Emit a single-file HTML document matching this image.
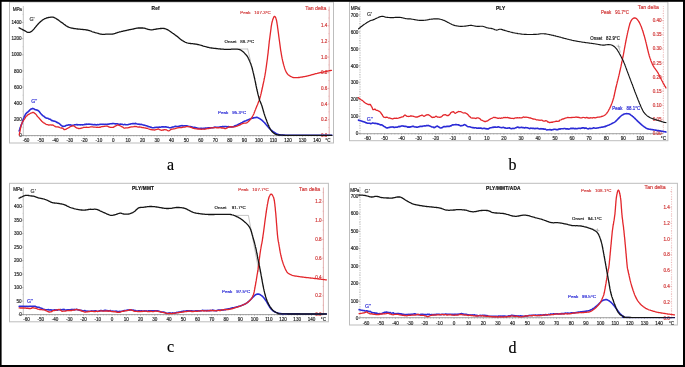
<!DOCTYPE html>
<html><head><meta charset="utf-8"><style>
html,body{margin:0;padding:0;background:#fff;}
svg{display:block;will-change:transform;}
text{font-family:"Liberation Sans",sans-serif;} text.serif{font-family:"Liberation Serif",serif;}
</style></head><body>
<svg width="685" height="367" viewBox="0 0 685 367">
<rect x="0" y="0" width="685" height="367" fill="#fff"/>
<rect x="9.5" y="2" width="324.0" height="141" fill="none" stroke="#bdbdbd" stroke-width="1"/>
<line x1="23.30" y1="6.00" x2="23.30" y2="135.60" stroke="#9a9a9a" stroke-width="0.6" />
<line x1="22.10" y1="135.60" x2="23.30" y2="135.60" stroke="#777" stroke-width="0.5" />
<line x1="22.50" y1="127.52" x2="23.30" y2="127.52" stroke="#aaa" stroke-width="0.4" />
<text x="21.7" y="137.2" font-size="4.6" fill="#2a2a2a" stroke="#2a2a2a" stroke-width="0.18" text-anchor="end" font-weight="normal" >0</text>
<line x1="22.10" y1="119.44" x2="23.30" y2="119.44" stroke="#777" stroke-width="0.5" />
<line x1="22.50" y1="111.36" x2="23.30" y2="111.36" stroke="#aaa" stroke-width="0.4" />
<text x="21.7" y="121.0" font-size="4.6" fill="#2a2a2a" stroke="#2a2a2a" stroke-width="0.18" text-anchor="end" font-weight="normal" >200</text>
<line x1="22.10" y1="103.28" x2="23.30" y2="103.28" stroke="#777" stroke-width="0.5" />
<line x1="22.50" y1="95.20" x2="23.30" y2="95.20" stroke="#aaa" stroke-width="0.4" />
<text x="21.7" y="104.9" font-size="4.6" fill="#2a2a2a" stroke="#2a2a2a" stroke-width="0.18" text-anchor="end" font-weight="normal" >400</text>
<line x1="22.10" y1="87.12" x2="23.30" y2="87.12" stroke="#777" stroke-width="0.5" />
<line x1="22.50" y1="79.04" x2="23.30" y2="79.04" stroke="#aaa" stroke-width="0.4" />
<text x="21.7" y="88.7" font-size="4.6" fill="#2a2a2a" stroke="#2a2a2a" stroke-width="0.18" text-anchor="end" font-weight="normal" >600</text>
<line x1="22.10" y1="70.96" x2="23.30" y2="70.96" stroke="#777" stroke-width="0.5" />
<line x1="22.50" y1="62.88" x2="23.30" y2="62.88" stroke="#aaa" stroke-width="0.4" />
<text x="21.7" y="72.6" font-size="4.6" fill="#2a2a2a" stroke="#2a2a2a" stroke-width="0.18" text-anchor="end" font-weight="normal" >800</text>
<line x1="22.10" y1="54.80" x2="23.30" y2="54.80" stroke="#777" stroke-width="0.5" />
<line x1="22.50" y1="46.72" x2="23.30" y2="46.72" stroke="#aaa" stroke-width="0.4" />
<text x="21.7" y="56.4" font-size="4.6" fill="#2a2a2a" stroke="#2a2a2a" stroke-width="0.18" text-anchor="end" font-weight="normal" >1000</text>
<line x1="22.10" y1="38.64" x2="23.30" y2="38.64" stroke="#777" stroke-width="0.5" />
<line x1="22.50" y1="30.56" x2="23.30" y2="30.56" stroke="#aaa" stroke-width="0.4" />
<text x="21.7" y="40.2" font-size="4.6" fill="#2a2a2a" stroke="#2a2a2a" stroke-width="0.18" text-anchor="end" font-weight="normal" >1200</text>
<line x1="22.10" y1="22.48" x2="23.30" y2="22.48" stroke="#777" stroke-width="0.5" />
<text x="21.7" y="24.1" font-size="4.6" fill="#2a2a2a" stroke="#2a2a2a" stroke-width="0.18" text-anchor="end" font-weight="normal" >1400</text>
<line x1="22.50" y1="14.40" x2="23.30" y2="14.40" stroke="#999" stroke-width="0.4" />
<text x="12.8" y="11.1" font-size="4.7" fill="#2a2a2a" stroke="#2a2a2a" stroke-width="0.18" text-anchor="start" font-weight="normal" letter-spacing="-0.3">MPa</text>
<line x1="19.00" y1="135.60" x2="329.20" y2="135.60" stroke="#787878" stroke-width="0.7" />
<line x1="23.19" y1="135.60" x2="23.19" y2="136.30" stroke="#666" stroke-width="0.45" />
<line x1="26.10" y1="135.60" x2="26.10" y2="136.80" stroke="#666" stroke-width="0.45" />
<line x1="29.01" y1="135.60" x2="29.01" y2="136.30" stroke="#666" stroke-width="0.45" />
<line x1="31.92" y1="135.60" x2="31.92" y2="136.30" stroke="#666" stroke-width="0.45" />
<line x1="34.83" y1="135.60" x2="34.83" y2="136.30" stroke="#666" stroke-width="0.45" />
<line x1="37.74" y1="135.60" x2="37.74" y2="136.30" stroke="#666" stroke-width="0.45" />
<line x1="40.65" y1="135.60" x2="40.65" y2="136.80" stroke="#666" stroke-width="0.45" />
<line x1="43.56" y1="135.60" x2="43.56" y2="136.30" stroke="#666" stroke-width="0.45" />
<line x1="46.47" y1="135.60" x2="46.47" y2="136.30" stroke="#666" stroke-width="0.45" />
<line x1="49.38" y1="135.60" x2="49.38" y2="136.30" stroke="#666" stroke-width="0.45" />
<line x1="52.29" y1="135.60" x2="52.29" y2="136.30" stroke="#666" stroke-width="0.45" />
<line x1="55.20" y1="135.60" x2="55.20" y2="136.80" stroke="#666" stroke-width="0.45" />
<line x1="58.11" y1="135.60" x2="58.11" y2="136.30" stroke="#666" stroke-width="0.45" />
<line x1="61.02" y1="135.60" x2="61.02" y2="136.30" stroke="#666" stroke-width="0.45" />
<line x1="63.93" y1="135.60" x2="63.93" y2="136.30" stroke="#666" stroke-width="0.45" />
<line x1="66.84" y1="135.60" x2="66.84" y2="136.30" stroke="#666" stroke-width="0.45" />
<line x1="69.75" y1="135.60" x2="69.75" y2="136.80" stroke="#666" stroke-width="0.45" />
<line x1="72.66" y1="135.60" x2="72.66" y2="136.30" stroke="#666" stroke-width="0.45" />
<line x1="75.57" y1="135.60" x2="75.57" y2="136.30" stroke="#666" stroke-width="0.45" />
<line x1="78.48" y1="135.60" x2="78.48" y2="136.30" stroke="#666" stroke-width="0.45" />
<line x1="81.39" y1="135.60" x2="81.39" y2="136.30" stroke="#666" stroke-width="0.45" />
<line x1="84.30" y1="135.60" x2="84.30" y2="136.80" stroke="#666" stroke-width="0.45" />
<line x1="87.21" y1="135.60" x2="87.21" y2="136.30" stroke="#666" stroke-width="0.45" />
<line x1="90.12" y1="135.60" x2="90.12" y2="136.30" stroke="#666" stroke-width="0.45" />
<line x1="93.03" y1="135.60" x2="93.03" y2="136.30" stroke="#666" stroke-width="0.45" />
<line x1="95.94" y1="135.60" x2="95.94" y2="136.30" stroke="#666" stroke-width="0.45" />
<line x1="98.85" y1="135.60" x2="98.85" y2="136.80" stroke="#666" stroke-width="0.45" />
<line x1="101.76" y1="135.60" x2="101.76" y2="136.30" stroke="#666" stroke-width="0.45" />
<line x1="104.67" y1="135.60" x2="104.67" y2="136.30" stroke="#666" stroke-width="0.45" />
<line x1="107.58" y1="135.60" x2="107.58" y2="136.30" stroke="#666" stroke-width="0.45" />
<line x1="110.49" y1="135.60" x2="110.49" y2="136.30" stroke="#666" stroke-width="0.45" />
<line x1="113.40" y1="135.60" x2="113.40" y2="136.80" stroke="#666" stroke-width="0.45" />
<line x1="116.31" y1="135.60" x2="116.31" y2="136.30" stroke="#666" stroke-width="0.45" />
<line x1="119.22" y1="135.60" x2="119.22" y2="136.30" stroke="#666" stroke-width="0.45" />
<line x1="122.13" y1="135.60" x2="122.13" y2="136.30" stroke="#666" stroke-width="0.45" />
<line x1="125.04" y1="135.60" x2="125.04" y2="136.30" stroke="#666" stroke-width="0.45" />
<line x1="127.95" y1="135.60" x2="127.95" y2="136.80" stroke="#666" stroke-width="0.45" />
<line x1="130.86" y1="135.60" x2="130.86" y2="136.30" stroke="#666" stroke-width="0.45" />
<line x1="133.77" y1="135.60" x2="133.77" y2="136.30" stroke="#666" stroke-width="0.45" />
<line x1="136.68" y1="135.60" x2="136.68" y2="136.30" stroke="#666" stroke-width="0.45" />
<line x1="139.59" y1="135.60" x2="139.59" y2="136.30" stroke="#666" stroke-width="0.45" />
<line x1="142.50" y1="135.60" x2="142.50" y2="136.80" stroke="#666" stroke-width="0.45" />
<line x1="145.41" y1="135.60" x2="145.41" y2="136.30" stroke="#666" stroke-width="0.45" />
<line x1="148.32" y1="135.60" x2="148.32" y2="136.30" stroke="#666" stroke-width="0.45" />
<line x1="151.23" y1="135.60" x2="151.23" y2="136.30" stroke="#666" stroke-width="0.45" />
<line x1="154.14" y1="135.60" x2="154.14" y2="136.30" stroke="#666" stroke-width="0.45" />
<line x1="157.05" y1="135.60" x2="157.05" y2="136.80" stroke="#666" stroke-width="0.45" />
<line x1="159.96" y1="135.60" x2="159.96" y2="136.30" stroke="#666" stroke-width="0.45" />
<line x1="162.87" y1="135.60" x2="162.87" y2="136.30" stroke="#666" stroke-width="0.45" />
<line x1="165.78" y1="135.60" x2="165.78" y2="136.30" stroke="#666" stroke-width="0.45" />
<line x1="168.69" y1="135.60" x2="168.69" y2="136.30" stroke="#666" stroke-width="0.45" />
<line x1="171.60" y1="135.60" x2="171.60" y2="136.80" stroke="#666" stroke-width="0.45" />
<line x1="174.51" y1="135.60" x2="174.51" y2="136.30" stroke="#666" stroke-width="0.45" />
<line x1="177.42" y1="135.60" x2="177.42" y2="136.30" stroke="#666" stroke-width="0.45" />
<line x1="180.33" y1="135.60" x2="180.33" y2="136.30" stroke="#666" stroke-width="0.45" />
<line x1="183.24" y1="135.60" x2="183.24" y2="136.30" stroke="#666" stroke-width="0.45" />
<line x1="186.15" y1="135.60" x2="186.15" y2="136.80" stroke="#666" stroke-width="0.45" />
<line x1="189.06" y1="135.60" x2="189.06" y2="136.30" stroke="#666" stroke-width="0.45" />
<line x1="191.97" y1="135.60" x2="191.97" y2="136.30" stroke="#666" stroke-width="0.45" />
<line x1="194.88" y1="135.60" x2="194.88" y2="136.30" stroke="#666" stroke-width="0.45" />
<line x1="197.79" y1="135.60" x2="197.79" y2="136.30" stroke="#666" stroke-width="0.45" />
<line x1="200.70" y1="135.60" x2="200.70" y2="136.80" stroke="#666" stroke-width="0.45" />
<line x1="203.61" y1="135.60" x2="203.61" y2="136.30" stroke="#666" stroke-width="0.45" />
<line x1="206.52" y1="135.60" x2="206.52" y2="136.30" stroke="#666" stroke-width="0.45" />
<line x1="209.43" y1="135.60" x2="209.43" y2="136.30" stroke="#666" stroke-width="0.45" />
<line x1="212.34" y1="135.60" x2="212.34" y2="136.30" stroke="#666" stroke-width="0.45" />
<line x1="215.25" y1="135.60" x2="215.25" y2="136.80" stroke="#666" stroke-width="0.45" />
<line x1="218.16" y1="135.60" x2="218.16" y2="136.30" stroke="#666" stroke-width="0.45" />
<line x1="221.07" y1="135.60" x2="221.07" y2="136.30" stroke="#666" stroke-width="0.45" />
<line x1="223.98" y1="135.60" x2="223.98" y2="136.30" stroke="#666" stroke-width="0.45" />
<line x1="226.89" y1="135.60" x2="226.89" y2="136.30" stroke="#666" stroke-width="0.45" />
<line x1="229.80" y1="135.60" x2="229.80" y2="136.80" stroke="#666" stroke-width="0.45" />
<line x1="232.71" y1="135.60" x2="232.71" y2="136.30" stroke="#666" stroke-width="0.45" />
<line x1="235.62" y1="135.60" x2="235.62" y2="136.30" stroke="#666" stroke-width="0.45" />
<line x1="238.53" y1="135.60" x2="238.53" y2="136.30" stroke="#666" stroke-width="0.45" />
<line x1="241.44" y1="135.60" x2="241.44" y2="136.30" stroke="#666" stroke-width="0.45" />
<line x1="244.35" y1="135.60" x2="244.35" y2="136.80" stroke="#666" stroke-width="0.45" />
<line x1="247.26" y1="135.60" x2="247.26" y2="136.30" stroke="#666" stroke-width="0.45" />
<line x1="250.17" y1="135.60" x2="250.17" y2="136.30" stroke="#666" stroke-width="0.45" />
<line x1="253.08" y1="135.60" x2="253.08" y2="136.30" stroke="#666" stroke-width="0.45" />
<line x1="255.99" y1="135.60" x2="255.99" y2="136.30" stroke="#666" stroke-width="0.45" />
<line x1="258.90" y1="135.60" x2="258.90" y2="136.80" stroke="#666" stroke-width="0.45" />
<line x1="261.81" y1="135.60" x2="261.81" y2="136.30" stroke="#666" stroke-width="0.45" />
<line x1="264.72" y1="135.60" x2="264.72" y2="136.30" stroke="#666" stroke-width="0.45" />
<line x1="267.63" y1="135.60" x2="267.63" y2="136.30" stroke="#666" stroke-width="0.45" />
<line x1="270.54" y1="135.60" x2="270.54" y2="136.30" stroke="#666" stroke-width="0.45" />
<line x1="273.45" y1="135.60" x2="273.45" y2="136.80" stroke="#666" stroke-width="0.45" />
<line x1="276.36" y1="135.60" x2="276.36" y2="136.30" stroke="#666" stroke-width="0.45" />
<line x1="279.27" y1="135.60" x2="279.27" y2="136.30" stroke="#666" stroke-width="0.45" />
<line x1="282.18" y1="135.60" x2="282.18" y2="136.30" stroke="#666" stroke-width="0.45" />
<line x1="285.09" y1="135.60" x2="285.09" y2="136.30" stroke="#666" stroke-width="0.45" />
<line x1="288.00" y1="135.60" x2="288.00" y2="136.80" stroke="#666" stroke-width="0.45" />
<line x1="290.91" y1="135.60" x2="290.91" y2="136.30" stroke="#666" stroke-width="0.45" />
<line x1="293.82" y1="135.60" x2="293.82" y2="136.30" stroke="#666" stroke-width="0.45" />
<line x1="296.73" y1="135.60" x2="296.73" y2="136.30" stroke="#666" stroke-width="0.45" />
<line x1="299.64" y1="135.60" x2="299.64" y2="136.30" stroke="#666" stroke-width="0.45" />
<line x1="302.55" y1="135.60" x2="302.55" y2="136.80" stroke="#666" stroke-width="0.45" />
<line x1="305.46" y1="135.60" x2="305.46" y2="136.30" stroke="#666" stroke-width="0.45" />
<line x1="308.37" y1="135.60" x2="308.37" y2="136.30" stroke="#666" stroke-width="0.45" />
<line x1="311.28" y1="135.60" x2="311.28" y2="136.30" stroke="#666" stroke-width="0.45" />
<line x1="314.19" y1="135.60" x2="314.19" y2="136.30" stroke="#666" stroke-width="0.45" />
<line x1="317.10" y1="135.60" x2="317.10" y2="136.80" stroke="#666" stroke-width="0.45" />
<line x1="320.01" y1="135.60" x2="320.01" y2="136.30" stroke="#666" stroke-width="0.45" />
<line x1="322.92" y1="135.60" x2="322.92" y2="136.30" stroke="#666" stroke-width="0.45" />
<line x1="325.83" y1="135.60" x2="325.83" y2="136.30" stroke="#666" stroke-width="0.45" />
<line x1="328.74" y1="135.60" x2="328.74" y2="136.30" stroke="#666" stroke-width="0.45" />
<text x="26.1" y="141.8" font-size="4.6" fill="#2a2a2a" stroke="#2a2a2a" stroke-width="0.18" text-anchor="middle" font-weight="normal" >-60</text>
<text x="40.7" y="141.8" font-size="4.6" fill="#2a2a2a" stroke="#2a2a2a" stroke-width="0.18" text-anchor="middle" font-weight="normal" >-50</text>
<text x="55.2" y="141.8" font-size="4.6" fill="#2a2a2a" stroke="#2a2a2a" stroke-width="0.18" text-anchor="middle" font-weight="normal" >-40</text>
<text x="69.8" y="141.8" font-size="4.6" fill="#2a2a2a" stroke="#2a2a2a" stroke-width="0.18" text-anchor="middle" font-weight="normal" >-30</text>
<text x="84.3" y="141.8" font-size="4.6" fill="#2a2a2a" stroke="#2a2a2a" stroke-width="0.18" text-anchor="middle" font-weight="normal" >-20</text>
<text x="98.9" y="141.8" font-size="4.6" fill="#2a2a2a" stroke="#2a2a2a" stroke-width="0.18" text-anchor="middle" font-weight="normal" >-10</text>
<text x="113.4" y="141.8" font-size="4.6" fill="#2a2a2a" stroke="#2a2a2a" stroke-width="0.18" text-anchor="middle" font-weight="normal" >0</text>
<text x="128.0" y="141.8" font-size="4.6" fill="#2a2a2a" stroke="#2a2a2a" stroke-width="0.18" text-anchor="middle" font-weight="normal" >10</text>
<text x="142.5" y="141.8" font-size="4.6" fill="#2a2a2a" stroke="#2a2a2a" stroke-width="0.18" text-anchor="middle" font-weight="normal" >20</text>
<text x="157.1" y="141.8" font-size="4.6" fill="#2a2a2a" stroke="#2a2a2a" stroke-width="0.18" text-anchor="middle" font-weight="normal" >30</text>
<text x="171.6" y="141.8" font-size="4.6" fill="#2a2a2a" stroke="#2a2a2a" stroke-width="0.18" text-anchor="middle" font-weight="normal" >40</text>
<text x="186.2" y="141.8" font-size="4.6" fill="#2a2a2a" stroke="#2a2a2a" stroke-width="0.18" text-anchor="middle" font-weight="normal" >50</text>
<text x="200.7" y="141.8" font-size="4.6" fill="#2a2a2a" stroke="#2a2a2a" stroke-width="0.18" text-anchor="middle" font-weight="normal" >60</text>
<text x="215.2" y="141.8" font-size="4.6" fill="#2a2a2a" stroke="#2a2a2a" stroke-width="0.18" text-anchor="middle" font-weight="normal" >70</text>
<text x="229.8" y="141.8" font-size="4.6" fill="#2a2a2a" stroke="#2a2a2a" stroke-width="0.18" text-anchor="middle" font-weight="normal" >80</text>
<text x="244.4" y="141.8" font-size="4.6" fill="#2a2a2a" stroke="#2a2a2a" stroke-width="0.18" text-anchor="middle" font-weight="normal" >90</text>
<text x="258.9" y="141.8" font-size="4.6" fill="#2a2a2a" stroke="#2a2a2a" stroke-width="0.18" text-anchor="middle" font-weight="normal" >100</text>
<text x="273.5" y="141.8" font-size="4.6" fill="#2a2a2a" stroke="#2a2a2a" stroke-width="0.18" text-anchor="middle" font-weight="normal" >110</text>
<text x="288.0" y="141.8" font-size="4.6" fill="#2a2a2a" stroke="#2a2a2a" stroke-width="0.18" text-anchor="middle" font-weight="normal" >120</text>
<text x="302.6" y="141.8" font-size="4.6" fill="#2a2a2a" stroke="#2a2a2a" stroke-width="0.18" text-anchor="middle" font-weight="normal" >130</text>
<text x="317.1" y="141.8" font-size="4.6" fill="#2a2a2a" stroke="#2a2a2a" stroke-width="0.18" text-anchor="middle" font-weight="normal" >140</text>
<text x="327.9" y="141.8" font-size="4.6" fill="#2a2a2a" stroke="#2a2a2a" stroke-width="0.18" text-anchor="middle" font-weight="normal" >°C</text>
<line x1="329.20" y1="6.50" x2="329.20" y2="135.60" stroke="#dc9a9a" stroke-width="0.8" />
<line x1="328.00" y1="135.30" x2="329.20" y2="135.30" stroke="#d07070" stroke-width="0.5" />
<line x1="328.50" y1="127.48" x2="329.20" y2="127.48" stroke="#d07070" stroke-width="0.4" />
<text x="327.4" y="136.9" font-size="4.6" fill="#d23c3c" stroke="#d23c3c" stroke-width="0.18" text-anchor="end" font-weight="normal" >0.0</text>
<line x1="328.00" y1="119.66" x2="329.20" y2="119.66" stroke="#d07070" stroke-width="0.5" />
<line x1="328.50" y1="111.84" x2="329.20" y2="111.84" stroke="#d07070" stroke-width="0.4" />
<text x="327.4" y="121.3" font-size="4.6" fill="#d23c3c" stroke="#d23c3c" stroke-width="0.18" text-anchor="end" font-weight="normal" >0.2</text>
<line x1="328.00" y1="104.02" x2="329.20" y2="104.02" stroke="#d07070" stroke-width="0.5" />
<line x1="328.50" y1="96.20" x2="329.20" y2="96.20" stroke="#d07070" stroke-width="0.4" />
<text x="327.4" y="105.6" font-size="4.6" fill="#d23c3c" stroke="#d23c3c" stroke-width="0.18" text-anchor="end" font-weight="normal" >0.4</text>
<line x1="328.00" y1="88.38" x2="329.20" y2="88.38" stroke="#d07070" stroke-width="0.5" />
<line x1="328.50" y1="80.56" x2="329.20" y2="80.56" stroke="#d07070" stroke-width="0.4" />
<text x="327.4" y="90.0" font-size="4.6" fill="#d23c3c" stroke="#d23c3c" stroke-width="0.18" text-anchor="end" font-weight="normal" >0.6</text>
<line x1="328.00" y1="72.74" x2="329.20" y2="72.74" stroke="#d07070" stroke-width="0.5" />
<line x1="328.50" y1="64.92" x2="329.20" y2="64.92" stroke="#d07070" stroke-width="0.4" />
<text x="327.4" y="74.3" font-size="4.6" fill="#d23c3c" stroke="#d23c3c" stroke-width="0.18" text-anchor="end" font-weight="normal" >0.8</text>
<line x1="328.00" y1="57.10" x2="329.20" y2="57.10" stroke="#d07070" stroke-width="0.5" />
<line x1="328.50" y1="49.28" x2="329.20" y2="49.28" stroke="#d07070" stroke-width="0.4" />
<text x="327.4" y="58.7" font-size="4.6" fill="#d23c3c" stroke="#d23c3c" stroke-width="0.18" text-anchor="end" font-weight="normal" >1.0</text>
<line x1="328.00" y1="41.46" x2="329.20" y2="41.46" stroke="#d07070" stroke-width="0.5" />
<line x1="328.50" y1="33.64" x2="329.20" y2="33.64" stroke="#d07070" stroke-width="0.4" />
<text x="327.4" y="43.1" font-size="4.6" fill="#d23c3c" stroke="#d23c3c" stroke-width="0.18" text-anchor="end" font-weight="normal" >1.2</text>
<line x1="328.00" y1="25.82" x2="329.20" y2="25.82" stroke="#d07070" stroke-width="0.5" />
<text x="327.4" y="27.4" font-size="4.6" fill="#d23c3c" stroke="#d23c3c" stroke-width="0.18" text-anchor="end" font-weight="normal" >1.4</text>
<line x1="328.50" y1="18.00" x2="329.20" y2="18.00" stroke="#d07070" stroke-width="0.4" />
<line x1="328.00" y1="10.18" x2="329.20" y2="10.18" stroke="#d07070" stroke-width="0.4" />
<g transform="translate(305.3,9.6) scale(1,1)">
<text x="0.0" y="0.0" font-size="5.2" fill="#d23c3c" stroke="#d23c3c" stroke-width="0.18" text-anchor="start" font-weight="normal" >Tan delta</text>
</g>
<text x="151.6" y="9.5" font-size="4.8" fill="#111" stroke="#111" stroke-width="0.18" text-anchor="start" font-weight="bold" letter-spacing="0.15">Ref</text>
<text x="29.5" y="20.8" font-size="5.2" fill="#333" stroke="#333" stroke-width="0.18" text-anchor="start" font-weight="normal" >G'</text>
<text x="31.3" y="103.1" font-size="5.2" fill="#2b2bd6" stroke="#2b2bd6" stroke-width="0.18" text-anchor="start" font-weight="normal" >G''</text>
<g transform="translate(224.4,42.9) scale(1,1)">
<text x="0.0" y="0.0" font-size="4.4" fill="#222" stroke="#222" stroke-width="0.18" text-anchor="start" font-weight="normal" letter-spacing="0.07">Onset&#160;&#160;&#160;88.7°C</text>
</g>
<g transform="translate(240.2,13.6) scale(1,1)">
<text x="0.0" y="0.0" font-size="4.4" fill="#d23c3c" stroke="#d23c3c" stroke-width="0.18" text-anchor="start" font-weight="normal" letter-spacing="0.07">Peak&#160;&#160;&#160;107.3°C</text>
</g>
<g transform="translate(218.1,114.2) scale(1,1)">
<text x="0.0" y="0.0" font-size="4.4" fill="#2b2bd6" stroke="#2b2bd6" stroke-width="0.18" text-anchor="start" font-weight="normal" letter-spacing="0.07">Peak&#160;&#160;&#160;95.3°C</text>
</g>
<line x1="238.30" y1="49.00" x2="247.60" y2="49.00" stroke="#7a7a7a" stroke-width="0.45" />
<line x1="247.60" y1="48.50" x2="250.50" y2="61.00" stroke="#7a7a7a" stroke-width="0.45" />
<clipPath id="ca"><rect x="18" y="2" width="314.7" height="134.1"/></clipPath>
<g clip-path="url(#ca)" fill="none" stroke-linejoin="round" stroke-linecap="round">
<path d="M19.2 130.9 L19.3 130.5 L19.5 130.0 L19.7 129.5 L19.9 128.9 L20.2 128.1 L20.4 127.3 L20.7 126.7 L20.9 125.8 L21.2 125.0 L21.5 124.5 L21.8 123.7 L22.0 123.1 L22.3 122.3 L22.5 121.7 L22.7 120.9 L23.0 120.1 L23.3 119.4 L23.6 118.6 L23.8 117.9 L24.1 117.3 L24.4 116.3 L24.7 115.9 L25.0 115.3 L25.4 114.5 L25.9 113.6 L26.4 113.3 L26.9 112.7 L27.5 112.2 L28.0 111.9 L28.5 111.4 L29.1 110.9 L29.7 110.1 L30.3 109.7 L30.9 109.1 L31.5 108.9 L32.0 108.8 L32.8 108.4 L33.6 108.7 L34.4 109.1 L35.0 109.6 L35.7 109.7 L36.4 109.9 L37.2 110.1 L37.9 110.5 L38.4 110.8 L38.9 111.2 L39.4 111.8 L39.9 112.4 L40.4 113.2 L40.9 113.7 L41.4 114.3 L42.0 114.9 L42.6 115.5 L43.1 115.9 L43.7 116.1 L44.3 116.7 L44.9 117.3 L45.6 117.7 L46.3 117.9 L47.0 118.2 L47.7 118.2 L48.4 118.7 L49.1 119.0 L49.8 119.3 L50.5 119.4 L51.2 120.1 L51.9 120.7 L52.6 120.6 L53.3 121.0 L54.0 121.1 L54.7 121.2 L55.4 121.4 L56.1 121.9 L56.8 122.4 L57.5 122.5 L58.2 123.0 L58.9 123.2 L59.5 123.8 L60.1 124.2 L60.7 124.9 L61.3 125.5 L61.9 125.8 L62.4 126.3 L63.2 126.4 L63.9 126.2 L64.7 126.3 L65.3 125.9 L66.0 125.6 L66.7 125.3 L67.4 125.2 L68.2 124.9 L68.9 124.7 L69.7 125.0 L70.6 124.9 L71.4 125.3 L72.2 125.4 L72.9 125.2 L73.7 125.1 L74.3 124.9 L75.0 124.8 L75.6 124.7 L76.4 124.6 L77.1 124.6 L77.8 124.9 L78.5 124.8 L79.3 124.8 L80.2 124.9 L81.1 124.8 L81.7 124.7 L82.4 124.9 L83.1 124.8 L83.8 124.7 L84.6 124.4 L85.4 124.3 L86.1 124.4 L86.8 124.1 L87.5 124.2 L88.1 124.3 L89.0 124.1 L89.9 124.2 L90.7 124.3 L91.4 124.5 L92.1 124.4 L92.7 124.6 L93.5 124.8 L94.1 124.6 L95.0 124.5 L95.6 124.7 L96.2 124.9 L96.9 124.7 L97.7 124.6 L98.5 124.7 L99.3 124.5 L100.0 124.4 L100.8 124.3 L101.5 124.3 L102.2 124.4 L103.0 124.3 L103.7 124.3 L104.4 124.5 L105.1 124.2 L105.9 124.3 L106.7 124.4 L107.4 124.2 L108.0 124.0 L108.7 124.2 L109.4 123.9 L110.1 123.7 L110.8 123.7 L111.6 123.8 L112.3 123.6 L113.0 123.5 L113.7 123.5 L114.4 123.8 L115.1 123.7 L115.8 124.0 L116.5 123.8 L117.2 123.8 L117.9 124.0 L118.6 124.3 L119.3 124.3 L120.0 124.2 L120.7 124.1 L121.4 124.2 L122.1 124.2 L122.8 124.5 L123.6 124.7 L124.3 124.5 L125.0 124.4 L125.7 124.7 L126.4 124.7 L127.0 124.8 L127.7 124.7 L128.5 124.4 L129.2 124.2 L129.9 124.3 L130.5 124.0 L131.2 123.8 L131.9 123.7 L132.7 123.6 L133.5 123.6 L134.2 123.8 L134.9 123.6 L135.7 123.4 L136.5 123.8 L137.3 124.0 L138.1 124.2 L138.9 124.1 L139.7 124.4 L140.4 124.5 L141.1 124.3 L141.7 124.5 L142.6 124.8 L143.3 125.0 L144.0 125.1 L144.6 125.2 L145.2 125.4 L145.8 125.6 L146.4 125.7 L147.2 126.1 L147.9 126.3 L148.7 126.7 L149.5 126.7 L150.3 127.1 L151.1 127.3 L151.8 127.6 L152.5 127.7 L153.2 127.8 L154.0 127.7 L154.8 127.4 L155.5 127.5 L156.2 127.3 L156.9 127.2 L157.8 127.3 L158.6 127.3 L159.4 127.1 L160.2 127.2 L160.9 127.1 L161.6 126.9 L162.4 126.8 L163.0 127.0 L163.7 126.9 L164.3 127.0 L165.1 126.9 L165.8 126.8 L166.5 127.0 L167.3 127.3 L168.1 127.2 L168.9 127.5 L169.7 127.7 L170.4 127.7 L171.2 127.6 L172.1 127.1 L172.9 127.0 L173.6 127.0 L174.4 126.6 L175.0 126.4 L175.8 126.3 L176.3 126.5 L176.9 126.5 L177.8 126.5 L178.3 126.6 L179.0 126.3 L179.7 126.0 L180.4 125.9 L181.2 125.7 L182.0 125.6 L182.7 125.9 L183.5 126.0 L184.2 125.7 L184.8 125.7 L185.7 125.7 L186.5 125.8 L187.2 125.9 L187.9 126.2 L188.7 126.4 L189.5 126.5 L190.2 126.5 L190.9 126.7 L191.6 126.7 L192.4 127.1 L193.1 127.4 L193.9 127.5 L194.7 127.4 L195.4 127.5 L196.1 127.7 L196.9 127.9 L197.6 128.2 L198.3 128.2 L199.0 128.4 L199.8 128.5 L200.5 128.4 L201.2 128.4 L201.9 128.4 L202.6 128.5 L203.4 128.4 L204.1 128.4 L204.8 128.3 L205.5 128.1 L206.3 128.1 L207.0 128.2 L207.7 127.9 L208.5 127.8 L209.2 127.8 L209.9 127.9 L210.7 128.0 L211.4 127.8 L212.2 127.8 L212.9 127.8 L213.6 127.5 L214.4 127.4 L215.1 127.1 L215.8 127.2 L216.5 127.2 L217.2 127.3 L218.0 127.2 L218.7 127.2 L219.4 127.1 L220.2 127.1 L220.9 126.8 L221.7 126.9 L222.4 126.6 L223.1 126.6 L223.9 126.8 L224.6 126.6 L225.3 126.5 L226.1 126.5 L226.8 126.9 L227.6 126.8 L228.3 126.6 L229.0 126.9 L229.7 126.7 L230.4 126.9 L231.2 126.9 L232.0 126.9 L232.8 126.8 L233.6 126.5 L234.3 126.3 L235.1 125.8 L235.8 125.6 L236.6 125.2 L237.4 124.9 L238.2 124.4 L239.0 124.1 L239.6 123.8 L240.0 123.6" stroke="#2b2bd6" stroke-width="1.6"/>
<path d="M240.0 123.6 L240.4 123.4 L240.9 123.1 L241.6 122.7 L242.3 122.4 L243.0 122.0 L243.7 121.6 L244.4 121.3 L245.1 121.0 L245.9 120.7 L246.6 120.4 L247.3 120.1 L248.0 119.9 L248.7 119.6 L249.4 119.3 L250.0 119.0 L250.6 118.8 L251.3 118.5 L252.0 118.3 L252.7 118.1 L253.5 117.9 L254.3 117.7 L255.1 117.6 L255.8 117.5 L256.4 117.4 L257.2 117.4 L257.8 117.6 L258.5 118.0 L259.1 118.3 L259.7 118.7 L260.4 119.2 L261.1 119.7 L261.8 120.2 L262.4 120.7 L262.9 121.2 L263.5 121.7 L264.0 122.2 L264.6 122.8 L265.1 123.4 L265.6 123.9 L266.0 124.5 L266.5 125.1 L267.0 125.6 L267.5 126.2 L267.9 126.8 L268.4 127.3 L268.9 127.9 L269.5 128.5 L270.0 129.0 L270.5 129.5 L271.1 130.0 L271.6 130.5 L272.3 131.0 L272.9 131.5 L273.6 131.9 L274.2 132.3 L274.9 132.7 L275.5 133.1 L276.1 133.5 L276.7 133.8 L277.4 134.1 L278.2 134.4 L278.8 134.6 L279.3 134.7 L279.8 134.8 L280.4 134.9 L281.2 135.0 L282.2 135.0 L283.6 135.1 L284.1 135.1 L284.6 135.1 L285.1 135.2 L285.6 135.2 L286.1 135.2 L286.7 135.2 L287.3 135.2 L287.9 135.2 L288.5 135.2 L289.1 135.2 L289.8 135.2 L290.5 135.2 L291.2 135.3 L291.9 135.3 L292.7 135.3 L293.5 135.3 L294.3 135.3 L295.2 135.3 L296.1 135.3 L297.0 135.3 L298.0 135.3 L299.0 135.3 L300.0 135.3 L300.6 135.3 L301.1 135.3 L301.7 135.3 L302.4 135.3 L303.0 135.3 L303.7 135.3 L304.4 135.3 L305.2 135.3 L305.9 135.3 L306.7 135.3 L307.5 135.3 L308.2 135.3 L309.1 135.3 L309.9 135.3 L310.7 135.3 L311.5 135.3 L312.4 135.3 L313.2 135.3 L314.1 135.3 L314.9 135.3 L315.8 135.3 L316.6 135.3 L317.4 135.3 L318.3 135.3 L319.1 135.3 L319.9 135.3 L320.8 135.3 L321.6 135.3 L322.3 135.3 L323.1 135.3 L323.9 135.3 L324.6 135.3 L325.4 135.3 L326.1 135.3 L326.7 135.3 L327.4 135.3 L328.0 135.3 L328.6 135.3 L329.2 135.3 L329.8 135.3 L330.3 135.3 L330.8 135.3 L331.2 135.3 L331.6 135.3 L332.0 135.3" stroke="#2b2bd6" stroke-width="1.6"/>
<path d="M19.2 135.0 L19.3 134.6 L19.4 134.1 L19.5 133.5 L19.6 132.7 L19.8 132.0 L20.0 131.2 L20.1 130.5 L20.3 129.6 L20.5 128.7 L20.6 127.9 L20.8 127.0 L21.0 126.3 L21.2 125.4 L21.3 124.9 L21.5 124.6 L21.8 123.6 L22.1 122.9 L22.4 122.0 L22.7 121.6 L23.1 121.2 L23.4 120.7 L23.8 120.0 L24.2 119.4 L24.6 118.8 L25.0 118.3 L25.5 117.4 L25.9 116.5 L26.4 116.2 L26.9 115.9 L27.3 115.3 L28.0 114.7 L28.8 114.4 L29.5 113.8 L30.2 113.5 L30.8 113.2 L31.7 112.9 L32.4 112.5 L33.2 112.4 L34.0 112.7 L34.7 113.4 L35.5 113.8 L36.0 114.4 L36.4 114.9 L36.9 115.7 L37.3 116.3 L37.9 116.9 L38.3 117.3 L38.8 117.7 L39.3 118.5 L39.8 119.1 L40.4 119.6 L40.9 120.3 L41.4 120.8 L42.0 121.5 L42.6 121.8 L43.1 122.5 L43.7 122.8 L44.3 123.2 L44.9 123.4 L45.6 124.0 L46.3 124.4 L47.0 124.6 L47.7 124.7 L48.4 125.0 L49.1 125.1 L49.8 124.9 L50.5 124.9 L51.2 125.1 L51.9 125.0 L52.6 125.0 L53.3 125.2 L54.0 125.7 L54.7 126.1 L55.4 126.6 L56.1 126.9 L56.8 126.9 L57.5 126.9 L58.2 127.0 L58.9 127.1 L59.6 127.5 L60.4 127.8 L61.1 128.0 L61.8 127.9 L62.4 128.2 L63.0 128.5 L63.6 129.0 L64.1 129.7 L64.7 129.7 L65.3 129.4 L66.0 129.3 L66.7 128.8 L67.5 128.3 L68.2 128.0 L68.9 127.7 L69.7 127.0 L70.4 126.7 L71.1 126.4 L71.7 126.2 L72.6 125.8 L73.3 125.7 L74.1 126.1 L74.7 126.3 L75.2 127.0 L75.7 127.4 L76.4 127.8 L77.0 128.2 L77.7 128.1 L78.4 128.5 L79.2 128.7 L79.9 128.3 L80.6 128.5 L81.2 128.1 L81.9 128.0 L82.6 127.8 L83.4 127.4 L84.1 127.4 L84.9 127.4 L85.7 127.4 L86.5 127.2 L87.3 127.3 L88.1 127.4 L88.9 127.3 L89.7 127.2 L90.5 126.9 L91.3 126.9 L92.1 126.8 L92.7 126.9 L93.5 127.1 L94.1 127.2 L95.0 127.1 L95.6 127.2 L96.3 127.3 L97.1 127.2 L98.0 127.4 L98.8 127.4 L99.7 127.1 L100.4 127.3 L101.0 126.9 L101.7 126.7 L102.5 126.7 L103.2 126.5 L103.9 126.4 L104.7 126.3 L105.5 126.2 L106.2 126.2 L106.8 126.2 L107.5 126.2 L108.3 126.6 L109.0 127.0 L109.7 127.1 L110.4 127.4 L111.2 127.4 L111.8 127.3 L112.5 127.3 L113.2 127.4 L113.9 126.9 L114.6 126.6 L115.2 126.1 L115.8 126.0 L116.5 125.5 L117.1 125.2 L117.8 125.0 L118.4 125.0 L119.0 125.3 L119.7 125.5 L120.3 126.0 L121.0 126.2 L121.6 126.6 L122.3 126.9 L122.9 127.2 L123.6 127.8 L124.2 128.2 L124.9 128.1 L125.6 127.9 L126.4 127.9 L127.1 127.9 L127.8 127.9 L128.5 127.7 L129.3 127.5 L130.0 127.1 L130.7 127.0 L131.5 126.8 L132.2 126.8 L132.9 126.8 L133.7 126.6 L134.4 126.4 L135.2 126.6 L135.9 126.4 L136.6 126.6 L137.4 126.9 L138.1 127.1 L138.9 127.0 L139.6 127.0 L140.3 127.1 L141.0 127.2 L141.7 127.5 L142.5 127.6 L143.3 127.5 L144.0 127.8 L144.7 127.8 L145.5 128.0 L146.4 128.3 L147.0 128.1 L147.7 128.5 L148.4 128.8 L149.1 129.0 L149.9 129.3 L150.7 129.5 L151.4 129.6 L152.1 129.8 L152.8 129.7 L153.4 129.9 L154.3 130.0 L155.2 129.8 L156.0 129.5 L156.7 129.4 L157.4 129.3 L158.1 128.9 L158.9 129.2 L159.6 129.6 L160.3 129.8 L160.9 130.2 L161.6 130.3 L162.3 130.1 L163.0 130.0 L163.7 130.0 L164.4 129.6 L165.1 129.7 L165.8 129.8 L166.5 129.8 L167.2 130.3 L167.9 130.6 L168.6 130.8 L169.3 130.6 L169.9 130.2 L170.6 129.6 L171.2 129.3 L172.0 129.1 L172.7 129.1 L173.4 128.8 L174.2 128.8 L175.0 128.7 L175.8 128.4 L176.7 128.1 L177.4 127.9 L178.1 127.8 L178.8 127.7 L179.5 127.7 L180.3 127.7 L181.0 127.6 L181.8 127.5 L182.5 127.4 L183.2 127.2 L184.0 127.1 L184.8 127.1 L185.5 126.8 L186.3 126.5 L187.0 126.7 L187.7 126.7 L188.4 126.6 L189.1 126.7 L189.8 126.9 L190.5 127.3 L191.1 127.4 L191.7 127.6 L192.3 127.8 L193.0 128.3 L193.8 128.4 L194.5 128.6 L195.3 128.7 L196.0 128.8 L196.9 128.9 L197.7 129.0 L198.4 129.1 L199.1 129.0 L199.8 129.0 L200.5 129.1 L201.3 129.3 L202.0 129.2 L202.8 129.1 L203.5 129.2 L204.2 129.2 L205.0 129.3 L205.7 128.9 L206.4 128.8 L207.2 128.7 L207.9 128.3 L208.7 128.6 L209.4 128.3 L210.1 128.0 L210.9 128.0 L211.6 127.8 L212.3 127.9 L213.0 127.8 L213.8 127.6 L214.5 127.5 L215.2 127.7 L215.9 127.6 L216.7 127.8 L217.4 127.7 L218.2 127.9 L218.9 127.8 L219.6 127.6 L220.3 127.6 L221.0 127.8 L221.8 128.0 L222.6 128.0 L223.4 128.0 L224.2 128.3 L224.9 128.6 L225.7 128.6 L226.5 128.2 L227.3 127.8 L228.0 127.5 L228.8 127.2 L229.6 126.9 L230.4 126.7 L231.2 126.9 L232.0 127.0 L232.8 126.8 L233.5 127.0 L234.3 126.8 L235.1 126.7 L235.9 126.5 L236.8 126.2 L237.7 125.8 L238.5 125.4 L239.2 125.2 L239.7 125.0" stroke="#e3262b" stroke-width="1.3"/>
<path d="M239.7 125.0 L240.2 124.8 L240.9 124.4 L241.7 124.0 L242.5 123.7 L243.3 123.4 L244.1 123.2 L244.9 123.2 L245.7 123.2 L246.5 122.9 L247.0 122.6 L247.6 122.2 L248.1 121.8 L248.7 121.3 L249.2 120.8 L249.8 120.2 L250.2 119.7 L250.6 119.2 L251.1 118.6 L251.5 118.0 L251.9 117.4 L252.3 116.7 L252.7 116.0 L253.1 115.3 L253.4 114.7 L253.7 114.1 L254.0 113.4 L254.2 112.7 L254.5 112.0 L254.8 111.3 L255.0 110.6 L255.3 110.0 L255.6 109.3 L255.8 108.7 L256.1 108.0 L256.4 107.3 L256.7 106.6 L256.9 106.0 L257.2 105.3 L257.5 104.7 L257.7 104.0 L258.0 103.3 L258.2 102.7 L258.5 102.1 L258.7 101.5 L258.9 100.9 L259.2 100.2 L259.4 99.6 L259.7 98.8 L259.9 98.0 L260.2 97.0 L260.3 96.4 L260.5 95.9 L260.7 95.2 L260.8 94.6 L261.0 93.9 L261.2 93.2 L261.3 92.5 L261.5 91.8 L261.7 91.0 L261.8 90.3 L262.0 89.5 L262.2 88.8 L262.3 88.0 L262.5 87.3 L262.7 86.5 L262.8 85.7 L263.0 85.0 L263.1 84.3 L263.3 83.6 L263.4 82.9 L263.6 82.3 L263.7 81.6 L263.9 80.9 L264.0 80.2 L264.1 79.5 L264.3 78.8 L264.4 78.1 L264.6 77.4 L264.7 76.7 L264.8 75.9 L265.0 75.2 L265.1 74.4 L265.2 73.6 L265.4 72.8 L265.5 72.0 L265.6 71.4 L265.7 70.7 L265.8 70.1 L265.9 69.4 L266.0 68.7 L266.1 68.0 L266.2 67.3 L266.3 66.6 L266.4 65.9 L266.5 65.1 L266.6 64.4 L266.7 63.7 L266.8 62.9 L266.9 62.2 L267.0 61.5 L267.1 60.7 L267.2 60.0 L267.3 59.3 L267.4 58.6 L267.5 57.9 L267.5 57.2 L267.6 56.5 L267.7 55.8 L267.8 55.1 L267.9 54.3 L268.0 53.6 L268.1 52.8 L268.2 52.1 L268.2 51.4 L268.3 50.6 L268.4 49.9 L268.5 49.2 L268.6 48.5 L268.6 47.8 L268.7 47.1 L268.8 46.4 L268.9 45.7 L268.9 45.0 L269.0 44.2 L269.1 43.5 L269.2 42.8 L269.2 42.1 L269.3 41.4 L269.4 40.7 L269.5 40.0 L269.6 39.3 L269.7 38.5 L269.8 37.8 L269.9 37.0 L270.0 36.2 L270.1 35.5 L270.2 34.7 L270.3 33.9 L270.4 33.1 L270.5 32.4 L270.6 31.6 L270.7 30.9 L270.8 30.1 L270.9 29.4 L271.0 28.7 L271.1 28.0 L271.1 27.4 L271.2 26.8 L271.3 26.2 L271.4 25.6 L271.5 25.1 L271.7 23.9 L271.9 22.9 L272.1 22.0 L272.3 21.3 L272.5 20.7 L272.6 20.1 L272.8 19.5 L273.0 19.0 L273.4 18.0 L273.8 17.1 L274.1 16.6 L274.5 16.3 L275.0 16.5 L275.5 17.3 L276.0 18.5 L276.1 19.0 L276.3 19.5 L276.4 20.1 L276.6 20.7 L276.7 21.4 L276.8 22.1 L277.0 23.0 L277.1 24.0 L277.3 25.1 L277.4 25.6 L277.5 26.2 L277.5 26.8 L277.6 27.4 L277.7 28.1 L277.8 28.7 L277.9 29.4 L278.0 30.2 L278.1 30.9 L278.2 31.6 L278.3 32.4 L278.4 33.2 L278.5 33.9 L278.6 34.7 L278.7 35.5 L278.8 36.3 L278.9 37.0 L279.0 37.8 L279.1 38.5 L279.2 39.3 L279.3 40.0 L279.4 40.7 L279.5 41.4 L279.6 42.2 L279.7 42.9 L279.8 43.7 L279.9 44.4 L280.0 45.2 L280.1 45.9 L280.2 46.7 L280.3 47.4 L280.4 48.2 L280.5 48.9 L280.6 49.6 L280.7 50.4 L280.8 51.1 L281.0 51.8 L281.1 52.5 L281.2 53.2 L281.3 53.8 L281.4 54.5 L281.5 55.1 L281.7 56.0 L281.8 56.8 L282.0 57.6 L282.1 58.4 L282.3 59.2 L282.5 60.0 L282.6 60.7 L282.8 61.4 L283.0 62.1 L283.1 62.8 L283.3 63.5 L283.5 64.2 L283.7 64.8 L283.8 65.4 L284.0 66.0 L284.3 66.9 L284.5 67.7 L284.7 68.4 L285.0 69.1 L285.2 69.8 L285.5 70.5 L285.8 71.1 L286.0 71.6 L286.3 72.2 L286.6 72.7 L287.1 73.5 L287.6 74.1 L288.1 74.7 L288.7 75.1 L289.3 75.6 L290.0 76.0 L290.6 76.4 L291.2 76.7 L291.9 77.0 L292.6 77.3 L293.4 77.5 L294.3 77.6 L295.3 77.7 L295.9 77.7 L296.5 77.7 L297.1 77.7 L297.8 77.6 L298.5 77.5 L299.2 77.5 L299.9 77.4 L300.7 77.2 L301.4 77.1 L302.2 77.0 L303.0 76.9 L303.8 76.7 L304.6 76.6 L305.4 76.4 L306.0 76.3 L306.7 76.1 L307.3 76.0 L308.0 75.8 L308.7 75.6 L309.3 75.5 L310.0 75.3 L310.7 75.1 L311.4 74.9 L312.1 74.7 L312.8 74.5 L313.6 74.3 L314.3 74.1 L315.0 73.9 L315.7 73.7 L316.4 73.6 L317.2 73.4 L317.9 73.2 L318.6 73.0 L319.4 72.9 L320.1 72.7 L320.9 72.5 L321.7 72.3 L322.6 72.2 L323.4 72.0 L324.2 71.8 L325.1 71.6 L325.9 71.5 L326.7 71.3 L327.4 71.1 L328.2 71.0 L328.9 70.8 L329.5 70.7 L330.1 70.6 L330.6 70.5 L331.1 70.4 L331.5 70.3" stroke="#e3262b" stroke-width="1.3"/>
<path d="M19.1 27.8 L19.5 28.0 L20.1 28.3 L20.7 28.6 L21.4 29.0 L22.2 29.4 L23.0 29.8 L23.6 30.1 L24.3 30.5 L25.0 30.9 L25.7 31.3 L26.4 31.7 L27.1 32.1 L27.8 32.3 L28.4 32.4 L29.1 32.4 L29.8 32.3 L30.4 32.0 L31.0 31.7 L31.7 31.2 L32.5 30.5 L32.9 30.1 L33.4 29.6 L33.9 29.1 L34.3 28.5 L34.8 27.9 L35.3 27.3 L35.9 26.6 L36.4 26.0 L36.9 25.4 L37.4 24.8 L37.9 24.2 L38.4 23.7 L39.0 23.1 L39.6 22.6 L40.1 22.0 L40.7 21.5 L41.3 21.0 L41.9 20.6 L42.5 20.1 L43.0 19.7 L43.6 19.3 L44.2 19.0 L44.9 18.6 L45.7 18.3 L46.4 18.0 L47.2 17.8 L47.9 17.6 L48.6 17.5 L49.3 17.4 L50.0 17.3 L50.8 17.2 L51.6 17.1 L52.3 17.1 L53.0 17.2 L53.8 17.4 L54.7 17.8 L55.2 18.0 L55.7 18.3 L56.3 18.7 L56.9 19.1 L57.5 19.5 L58.1 19.9 L58.7 20.3 L59.3 20.8 L59.9 21.2 L60.5 21.7 L61.1 22.1 L61.7 22.5 L62.3 22.9 L62.9 23.3 L63.4 23.7 L64.0 24.2 L64.6 24.6 L65.1 25.0 L65.7 25.5 L66.3 25.9 L66.9 26.2 L67.5 26.6 L68.1 26.9 L68.7 27.2 L69.4 27.5 L70.1 27.7 L70.9 27.9 L71.6 28.1 L72.4 28.2 L73.1 28.4 L73.9 28.5 L74.6 28.6 L75.4 28.7 L76.2 28.8 L76.9 28.9 L77.7 29.0 L78.4 29.1 L79.2 29.2 L80.0 29.2 L80.8 29.3 L81.6 29.4 L82.3 29.4 L83.0 29.5 L83.7 29.6 L84.4 29.6 L85.0 29.7 L86.0 29.9 L86.9 30.0 L87.7 30.2 L88.4 30.4 L89.1 30.5 L89.7 30.7 L90.5 31.0 L91.1 31.2 L91.7 31.5 L92.5 31.8 L93.1 32.0 L93.8 32.2 L94.5 32.4 L95.2 32.6 L96.0 32.8 L96.7 33.0 L97.4 33.2 L98.2 33.4 L98.9 33.7 L99.7 33.9 L100.5 34.1 L101.3 34.2 L102.0 34.3 L102.7 34.3 L103.4 34.3 L104.2 34.3 L104.9 34.3 L105.7 34.2 L106.5 34.2 L107.2 34.2 L107.9 34.2 L108.7 34.2 L109.4 34.2 L110.1 34.2 L110.8 34.2 L111.5 34.2 L112.3 34.1 L113.0 34.0 L113.7 33.8 L114.4 33.6 L115.2 33.4 L115.9 33.1 L116.6 32.9 L117.3 32.6 L118.1 32.3 L118.9 32.1 L119.6 31.9 L120.2 31.8 L121.0 31.6 L121.7 31.4 L122.4 31.3 L123.1 31.1 L123.9 30.9 L124.6 30.8 L125.2 30.6 L125.9 30.5 L126.7 30.3 L127.4 30.2 L128.2 30.0 L128.9 29.9 L129.6 29.7 L130.3 29.6 L131.0 29.4 L131.7 29.3 L132.4 29.1 L133.1 29.0 L133.9 28.8 L134.6 28.6 L135.3 28.5 L136.0 28.3 L136.8 28.2 L137.5 28.1 L138.2 28.0 L139.0 28.0 L139.8 28.0 L140.5 27.9 L141.3 28.0 L142.0 28.0 L142.7 28.0 L143.4 28.1 L144.3 28.2 L145.1 28.4 L145.9 28.7 L146.7 28.9 L147.4 29.1 L148.1 29.3 L148.8 29.5 L149.5 29.6 L150.1 29.7 L150.8 29.8 L151.6 29.8 L152.2 29.8 L152.9 29.7 L153.6 29.5 L154.4 29.4 L155.1 29.3 L155.9 29.1 L156.7 29.0 L157.4 28.9 L158.1 28.8 L158.9 28.7 L159.7 28.6 L160.4 28.5 L161.2 28.5 L161.9 28.4 L162.6 28.4 L163.2 28.4 L164.1 28.5 L164.8 28.6 L165.4 28.8 L166.0 29.0 L166.7 29.3 L167.3 29.6 L167.9 29.9 L168.5 30.3 L169.2 30.7 L170.0 31.3 L170.5 31.6 L171.0 32.0 L171.6 32.4 L172.1 32.8 L172.7 33.2 L173.4 33.6 L174.0 34.1 L174.6 34.5 L175.2 35.0 L175.8 35.4 L176.4 35.9 L177.0 36.3 L177.6 36.8 L178.2 37.3 L178.8 37.8 L179.3 38.3 L179.9 38.8 L180.5 39.3 L181.1 39.7 L181.7 40.1 L182.3 40.5 L183.0 40.9 L183.6 41.3 L184.3 41.6 L184.9 42.0 L185.6 42.3 L186.2 42.5 L186.9 42.8 L187.5 43.0 L188.2 43.2 L189.0 43.3 L189.7 43.4 L190.4 43.5 L191.2 43.6 L191.9 43.6 L192.7 43.7 L193.4 43.8 L194.1 43.9 L194.9 44.0 L195.6 44.1 L196.3 44.2 L197.0 44.4 L197.8 44.5 L198.5 44.6 L199.2 44.8 L199.9 45.0 L200.6 45.2 L201.4 45.4 L202.1 45.6 L202.8 45.9 L203.5 46.1 L204.3 46.3 L205.0 46.5 L205.7 46.7 L206.5 46.9 L207.2 47.1 L207.9 47.3 L208.7 47.4 L209.4 47.6 L210.2 47.8 L210.9 47.9 L211.6 48.0 L212.4 48.1 L213.1 48.2 L213.8 48.3 L214.5 48.4 L215.2 48.4 L216.0 48.5 L216.7 48.6 L217.4 48.7 L218.2 48.8 L218.9 48.8 L219.7 48.9 L220.4 49.0 L221.1 49.1 L221.9 49.1 L222.6 49.2 L223.3 49.2 L224.1 49.3 L224.8 49.3 L225.5 49.4 L226.2 49.4 L227.0 49.4 L227.7 49.4 L228.4 49.4 L229.1 49.4 L229.9 49.3 L230.6 49.3 L231.4 49.2 L232.1 49.2 L232.8 49.1 L233.5 49.1 L234.2 49.1 L235.1 49.1 L235.9 49.1 L236.7 49.1 L237.5 49.2 L238.2 49.3 L238.9 49.4 L239.7 49.6 L240.4 49.9 L241.1 50.3 L241.7 50.7 L242.4 51.2 L242.9 51.6 L243.4 52.1 L244.0 52.6 L244.5 53.1 L245.0 53.7 L245.5 54.2 L245.9 54.7 L246.4 55.3 L246.9 55.8 L247.3 56.4 L247.7 57.0 L248.2 58.0 L248.4 58.5 L248.7 59.0 L249.0 59.6 L249.2 60.2 L249.5 60.8 L249.8 61.5 L250.1 62.1 L250.4 62.9 L250.7 63.6 L251.0 64.4 L251.2 65.2 L251.5 66.0 L251.7 66.6 L251.9 67.2 L252.1 67.9 L252.2 68.5 L252.4 69.2 L252.6 69.9 L252.8 70.7 L253.0 71.4 L253.1 72.1 L253.3 72.9 L253.5 73.6 L253.7 74.3 L253.8 75.1 L254.0 75.8 L254.2 76.6 L254.3 77.3 L254.5 78.0 L254.7 78.7 L254.8 79.4 L255.0 80.1 L255.1 80.9 L255.3 81.6 L255.4 82.3 L255.6 83.0 L255.7 83.8 L255.8 84.5 L256.0 85.2 L256.1 85.9 L256.3 86.6 L256.4 87.3 L256.6 88.0 L256.7 88.7 L256.9 89.3 L257.0 90.0 L257.2 90.8 L257.4 91.6 L257.6 92.4 L257.7 93.1 L257.9 93.9 L258.1 94.7 L258.3 95.4 L258.5 96.1 L258.7 96.8 L258.9 97.5 L259.1 98.2 L259.2 98.8 L259.4 99.4 L259.6 100.0 L259.9 100.9 L260.2 101.6 L260.5 102.3 L260.7 102.9 L261.0 103.5 L261.3 104.1 L261.5 104.7 L261.8 105.5 L262.0 106.1 L262.2 106.8 L262.4 107.5 L262.6 108.2 L262.8 108.9 L263.0 109.6 L263.2 110.3 L263.4 111.0 L263.6 111.8 L263.8 112.4 L264.0 113.1 L264.2 113.9 L264.5 114.6 L264.7 115.4 L265.0 116.1 L265.2 116.8 L265.5 117.5 L265.7 118.2 L266.0 118.9 L266.2 119.6 L266.5 120.3 L266.8 121.1 L267.0 121.8 L267.3 122.5 L267.6 123.2 L267.9 123.8 L268.1 124.5 L268.4 125.1 L268.8 125.9 L269.1 126.7 L269.4 127.4 L269.8 128.1 L270.1 128.8 L270.5 129.4 L270.9 130.1 L271.3 130.7 L271.7 131.2 L272.2 131.7 L272.7 132.2 L273.3 132.7 L273.9 133.2 L274.5 133.7 L275.3 134.1 L276.0 134.4 L276.6 134.6 L277.2 134.8 L277.8 134.9 L278.5 135.0 L279.3 135.0 L280.4 135.1 L280.9 135.1 L281.2 135.2 L281.6 135.2 L281.9 135.2 L282.2 135.2 L282.6 135.2 L283.0 135.2 L283.5 135.3 L284.2 135.3 L285.0 135.3 L286.0 135.3 L287.2 135.3 L288.6 135.3 L290.3 135.3 L290.8 135.3 L291.2 135.3 L291.7 135.3 L292.3 135.3 L292.8 135.3 L293.4 135.3 L294.0 135.3 L294.7 135.3 L295.3 135.3 L296.0 135.3 L296.7 135.3 L297.4 135.3 L298.1 135.3 L298.9 135.3 L299.7 135.3 L300.4 135.3 L301.2 135.3 L302.0 135.3 L302.8 135.3 L303.7 135.3 L304.5 135.3 L305.3 135.3 L306.2 135.3 L307.0 135.3 L307.9 135.3 L308.7 135.3 L309.6 135.3 L310.5 135.3 L311.3 135.3 L312.2 135.3 L313.1 135.3 L313.9 135.3 L314.8 135.3 L315.6 135.3 L316.5 135.3 L317.3 135.3 L318.1 135.3 L318.9 135.3 L319.7 135.3 L320.5 135.3 L321.3 135.3 L322.1 135.3 L322.8 135.3 L323.6 135.3 L324.3 135.3 L325.0 135.3 L325.7 135.3 L326.3 135.3 L327.0 135.3 L327.6 135.3 L328.2 135.3 L328.8 135.3 L329.3 135.3 L329.8 135.3 L330.3 135.3 L330.8 135.3 L331.2 135.3 L331.6 135.3 L332.0 135.3" stroke="#141414" stroke-width="1.3"/>
</g>
<rect x="349.5" y="2" width="318.4" height="138.7" fill="none" stroke="#bdbdbd" stroke-width="1"/>
<line x1="360.00" y1="6.00" x2="360.00" y2="133.70" stroke="#666" stroke-width="0.7" stroke-dasharray="0.6 1.1"/>
<line x1="358.80" y1="133.70" x2="360.00" y2="133.70" stroke="#777" stroke-width="0.5" />
<line x1="359.20" y1="125.22" x2="360.00" y2="125.22" stroke="#aaa" stroke-width="0.4" />
<text x="358.4" y="135.3" font-size="4.6" fill="#2a2a2a" stroke="#2a2a2a" stroke-width="0.18" text-anchor="end" font-weight="normal" >0</text>
<line x1="358.80" y1="116.75" x2="360.00" y2="116.75" stroke="#777" stroke-width="0.5" />
<line x1="359.20" y1="108.27" x2="360.00" y2="108.27" stroke="#aaa" stroke-width="0.4" />
<text x="358.4" y="118.3" font-size="4.6" fill="#2a2a2a" stroke="#2a2a2a" stroke-width="0.18" text-anchor="end" font-weight="normal" >100</text>
<line x1="358.80" y1="99.80" x2="360.00" y2="99.80" stroke="#777" stroke-width="0.5" />
<line x1="359.20" y1="91.32" x2="360.00" y2="91.32" stroke="#aaa" stroke-width="0.4" />
<text x="358.4" y="101.4" font-size="4.6" fill="#2a2a2a" stroke="#2a2a2a" stroke-width="0.18" text-anchor="end" font-weight="normal" >200</text>
<line x1="358.80" y1="82.85" x2="360.00" y2="82.85" stroke="#777" stroke-width="0.5" />
<line x1="359.20" y1="74.37" x2="360.00" y2="74.37" stroke="#aaa" stroke-width="0.4" />
<text x="358.4" y="84.4" font-size="4.6" fill="#2a2a2a" stroke="#2a2a2a" stroke-width="0.18" text-anchor="end" font-weight="normal" >300</text>
<line x1="358.80" y1="65.90" x2="360.00" y2="65.90" stroke="#777" stroke-width="0.5" />
<line x1="359.20" y1="57.42" x2="360.00" y2="57.42" stroke="#aaa" stroke-width="0.4" />
<text x="358.4" y="67.5" font-size="4.6" fill="#2a2a2a" stroke="#2a2a2a" stroke-width="0.18" text-anchor="end" font-weight="normal" >400</text>
<line x1="358.80" y1="48.95" x2="360.00" y2="48.95" stroke="#777" stroke-width="0.5" />
<line x1="359.20" y1="40.47" x2="360.00" y2="40.47" stroke="#aaa" stroke-width="0.4" />
<text x="358.4" y="50.5" font-size="4.6" fill="#2a2a2a" stroke="#2a2a2a" stroke-width="0.18" text-anchor="end" font-weight="normal" >500</text>
<line x1="358.80" y1="32.00" x2="360.00" y2="32.00" stroke="#777" stroke-width="0.5" />
<line x1="359.20" y1="23.52" x2="360.00" y2="23.52" stroke="#aaa" stroke-width="0.4" />
<text x="358.4" y="33.6" font-size="4.6" fill="#2a2a2a" stroke="#2a2a2a" stroke-width="0.18" text-anchor="end" font-weight="normal" >600</text>
<line x1="358.80" y1="15.05" x2="360.00" y2="15.05" stroke="#777" stroke-width="0.5" />
<text x="358.4" y="16.6" font-size="4.6" fill="#2a2a2a" stroke="#2a2a2a" stroke-width="0.18" text-anchor="end" font-weight="normal" >700</text>
<line x1="359.20" y1="6.57" x2="360.00" y2="6.57" stroke="#999" stroke-width="0.4" />
<text x="350.8" y="10.1" font-size="4.7" fill="#2a2a2a" stroke="#2a2a2a" stroke-width="0.18" text-anchor="start" font-weight="normal" letter-spacing="-0.3">MPa</text>
<line x1="358.50" y1="133.70" x2="663.40" y2="133.70" stroke="#787878" stroke-width="0.7" />
<line x1="360.68" y1="133.70" x2="360.68" y2="134.40" stroke="#666" stroke-width="0.45" />
<line x1="364.09" y1="133.70" x2="364.09" y2="134.40" stroke="#666" stroke-width="0.45" />
<line x1="367.50" y1="133.70" x2="367.50" y2="134.90" stroke="#666" stroke-width="0.45" />
<line x1="370.91" y1="133.70" x2="370.91" y2="134.40" stroke="#666" stroke-width="0.45" />
<line x1="374.32" y1="133.70" x2="374.32" y2="134.40" stroke="#666" stroke-width="0.45" />
<line x1="377.73" y1="133.70" x2="377.73" y2="134.40" stroke="#666" stroke-width="0.45" />
<line x1="381.14" y1="133.70" x2="381.14" y2="134.40" stroke="#666" stroke-width="0.45" />
<line x1="384.55" y1="133.70" x2="384.55" y2="134.90" stroke="#666" stroke-width="0.45" />
<line x1="387.96" y1="133.70" x2="387.96" y2="134.40" stroke="#666" stroke-width="0.45" />
<line x1="391.37" y1="133.70" x2="391.37" y2="134.40" stroke="#666" stroke-width="0.45" />
<line x1="394.78" y1="133.70" x2="394.78" y2="134.40" stroke="#666" stroke-width="0.45" />
<line x1="398.19" y1="133.70" x2="398.19" y2="134.40" stroke="#666" stroke-width="0.45" />
<line x1="401.60" y1="133.70" x2="401.60" y2="134.90" stroke="#666" stroke-width="0.45" />
<line x1="405.01" y1="133.70" x2="405.01" y2="134.40" stroke="#666" stroke-width="0.45" />
<line x1="408.42" y1="133.70" x2="408.42" y2="134.40" stroke="#666" stroke-width="0.45" />
<line x1="411.83" y1="133.70" x2="411.83" y2="134.40" stroke="#666" stroke-width="0.45" />
<line x1="415.24" y1="133.70" x2="415.24" y2="134.40" stroke="#666" stroke-width="0.45" />
<line x1="418.65" y1="133.70" x2="418.65" y2="134.90" stroke="#666" stroke-width="0.45" />
<line x1="422.06" y1="133.70" x2="422.06" y2="134.40" stroke="#666" stroke-width="0.45" />
<line x1="425.47" y1="133.70" x2="425.47" y2="134.40" stroke="#666" stroke-width="0.45" />
<line x1="428.88" y1="133.70" x2="428.88" y2="134.40" stroke="#666" stroke-width="0.45" />
<line x1="432.29" y1="133.70" x2="432.29" y2="134.40" stroke="#666" stroke-width="0.45" />
<line x1="435.70" y1="133.70" x2="435.70" y2="134.90" stroke="#666" stroke-width="0.45" />
<line x1="439.11" y1="133.70" x2="439.11" y2="134.40" stroke="#666" stroke-width="0.45" />
<line x1="442.52" y1="133.70" x2="442.52" y2="134.40" stroke="#666" stroke-width="0.45" />
<line x1="445.93" y1="133.70" x2="445.93" y2="134.40" stroke="#666" stroke-width="0.45" />
<line x1="449.34" y1="133.70" x2="449.34" y2="134.40" stroke="#666" stroke-width="0.45" />
<line x1="452.75" y1="133.70" x2="452.75" y2="134.90" stroke="#666" stroke-width="0.45" />
<line x1="456.16" y1="133.70" x2="456.16" y2="134.40" stroke="#666" stroke-width="0.45" />
<line x1="459.57" y1="133.70" x2="459.57" y2="134.40" stroke="#666" stroke-width="0.45" />
<line x1="462.98" y1="133.70" x2="462.98" y2="134.40" stroke="#666" stroke-width="0.45" />
<line x1="466.39" y1="133.70" x2="466.39" y2="134.40" stroke="#666" stroke-width="0.45" />
<line x1="469.80" y1="133.70" x2="469.80" y2="134.90" stroke="#666" stroke-width="0.45" />
<line x1="473.21" y1="133.70" x2="473.21" y2="134.40" stroke="#666" stroke-width="0.45" />
<line x1="476.62" y1="133.70" x2="476.62" y2="134.40" stroke="#666" stroke-width="0.45" />
<line x1="480.03" y1="133.70" x2="480.03" y2="134.40" stroke="#666" stroke-width="0.45" />
<line x1="483.44" y1="133.70" x2="483.44" y2="134.40" stroke="#666" stroke-width="0.45" />
<line x1="486.85" y1="133.70" x2="486.85" y2="134.90" stroke="#666" stroke-width="0.45" />
<line x1="490.26" y1="133.70" x2="490.26" y2="134.40" stroke="#666" stroke-width="0.45" />
<line x1="493.67" y1="133.70" x2="493.67" y2="134.40" stroke="#666" stroke-width="0.45" />
<line x1="497.08" y1="133.70" x2="497.08" y2="134.40" stroke="#666" stroke-width="0.45" />
<line x1="500.49" y1="133.70" x2="500.49" y2="134.40" stroke="#666" stroke-width="0.45" />
<line x1="503.90" y1="133.70" x2="503.90" y2="134.90" stroke="#666" stroke-width="0.45" />
<line x1="507.31" y1="133.70" x2="507.31" y2="134.40" stroke="#666" stroke-width="0.45" />
<line x1="510.72" y1="133.70" x2="510.72" y2="134.40" stroke="#666" stroke-width="0.45" />
<line x1="514.13" y1="133.70" x2="514.13" y2="134.40" stroke="#666" stroke-width="0.45" />
<line x1="517.54" y1="133.70" x2="517.54" y2="134.40" stroke="#666" stroke-width="0.45" />
<line x1="520.95" y1="133.70" x2="520.95" y2="134.90" stroke="#666" stroke-width="0.45" />
<line x1="524.36" y1="133.70" x2="524.36" y2="134.40" stroke="#666" stroke-width="0.45" />
<line x1="527.77" y1="133.70" x2="527.77" y2="134.40" stroke="#666" stroke-width="0.45" />
<line x1="531.18" y1="133.70" x2="531.18" y2="134.40" stroke="#666" stroke-width="0.45" />
<line x1="534.59" y1="133.70" x2="534.59" y2="134.40" stroke="#666" stroke-width="0.45" />
<line x1="538.00" y1="133.70" x2="538.00" y2="134.90" stroke="#666" stroke-width="0.45" />
<line x1="541.41" y1="133.70" x2="541.41" y2="134.40" stroke="#666" stroke-width="0.45" />
<line x1="544.82" y1="133.70" x2="544.82" y2="134.40" stroke="#666" stroke-width="0.45" />
<line x1="548.23" y1="133.70" x2="548.23" y2="134.40" stroke="#666" stroke-width="0.45" />
<line x1="551.64" y1="133.70" x2="551.64" y2="134.40" stroke="#666" stroke-width="0.45" />
<line x1="555.05" y1="133.70" x2="555.05" y2="134.90" stroke="#666" stroke-width="0.45" />
<line x1="558.46" y1="133.70" x2="558.46" y2="134.40" stroke="#666" stroke-width="0.45" />
<line x1="561.87" y1="133.70" x2="561.87" y2="134.40" stroke="#666" stroke-width="0.45" />
<line x1="565.28" y1="133.70" x2="565.28" y2="134.40" stroke="#666" stroke-width="0.45" />
<line x1="568.69" y1="133.70" x2="568.69" y2="134.40" stroke="#666" stroke-width="0.45" />
<line x1="572.10" y1="133.70" x2="572.10" y2="134.90" stroke="#666" stroke-width="0.45" />
<line x1="575.51" y1="133.70" x2="575.51" y2="134.40" stroke="#666" stroke-width="0.45" />
<line x1="578.92" y1="133.70" x2="578.92" y2="134.40" stroke="#666" stroke-width="0.45" />
<line x1="582.33" y1="133.70" x2="582.33" y2="134.40" stroke="#666" stroke-width="0.45" />
<line x1="585.74" y1="133.70" x2="585.74" y2="134.40" stroke="#666" stroke-width="0.45" />
<line x1="589.15" y1="133.70" x2="589.15" y2="134.90" stroke="#666" stroke-width="0.45" />
<line x1="592.56" y1="133.70" x2="592.56" y2="134.40" stroke="#666" stroke-width="0.45" />
<line x1="595.97" y1="133.70" x2="595.97" y2="134.40" stroke="#666" stroke-width="0.45" />
<line x1="599.38" y1="133.70" x2="599.38" y2="134.40" stroke="#666" stroke-width="0.45" />
<line x1="602.79" y1="133.70" x2="602.79" y2="134.40" stroke="#666" stroke-width="0.45" />
<line x1="606.20" y1="133.70" x2="606.20" y2="134.90" stroke="#666" stroke-width="0.45" />
<line x1="609.61" y1="133.70" x2="609.61" y2="134.40" stroke="#666" stroke-width="0.45" />
<line x1="613.02" y1="133.70" x2="613.02" y2="134.40" stroke="#666" stroke-width="0.45" />
<line x1="616.43" y1="133.70" x2="616.43" y2="134.40" stroke="#666" stroke-width="0.45" />
<line x1="619.84" y1="133.70" x2="619.84" y2="134.40" stroke="#666" stroke-width="0.45" />
<line x1="623.25" y1="133.70" x2="623.25" y2="134.90" stroke="#666" stroke-width="0.45" />
<line x1="626.66" y1="133.70" x2="626.66" y2="134.40" stroke="#666" stroke-width="0.45" />
<line x1="630.07" y1="133.70" x2="630.07" y2="134.40" stroke="#666" stroke-width="0.45" />
<line x1="633.48" y1="133.70" x2="633.48" y2="134.40" stroke="#666" stroke-width="0.45" />
<line x1="636.89" y1="133.70" x2="636.89" y2="134.40" stroke="#666" stroke-width="0.45" />
<line x1="640.30" y1="133.70" x2="640.30" y2="134.90" stroke="#666" stroke-width="0.45" />
<line x1="643.71" y1="133.70" x2="643.71" y2="134.40" stroke="#666" stroke-width="0.45" />
<line x1="647.12" y1="133.70" x2="647.12" y2="134.40" stroke="#666" stroke-width="0.45" />
<line x1="650.53" y1="133.70" x2="650.53" y2="134.40" stroke="#666" stroke-width="0.45" />
<line x1="653.94" y1="133.70" x2="653.94" y2="134.40" stroke="#666" stroke-width="0.45" />
<line x1="657.35" y1="133.70" x2="657.35" y2="134.90" stroke="#666" stroke-width="0.45" />
<line x1="660.76" y1="133.70" x2="660.76" y2="134.40" stroke="#666" stroke-width="0.45" />
<text x="367.5" y="139.8" font-size="4.6" fill="#2a2a2a" stroke="#2a2a2a" stroke-width="0.18" text-anchor="middle" font-weight="normal" >-60</text>
<text x="384.6" y="139.8" font-size="4.6" fill="#2a2a2a" stroke="#2a2a2a" stroke-width="0.18" text-anchor="middle" font-weight="normal" >-50</text>
<text x="401.6" y="139.8" font-size="4.6" fill="#2a2a2a" stroke="#2a2a2a" stroke-width="0.18" text-anchor="middle" font-weight="normal" >-40</text>
<text x="418.6" y="139.8" font-size="4.6" fill="#2a2a2a" stroke="#2a2a2a" stroke-width="0.18" text-anchor="middle" font-weight="normal" >-30</text>
<text x="435.7" y="139.8" font-size="4.6" fill="#2a2a2a" stroke="#2a2a2a" stroke-width="0.18" text-anchor="middle" font-weight="normal" >-20</text>
<text x="452.8" y="139.8" font-size="4.6" fill="#2a2a2a" stroke="#2a2a2a" stroke-width="0.18" text-anchor="middle" font-weight="normal" >-10</text>
<text x="469.8" y="139.8" font-size="4.6" fill="#2a2a2a" stroke="#2a2a2a" stroke-width="0.18" text-anchor="middle" font-weight="normal" >0</text>
<text x="486.9" y="139.8" font-size="4.6" fill="#2a2a2a" stroke="#2a2a2a" stroke-width="0.18" text-anchor="middle" font-weight="normal" >10</text>
<text x="503.9" y="139.8" font-size="4.6" fill="#2a2a2a" stroke="#2a2a2a" stroke-width="0.18" text-anchor="middle" font-weight="normal" >20</text>
<text x="521.0" y="139.8" font-size="4.6" fill="#2a2a2a" stroke="#2a2a2a" stroke-width="0.18" text-anchor="middle" font-weight="normal" >30</text>
<text x="538.0" y="139.8" font-size="4.6" fill="#2a2a2a" stroke="#2a2a2a" stroke-width="0.18" text-anchor="middle" font-weight="normal" >40</text>
<text x="555.0" y="139.8" font-size="4.6" fill="#2a2a2a" stroke="#2a2a2a" stroke-width="0.18" text-anchor="middle" font-weight="normal" >50</text>
<text x="572.1" y="139.8" font-size="4.6" fill="#2a2a2a" stroke="#2a2a2a" stroke-width="0.18" text-anchor="middle" font-weight="normal" >60</text>
<text x="589.1" y="139.8" font-size="4.6" fill="#2a2a2a" stroke="#2a2a2a" stroke-width="0.18" text-anchor="middle" font-weight="normal" >70</text>
<text x="606.2" y="139.8" font-size="4.6" fill="#2a2a2a" stroke="#2a2a2a" stroke-width="0.18" text-anchor="middle" font-weight="normal" >80</text>
<text x="623.2" y="139.8" font-size="4.6" fill="#2a2a2a" stroke="#2a2a2a" stroke-width="0.18" text-anchor="middle" font-weight="normal" >90</text>
<text x="640.3" y="139.8" font-size="4.6" fill="#2a2a2a" stroke="#2a2a2a" stroke-width="0.18" text-anchor="middle" font-weight="normal" >100</text>
<text x="663.4" y="139.8" font-size="4.6" fill="#2a2a2a" stroke="#2a2a2a" stroke-width="0.18" text-anchor="middle" font-weight="normal" >°C</text>
<line x1="663.40" y1="6.50" x2="663.40" y2="133.70" stroke="#d04848" stroke-width="0.6" stroke-dasharray="0.5 1.2"/>
<line x1="662.20" y1="133.40" x2="663.40" y2="133.40" stroke="#d07070" stroke-width="0.5" />
<line x1="662.70" y1="126.35" x2="663.40" y2="126.35" stroke="#d07070" stroke-width="0.4" />
<text x="661.6" y="135.0" font-size="4.6" fill="#d23c3c" stroke="#d23c3c" stroke-width="0.18" text-anchor="end" font-weight="normal" >0.00</text>
<line x1="662.20" y1="119.30" x2="663.40" y2="119.30" stroke="#d07070" stroke-width="0.5" />
<line x1="662.70" y1="112.25" x2="663.40" y2="112.25" stroke="#d07070" stroke-width="0.4" />
<text x="661.6" y="120.9" font-size="4.6" fill="#d23c3c" stroke="#d23c3c" stroke-width="0.18" text-anchor="end" font-weight="normal" >0.05</text>
<line x1="662.20" y1="105.20" x2="663.40" y2="105.20" stroke="#d07070" stroke-width="0.5" />
<line x1="662.70" y1="98.15" x2="663.40" y2="98.15" stroke="#d07070" stroke-width="0.4" />
<text x="661.6" y="106.8" font-size="4.6" fill="#d23c3c" stroke="#d23c3c" stroke-width="0.18" text-anchor="end" font-weight="normal" >0.10</text>
<line x1="662.20" y1="91.10" x2="663.40" y2="91.10" stroke="#d07070" stroke-width="0.5" />
<line x1="662.70" y1="84.05" x2="663.40" y2="84.05" stroke="#d07070" stroke-width="0.4" />
<text x="661.6" y="92.7" font-size="4.6" fill="#d23c3c" stroke="#d23c3c" stroke-width="0.18" text-anchor="end" font-weight="normal" >0.15</text>
<line x1="662.20" y1="77.00" x2="663.40" y2="77.00" stroke="#d07070" stroke-width="0.5" />
<line x1="662.70" y1="69.95" x2="663.40" y2="69.95" stroke="#d07070" stroke-width="0.4" />
<text x="661.6" y="78.6" font-size="4.6" fill="#d23c3c" stroke="#d23c3c" stroke-width="0.18" text-anchor="end" font-weight="normal" >0.20</text>
<line x1="662.20" y1="62.90" x2="663.40" y2="62.90" stroke="#d07070" stroke-width="0.5" />
<line x1="662.70" y1="55.85" x2="663.40" y2="55.85" stroke="#d07070" stroke-width="0.4" />
<text x="661.6" y="64.5" font-size="4.6" fill="#d23c3c" stroke="#d23c3c" stroke-width="0.18" text-anchor="end" font-weight="normal" >0.25</text>
<line x1="662.20" y1="48.80" x2="663.40" y2="48.80" stroke="#d07070" stroke-width="0.5" />
<line x1="662.70" y1="41.75" x2="663.40" y2="41.75" stroke="#d07070" stroke-width="0.4" />
<text x="661.6" y="50.4" font-size="4.6" fill="#d23c3c" stroke="#d23c3c" stroke-width="0.18" text-anchor="end" font-weight="normal" >0.30</text>
<line x1="662.20" y1="34.70" x2="663.40" y2="34.70" stroke="#d07070" stroke-width="0.5" />
<line x1="662.70" y1="27.65" x2="663.40" y2="27.65" stroke="#d07070" stroke-width="0.4" />
<text x="661.6" y="36.3" font-size="4.6" fill="#d23c3c" stroke="#d23c3c" stroke-width="0.18" text-anchor="end" font-weight="normal" >0.35</text>
<line x1="662.20" y1="20.60" x2="663.40" y2="20.60" stroke="#d07070" stroke-width="0.5" />
<text x="661.6" y="22.2" font-size="4.6" fill="#d23c3c" stroke="#d23c3c" stroke-width="0.18" text-anchor="end" font-weight="normal" >0.40</text>
<line x1="662.70" y1="13.55" x2="663.40" y2="13.55" stroke="#d07070" stroke-width="0.4" />
<g transform="translate(637.8,8.5) scale(1,1.2)">
<text x="0.0" y="0.0" font-size="5.2" fill="#d23c3c" stroke="#d23c3c" stroke-width="0.18" text-anchor="start" font-weight="normal" >Tan delta</text>
</g>
<text x="495.9" y="9.5" font-size="4.8" fill="#111" stroke="#111" stroke-width="0.18" text-anchor="start" font-weight="bold" letter-spacing="0.15">PLY</text>
<text x="367.0" y="16.3" font-size="5.2" fill="#333" stroke="#333" stroke-width="0.18" text-anchor="start" font-weight="normal" >G'</text>
<text x="366.8" y="120.7" font-size="5.2" fill="#2b2bd6" stroke="#2b2bd6" stroke-width="0.18" text-anchor="start" font-weight="normal" >G''</text>
<g transform="translate(590.2,40) scale(1,1.18)">
<text x="0.0" y="0.0" font-size="4.4" fill="#222" stroke="#222" stroke-width="0.18" text-anchor="start" font-weight="normal" letter-spacing="0.07">Onset&#160;&#160;&#160;82.9°C</text>
</g>
<g transform="translate(601,14) scale(1,1.18)">
<text x="0.0" y="0.0" font-size="4.4" fill="#d23c3c" stroke="#d23c3c" stroke-width="0.18" text-anchor="start" font-weight="normal" letter-spacing="0.07">Peak&#160;&#160;&#160;91.7°C</text>
</g>
<g transform="translate(612.3,110.3) scale(1,1.18)">
<text x="0.0" y="0.0" font-size="4.4" fill="#2b2bd6" stroke="#2b2bd6" stroke-width="0.18" text-anchor="start" font-weight="normal" letter-spacing="0.07">Peak&#160;&#160;&#160;88.1°C</text>
</g>
<line x1="616.60" y1="45.90" x2="620.60" y2="47.10" stroke="#7a7a7a" stroke-width="0.45" />
<line x1="618.40" y1="44.60" x2="619.00" y2="48.50" stroke="#7a7a7a" stroke-width="0.45" />
<line x1="619.00" y1="47.50" x2="620.40" y2="52.50" stroke="#7a7a7a" stroke-width="0.45" />
<clipPath id="cb"><rect x="357.5" y="2" width="309.4" height="132.2"/></clipPath>
<g clip-path="url(#cb)" fill="none" stroke-linejoin="round" stroke-linecap="round">
<path d="M358.3 120.1 L358.7 120.2 L359.2 120.4 L359.9 120.5 L360.6 120.7 L361.3 120.9 L362.1 121.2 L362.9 121.6 L363.7 121.7 L364.4 122.0 L365.1 122.3 L365.9 122.7 L366.7 122.9 L367.5 123.3 L368.3 123.2 L369.0 123.3 L369.7 123.2 L370.3 123.6 L371.2 123.6 L372.0 123.3 L372.7 122.9 L373.4 123.1 L374.1 123.2 L374.8 123.4 L375.5 123.4 L376.2 123.5 L376.9 123.5 L377.6 124.0 L378.4 123.9 L379.1 124.2 L379.8 124.6 L380.5 124.9 L381.2 124.8 L381.9 124.9 L382.6 125.5 L383.3 125.8 L384.0 126.4 L384.6 126.8 L385.3 127.0 L385.9 127.6 L386.5 127.9 L387.1 127.9 L387.7 127.9 L388.6 127.6 L389.4 127.3 L390.1 127.4 L391.0 126.9 L391.7 127.1 L392.4 127.0 L393.1 126.9 L393.8 127.4 L394.6 127.4 L395.3 127.2 L396.0 127.1 L396.8 127.2 L397.5 127.2 L398.3 126.6 L399.0 126.4 L399.7 126.7 L400.5 126.2 L401.2 126.1 L401.9 125.9 L402.7 126.0 L403.5 126.1 L404.1 126.3 L404.8 126.4 L405.5 126.4 L406.2 126.5 L406.9 126.6 L407.6 127.2 L408.2 127.1 L409.0 126.9 L409.7 127.2 L410.4 126.8 L411.1 126.9 L412.0 126.4 L412.7 126.4 L413.4 126.3 L414.2 126.7 L414.9 126.9 L415.8 127.0 L416.6 127.1 L417.5 127.2 L418.2 126.9 L418.8 126.8 L419.6 126.6 L420.3 126.2 L421.1 126.5 L421.8 126.4 L422.5 126.4 L423.2 126.0 L423.9 126.0 L424.5 125.9 L425.4 126.0 L426.2 125.6 L426.9 125.5 L427.6 125.6 L428.3 125.4 L429.0 125.7 L429.7 126.1 L430.4 126.3 L431.1 126.6 L431.9 127.0 L432.6 127.0 L433.3 127.1 L433.9 127.6 L434.7 127.4 L435.4 127.1 L436.1 126.6 L436.8 126.3 L437.5 126.1 L438.4 126.8 L439.2 127.2 L440.0 127.7 L440.9 128.0 L441.6 127.7 L442.2 127.6 L442.9 127.1 L443.6 126.6 L444.4 126.6 L445.1 126.6 L445.8 126.7 L446.5 126.4 L447.2 126.4 L448.1 126.2 L449.0 126.4 L449.6 126.4 L450.3 125.9 L451.0 126.0 L451.7 125.4 L452.4 124.9 L453.2 125.0 L453.9 124.8 L454.6 124.7 L455.3 124.8 L456.0 124.4 L456.8 124.7 L457.6 124.7 L458.4 124.9 L459.2 125.1 L459.9 125.5 L460.6 125.9 L461.3 125.8 L461.9 125.6 L462.7 125.5 L463.4 125.3 L463.9 124.8 L464.6 124.6 L465.4 125.0 L466.0 125.3 L466.7 125.9 L467.4 126.4 L468.1 126.8 L468.9 126.8 L469.6 126.8 L470.4 127.0 L471.2 127.3 L471.9 127.5 L472.7 127.6 L473.4 127.6 L474.2 128.0 L475.0 127.8 L475.8 127.8 L476.5 128.1 L477.3 128.3 L478.0 128.1 L478.8 128.0 L479.5 128.3 L480.2 128.1 L481.0 128.1 L481.7 128.4 L482.4 128.6 L483.1 128.5 L483.8 128.3 L484.5 128.3 L485.3 128.7 L486.0 128.6 L486.8 128.9 L487.5 128.9 L488.2 129.0 L489.0 128.4 L489.7 128.1 L490.4 127.7 L491.1 127.8 L491.8 127.6 L492.5 127.3 L493.2 127.4 L494.0 127.1 L494.7 127.1 L495.5 127.0 L496.1 127.3 L496.8 127.2 L497.5 127.1 L498.2 126.8 L498.9 127.0 L499.6 127.2 L500.3 127.4 L501.0 127.6 L501.7 127.8 L502.5 127.5 L503.2 127.2 L503.9 127.6 L504.7 127.9 L505.4 127.9 L506.2 128.2 L507.0 128.3 L507.8 128.1 L508.5 128.0 L509.3 127.8 L510.0 128.2 L510.7 128.6 L511.4 128.8 L512.2 128.5 L512.9 128.4 L513.5 128.5 L514.2 128.4 L514.9 128.2 L515.5 127.8 L516.2 127.7 L517.0 127.3 L517.7 127.1 L518.4 127.3 L519.1 127.7 L519.9 127.6 L520.6 127.5 L521.4 127.4 L522.2 127.4 L523.0 127.7 L523.7 127.6 L524.5 128.0 L525.2 127.6 L525.9 127.6 L526.6 127.7 L527.4 127.7 L528.1 128.1 L528.7 128.3 L529.4 128.6 L530.1 128.5 L530.7 128.1 L531.4 128.3 L532.2 128.4 L532.9 128.4 L533.6 128.3 L534.3 128.5 L535.0 128.8 L535.7 128.4 L536.5 128.5 L537.2 128.4 L538.0 128.4 L538.8 128.7 L539.5 129.0 L540.3 128.9 L541.1 128.6 L541.8 129.0 L542.5 128.7 L543.2 128.8 L543.9 129.2 L544.7 129.1 L545.4 129.1 L546.2 129.6 L546.9 130.0 L547.6 129.8 L548.3 129.8 L549.1 129.7 L549.7 129.6 L550.4 129.6 L551.2 130.1 L552.0 129.7 L552.8 129.6 L553.6 129.4 L554.3 129.2 L555.1 129.3 L555.8 129.5 L556.5 129.6 L557.3 129.5 L558.0 129.6 L558.7 129.0 L559.3 128.9 L559.9 129.3 L560.5 128.9 L561.1 128.8 L561.8 128.8 L562.5 128.7 L563.3 128.8 L564.2 128.5 L565.2 128.5 L565.7 128.9 L566.3 128.7 L566.9 129.0 L567.6 128.7 L568.2 129.1 L568.9 129.0 L569.6 129.0 L570.3 128.6 L571.1 128.3 L571.8 128.6 L572.6 128.4 L573.4 128.2 L574.1 128.6 L574.9 128.8 L575.7 128.4 L576.5 128.7 L577.2 128.6 L578.0 128.5 L578.7 128.2 L579.5 128.2 L580.2 128.6 L580.9 128.3 L581.6 128.1 L582.4 127.9 L583.1 127.8 L583.9 127.9 L584.6 128.4 L585.4 128.1 L586.1 128.0 L586.9 128.4 L587.6 128.7 L588.4 128.9 L589.1 128.5 L589.8 128.3 L590.6 128.6 L591.3 128.5 L592.0 128.5 L592.6 128.3 L593.3 127.9 L594.0 127.9 L594.6 128.1 L595.2 128.3 L596.1 128.2 L597.0 128.0 L597.9 127.9 L598.7 127.7 L599.6 127.5 L600.4 127.5 L601.2 127.2 L601.9 127.1 L602.6 127.1 L603.3 126.9 L603.9 126.7 L604.4 126.6 L604.9 126.5 L605.3 126.4" stroke="#2b2bd6" stroke-width="1.6"/>
<path d="M605.3 126.4 L605.8 126.2 L606.5 125.9 L607.4 125.6 L608.2 125.3 L609.0 125.0 L609.8 124.6 L610.5 124.3 L611.3 123.9 L612.0 123.5 L612.7 123.1 L613.5 122.8 L614.2 122.4 L615.0 121.9 L615.5 121.5 L616.1 120.9 L616.6 120.4 L617.2 119.8 L617.7 119.2 L618.3 118.6 L618.8 118.1 L619.3 117.6 L619.9 117.0 L620.4 116.5 L621.0 116.0 L621.6 115.5 L622.1 115.1 L622.9 114.7 L623.6 114.3 L624.4 114.0 L625.2 113.8 L625.9 113.7 L626.8 113.6 L627.6 113.7 L628.5 113.8 L629.2 114.0 L630.0 114.3 L630.6 114.8 L631.4 115.4 L632.0 115.8 L632.6 116.4 L633.3 116.9 L633.9 117.5 L634.6 118.1 L635.1 118.6 L635.7 119.2 L636.2 119.7 L636.8 120.3 L637.3 120.9 L637.9 121.4 L638.4 121.9 L639.0 122.4 L639.5 122.9 L640.1 123.4 L640.6 123.9 L641.2 124.4 L641.7 124.9 L642.3 125.3 L642.8 125.8 L643.4 126.2 L643.9 126.6 L644.5 127.0 L645.1 127.4 L645.7 127.8 L646.2 128.2 L647.0 128.6 L647.9 128.9 L648.5 129.0 L649.1 129.2 L649.8 129.3 L650.6 129.4 L651.4 129.5 L652.2 129.6 L653.0 129.7 L653.8 129.9 L654.6 130.0 L655.4 130.1 L656.1 130.2 L656.9 130.4 L657.7 130.5 L658.5 130.6 L659.3 130.8 L660.1 130.9 L660.9 131.0 L661.6 131.2 L662.3 131.3 L662.9 131.4 L663.4 131.5 L664.8 131.8 L665.5 131.9 L666.0 132.0" stroke="#2b2bd6" stroke-width="1.6"/>
<path d="M358.3 97.7 L358.7 97.9 L359.1 98.2 L359.7 98.7 L360.4 99.1 L361.0 99.7 L361.7 100.1 L362.4 100.4 L363.1 101.1 L363.7 101.7 L364.4 102.4 L365.0 102.8 L365.7 103.2 L366.4 103.7 L367.0 103.8 L367.6 104.2 L368.1 104.5 L368.6 104.5 L369.6 104.5 L370.3 104.4 L370.6 104.9 L371.0 105.6 L371.4 106.3 L371.9 107.1 L372.3 108.1 L372.7 109.1 L373.0 109.7 L373.8 109.6 L374.6 109.2 L375.2 109.2 L376.0 110.1 L376.8 110.4 L377.4 110.4 L378.0 110.7 L378.7 111.1 L379.4 111.3 L380.1 112.0 L380.6 112.3 L381.0 113.3 L381.5 113.8 L382.0 114.5 L382.5 115.2 L383.0 116.1 L383.5 116.9 L383.9 117.1 L384.9 117.4 L385.7 117.5 L386.6 117.1 L387.4 117.3 L388.2 117.8 L389.1 118.2 L389.9 118.0 L390.8 118.5 L391.7 118.6 L392.6 119.0 L393.3 118.7 L394.1 118.3 L394.9 118.2 L395.8 118.3 L396.5 118.1 L397.3 118.3 L398.2 118.2 L399.0 117.9 L399.7 117.6 L400.6 117.5 L401.4 117.2 L402.2 116.9 L402.9 116.8 L403.5 116.5 L404.0 115.7 L404.7 115.1 L405.3 115.1 L405.9 115.5 L406.6 116.2 L407.4 116.4 L408.2 116.4 L408.9 116.5 L409.6 116.3 L410.4 115.9 L411.2 116.0 L412.0 116.2 L412.8 116.1 L413.6 116.3 L414.4 116.6 L415.2 116.8 L416.0 117.1 L416.8 117.0 L417.5 117.0 L418.2 116.5 L419.0 116.5 L419.7 116.0 L420.3 115.6 L421.0 115.6 L421.6 115.2 L422.4 115.1 L423.1 115.8 L423.8 116.3 L424.5 116.1 L425.1 115.7 L425.8 115.4 L426.5 114.8 L427.2 114.9 L428.0 114.7 L428.6 114.9 L429.3 115.3 L430.0 115.8 L430.7 116.3 L431.4 116.9 L432.1 117.4 L432.7 117.5 L433.5 117.2 L434.2 117.3 L434.9 117.0 L435.5 116.3 L436.2 116.2 L436.9 116.6 L437.5 117.2 L438.2 117.1 L438.9 117.1 L439.7 117.3 L440.3 117.1 L441.0 117.0 L441.7 116.7 L442.4 115.8 L443.1 115.2 L443.8 114.9 L444.4 114.9 L445.2 114.6 L445.8 114.9 L446.5 115.2 L447.1 115.7 L447.9 115.4 L448.4 115.6 L449.0 115.1 L449.7 114.5 L450.3 113.5 L450.9 112.7 L451.5 112.2 L452.1 112.1 L452.6 111.8 L453.5 111.6 L454.2 112.5 L454.8 113.1 L455.5 113.3 L456.2 112.8 L456.8 112.3 L457.5 112.1 L458.4 111.5 L459.1 111.6 L459.8 111.7 L460.6 111.7 L461.5 112.0 L462.3 112.5 L463.1 112.8 L463.8 113.0 L464.4 112.9 L465.1 112.8 L465.7 113.2 L466.4 113.5 L467.0 113.8 L467.7 114.6 L468.3 114.9 L468.8 115.7 L469.4 116.5 L470.0 116.6 L470.6 117.5 L471.2 117.8 L471.8 118.0 L472.4 118.1 L473.1 118.0 L473.8 118.2 L474.5 118.2 L475.3 118.4 L476.0 118.5 L476.7 117.9 L477.4 117.9 L478.0 117.9 L478.8 118.1 L479.6 118.5 L480.2 119.0 L480.9 119.9 L481.5 120.2 L482.3 120.4 L483.0 120.8 L483.7 121.2 L484.4 121.5 L485.1 121.4 L485.8 121.5 L486.5 121.1 L487.3 121.0 L488.0 120.7 L488.6 120.0 L489.3 119.7 L490.1 119.1 L490.8 118.7 L491.5 118.5 L492.2 118.2 L492.9 117.8 L493.6 117.3 L494.3 117.4 L494.9 117.6 L495.6 117.5 L496.1 117.8 L496.8 117.9 L497.9 118.3 L498.4 118.4 L499.1 118.0 L499.8 118.2 L500.5 118.4 L501.3 118.0 L502.1 118.2 L502.9 117.9 L503.7 117.5 L504.5 117.7 L505.3 117.5 L506.0 117.6 L506.7 117.7 L507.5 117.4 L508.2 117.6 L508.9 118.0 L509.6 118.0 L510.3 118.1 L511.0 118.4 L511.7 118.4 L512.3 118.4 L513.0 118.4 L513.8 118.6 L514.5 118.2 L515.2 117.8 L515.9 118.0 L516.6 117.9 L517.3 117.6 L518.1 117.8 L518.9 117.9 L519.6 117.7 L520.3 117.9 L521.0 117.9 L521.8 117.8 L522.6 117.4 L523.3 117.0 L524.1 117.2 L524.9 117.4 L525.6 117.2 L526.3 117.2 L527.0 117.3 L527.8 117.3 L528.6 117.6 L529.4 117.9 L530.1 118.0 L530.8 118.0 L531.5 118.4 L532.2 118.6 L532.9 119.0 L533.6 119.0 L534.3 119.2 L535.0 119.2 L535.7 119.5 L536.4 119.8 L537.2 119.8 L537.9 119.8 L538.7 120.1 L539.4 120.1 L540.1 120.3 L540.8 120.2 L541.6 120.2 L542.3 120.4 L543.1 120.9 L543.8 121.1 L544.5 121.1 L545.1 121.0 L545.7 120.7 L546.6 120.9 L547.3 121.3 L547.9 122.1 L548.5 122.0 L549.2 122.6 L549.9 122.5 L550.7 122.4 L551.5 122.1 L552.3 122.3 L553.1 121.9 L553.9 121.8 L554.8 121.7 L555.6 121.3 L556.4 121.1 L557.2 121.4 L558.0 121.3 L558.6 121.1 L559.2 121.0 L559.8 120.2 L560.5 120.0 L561.2 119.8 L562.0 119.2 L562.5 119.0 L563.1 119.1 L563.7 118.7 L564.3 118.7 L564.9 118.1 L565.6 118.1 L566.3 117.8 L567.0 117.7 L567.9 117.5 L568.8 117.7 L569.4 117.7 L570.0 117.6 L570.6 117.6 L571.3 117.5 L571.9 117.6 L572.6 117.4 L573.3 117.4 L574.1 117.4 L574.8 117.3 L575.6 117.1 L576.3 117.0 L577.1 117.3 L577.9 117.1 L578.7 117.5 L579.4 117.5 L580.2 117.8 L581.0 117.9 L581.7 117.9 L582.4 117.7 L583.1 117.3 L583.8 117.5 L584.5 117.7 L585.3 118.0 L586.0 117.7 L586.8 117.4 L587.6 117.9 L588.3 118.0 L589.1 117.9 L589.8 118.1 L590.5 117.7 L591.3 117.8 L591.9 117.9 L592.6 118.0 L593.3 117.7 L593.9 117.5 L594.5 117.7 L595.0 118.0 L596.0 117.6 L597.0 117.3 L597.8 117.1 L598.6 117.2 L599.4 117.1 L600.0 116.9 L600.6 116.8 L601.2 116.7 L601.6 116.5 L602.0 116.4" stroke="#e3262b" stroke-width="1.3"/>
<path d="M602.0 116.4 L602.6 116.2 L603.4 115.9 L604.2 115.5 L605.0 115.0 L605.6 114.5 L606.2 113.9 L606.7 113.3 L607.3 112.5 L607.7 111.9 L608.1 111.3 L608.5 110.6 L608.8 109.9 L609.2 109.2 L609.6 108.5 L609.9 107.9 L610.2 107.2 L610.5 106.6 L610.8 105.9 L611.1 105.2 L611.4 104.5 L611.7 103.8 L611.9 103.1 L612.2 102.5 L612.4 101.8 L612.7 101.1 L612.9 100.4 L613.1 99.6 L613.4 98.8 L613.6 98.0 L613.8 97.4 L613.9 96.7 L614.1 96.0 L614.3 95.3 L614.4 94.5 L614.6 93.8 L614.7 93.0 L614.9 92.2 L615.1 91.5 L615.2 90.7 L615.4 90.0 L615.6 89.3 L615.7 88.5 L615.9 87.8 L616.1 87.0 L616.3 86.3 L616.4 85.6 L616.6 84.8 L616.8 84.1 L617.0 83.4 L617.1 82.7 L617.3 82.0 L617.5 81.3 L617.6 80.7 L617.8 80.2 L617.9 79.7 L618.0 79.2 L618.2 78.6 L618.3 78.0 L618.5 77.2 L618.7 76.3 L619.0 75.2 L619.1 74.7 L619.2 74.2 L619.4 73.6 L619.5 73.0 L619.6 72.4 L619.8 71.8 L619.9 71.1 L620.1 70.5 L620.2 69.8 L620.4 69.1 L620.5 68.3 L620.7 67.6 L620.9 66.9 L621.0 66.1 L621.2 65.3 L621.3 64.6 L621.5 63.8 L621.7 63.0 L621.8 62.2 L622.0 61.4 L622.2 60.7 L622.3 59.9 L622.5 59.1 L622.6 58.4 L622.8 57.6 L622.9 56.9 L623.1 56.3 L623.2 55.6 L623.3 54.9 L623.5 54.2 L623.6 53.5 L623.7 52.8 L623.9 52.1 L624.0 51.4 L624.1 50.7 L624.2 50.0 L624.4 49.2 L624.5 48.5 L624.6 47.8 L624.8 47.1 L624.9 46.4 L625.0 45.6 L625.2 44.9 L625.3 44.2 L625.4 43.5 L625.6 42.8 L625.7 42.1 L625.8 41.5 L626.0 40.8 L626.1 40.1 L626.2 39.5 L626.3 38.8 L626.5 38.2 L626.6 37.6 L626.8 36.8 L626.9 36.0 L627.1 35.2 L627.3 34.4 L627.4 33.6 L627.6 32.9 L627.8 32.1 L627.9 31.3 L628.1 30.6 L628.3 29.9 L628.5 29.1 L628.6 28.4 L628.8 27.7 L629.0 27.1 L629.1 26.4 L629.3 25.8 L629.5 25.2 L629.6 24.6 L629.8 24.1 L630.0 23.6 L630.1 23.1 L630.3 22.6 L630.8 21.5 L631.2 20.6 L631.7 19.8 L632.2 19.2 L632.7 18.8 L633.2 18.4 L633.6 18.2 L634.1 18.0 L634.7 17.9 L635.3 18.0 L636.0 18.3 L636.6 18.8 L637.2 19.4 L637.8 20.1 L638.1 20.5 L638.4 21.0 L638.7 21.5 L639.1 22.0 L639.4 22.6 L639.7 23.2 L640.0 23.8 L640.3 24.5 L640.6 25.2 L641.0 26.0 L641.3 26.8 L641.6 27.6 L641.8 28.2 L642.0 28.8 L642.2 29.4 L642.4 30.0 L642.7 30.6 L642.9 31.3 L643.1 32.0 L643.3 32.7 L643.5 33.4 L643.7 34.1 L643.9 34.8 L644.1 35.6 L644.4 36.3 L644.6 37.1 L644.8 37.8 L645.0 38.6 L645.2 39.3 L645.4 40.1 L645.6 40.7 L645.7 41.4 L645.9 42.1 L646.1 42.7 L646.2 43.4 L646.4 44.1 L646.6 44.9 L646.7 45.6 L646.9 46.3 L647.1 47.0 L647.2 47.8 L647.4 48.5 L647.6 49.2 L647.8 49.9 L647.9 50.6 L648.1 51.3 L648.3 52.0 L648.4 52.6 L648.6 53.3 L648.8 53.9 L648.9 54.5 L649.1 55.1 L649.3 55.9 L649.6 56.7 L649.8 57.5 L650.1 58.2 L650.3 58.9 L650.6 59.6 L650.8 60.3 L651.0 60.9 L651.3 61.6 L651.5 62.2 L651.8 62.8 L652.1 63.4 L652.3 64.0 L652.6 64.6 L652.9 65.2 L653.3 65.9 L653.7 66.6 L654.1 67.3 L654.5 67.9 L655.0 68.5 L655.4 69.1 L655.8 69.7 L656.3 70.3 L656.7 70.9 L657.1 71.5 L657.5 72.1 L657.9 72.7 L658.3 73.4 L658.6 74.0 L659.0 74.7 L659.3 75.3 L659.6 76.0 L659.9 76.6 L660.3 77.3 L660.6 78.0 L660.9 78.6 L661.2 79.3 L661.6 80.0 L661.9 80.6 L662.3 81.3 L662.7 82.0 L663.0 82.7 L663.4 83.4 L663.8 84.1 L664.2 84.8 L664.6 85.5 L664.9 86.1 L665.3 86.7 L665.6 87.2 L665.8 87.6 L666.0 88.0" stroke="#e3262b" stroke-width="1.3"/>
<path d="M358.5 28.9 L358.8 28.6 L359.3 28.3 L359.8 27.8 L360.4 27.3 L361.0 26.8 L361.7 26.3 L362.4 25.7 L363.0 25.2 L363.7 24.7 L364.3 24.3 L365.0 23.9 L365.7 23.4 L366.3 23.0 L367.0 22.5 L367.7 22.1 L368.4 21.8 L369.0 21.4 L369.6 21.1 L370.2 20.8 L371.0 20.4 L371.7 20.2 L372.2 20.1 L372.9 19.9 L373.7 19.6 L374.3 19.4 L374.9 19.1 L375.5 18.7 L376.2 18.4 L377.0 18.0 L377.7 17.7 L378.3 17.4 L378.9 17.1 L379.5 16.9 L380.3 16.6 L381.1 16.5 L381.7 16.4 L382.3 16.4 L383.0 16.4 L383.7 16.5 L384.3 16.7 L384.9 16.9 L385.6 17.1 L386.5 17.3 L387.1 17.4 L387.8 17.4 L388.5 17.5 L389.2 17.5 L390.0 17.6 L390.8 17.6 L391.6 17.6 L392.4 17.6 L393.1 17.6 L393.7 17.6 L394.4 17.5 L395.1 17.4 L395.8 17.4 L396.5 17.3 L397.3 17.3 L398.0 17.3 L398.7 17.3 L399.4 17.3 L400.1 17.4 L400.8 17.5 L401.6 17.6 L402.3 17.8 L403.0 18.0 L403.8 18.1 L404.5 18.3 L405.1 18.5 L405.8 18.6 L406.4 18.7 L407.3 18.8 L408.1 18.8 L408.7 18.9 L409.4 18.9 L410.2 18.9 L411.1 19.0 L411.7 19.1 L412.4 19.2 L413.0 19.3 L413.7 19.5 L414.5 19.6 L415.2 19.8 L415.9 19.9 L416.7 20.0 L417.4 20.1 L418.1 20.2 L418.8 20.3 L419.5 20.3 L420.2 20.3 L421.0 20.3 L421.7 20.3 L422.4 20.3 L423.1 20.3 L423.8 20.3 L424.4 20.2 L425.1 20.2 L425.9 20.1 L426.6 20.0 L427.3 19.9 L428.0 19.7 L428.7 19.6 L429.4 19.4 L430.1 19.3 L430.9 19.2 L431.6 19.1 L432.3 19.1 L433.0 19.0 L433.8 18.9 L434.5 18.9 L435.3 18.9 L436.1 18.8 L436.8 18.8 L437.5 18.9 L438.2 18.9 L439.0 19.0 L439.8 19.1 L440.5 19.3 L441.3 19.5 L442.0 19.7 L442.7 19.9 L443.3 20.2 L444.0 20.4 L444.7 20.7 L445.4 21.0 L446.0 21.4 L446.7 21.7 L447.3 22.1 L448.0 22.4 L448.7 22.8 L449.3 23.1 L449.9 23.4 L450.5 23.7 L451.2 24.0 L451.9 24.4 L452.5 24.7 L453.2 24.9 L453.8 25.2 L454.5 25.4 L455.2 25.6 L456.0 25.8 L456.7 25.9 L457.5 26.0 L458.2 26.1 L458.9 26.2 L459.7 26.3 L460.4 26.3 L461.1 26.3 L461.9 26.3 L462.6 26.3 L463.4 26.2 L464.1 26.2 L464.8 26.1 L465.5 26.1 L466.2 26.0 L467.0 25.9 L467.8 25.8 L468.5 25.6 L469.3 25.5 L470.1 25.4 L470.9 25.4 L471.6 25.4 L472.3 25.5 L473.0 25.7 L473.7 25.8 L474.5 26.0 L475.2 26.1 L476.0 26.2 L476.7 26.3 L477.4 26.3 L478.2 26.3 L479.0 26.3 L479.7 26.3 L480.5 26.2 L481.2 26.2 L481.9 26.2 L482.6 26.3 L483.4 26.5 L484.2 26.7 L485.0 27.0 L485.7 27.3 L486.4 27.6 L487.2 27.8 L488.0 28.0 L488.8 28.1 L489.5 28.2 L490.3 28.3 L491.1 28.4 L491.9 28.6 L492.6 28.8 L493.3 29.0 L494.0 29.3 L494.7 29.6 L495.3 29.8 L496.0 30.0 L496.6 30.1 L497.4 30.0 L498.0 29.8 L498.7 29.5 L499.3 29.3 L500.1 29.2 L500.8 29.3 L501.5 29.4 L502.2 29.6 L502.9 29.9 L503.8 30.1 L504.7 30.4 L505.3 30.6 L506.0 30.8 L506.7 31.0 L507.4 31.2 L508.1 31.4 L508.9 31.6 L509.7 31.8 L510.4 32.0 L511.2 32.2 L512.0 32.4 L512.7 32.6 L513.4 32.7 L514.2 32.9 L514.9 33.0 L515.7 33.2 L516.4 33.3 L517.2 33.4 L517.9 33.6 L518.7 33.7 L519.5 33.8 L520.2 33.9 L520.9 34.0 L521.7 34.1 L522.4 34.2 L523.2 34.2 L523.9 34.3 L524.7 34.3 L525.4 34.4 L526.2 34.4 L526.9 34.5 L527.7 34.5 L528.4 34.5 L529.1 34.5 L529.9 34.5 L530.6 34.5 L531.4 34.5 L532.2 34.5 L532.9 34.5 L533.6 34.4 L534.4 34.4 L535.1 34.4 L535.8 34.3 L536.5 34.3 L537.2 34.2 L538.0 34.2 L538.6 34.1 L539.3 34.0 L540.0 33.9 L540.7 33.8 L541.3 33.7 L542.0 33.7 L542.8 33.7 L543.5 33.7 L544.2 33.8 L544.9 33.8 L545.7 33.9 L546.4 34.0 L547.2 34.2 L548.0 34.3 L548.8 34.5 L549.5 34.6 L550.3 34.8 L551.0 35.0 L551.7 35.1 L552.4 35.3 L553.2 35.4 L553.9 35.6 L554.5 35.7 L555.2 35.9 L555.9 36.1 L556.5 36.2 L557.2 36.4 L558.0 36.6 L558.7 36.8 L559.3 37.0 L560.0 37.1 L560.7 37.3 L561.3 37.5 L562.0 37.7 L562.7 37.9 L563.4 38.1 L564.1 38.3 L564.8 38.5 L565.5 38.6 L566.2 38.8 L566.9 39.0 L567.6 39.2 L568.2 39.3 L568.9 39.5 L569.6 39.7 L570.2 39.8 L570.9 40.0 L571.6 40.1 L572.2 40.3 L572.9 40.5 L573.6 40.6 L574.4 40.8 L575.1 40.9 L575.8 41.0 L576.4 41.1 L577.1 41.3 L577.8 41.4 L578.5 41.5 L579.2 41.6 L579.9 41.7 L580.6 41.8 L581.4 42.0 L582.1 42.1 L582.8 42.2 L583.6 42.3 L584.3 42.4 L585.0 42.5 L585.7 42.6 L586.5 42.7 L587.2 42.8 L588.0 42.9 L588.7 43.0 L589.5 43.1 L590.2 43.2 L591.0 43.3 L591.7 43.4 L592.5 43.5 L593.2 43.6 L593.9 43.7 L594.6 43.8 L595.2 43.9 L596.1 44.0 L596.9 44.2 L597.7 44.3 L598.5 44.5 L599.2 44.6 L599.9 44.8 L600.6 44.9 L601.3 45.0 L602.0 45.0 L602.7 45.1 L603.5 45.1 L604.2 45.1 L605.0 45.0 L605.7 44.9 L606.4 44.8 L607.1 44.7 L607.8 44.6 L608.4 44.6 L609.0 44.6 L609.9 44.7 L610.7 44.8 L611.4 45.0 L612.1 45.2 L612.8 45.6 L613.3 45.9 L613.9 46.3 L614.4 46.7 L614.9 47.2 L615.4 47.7 L616.0 48.3 L616.5 48.9 L616.9 49.4 L617.3 49.9 L617.6 50.5 L618.0 51.1 L618.4 51.7 L618.8 52.4 L619.2 53.0 L619.5 53.7 L619.9 54.4 L620.3 55.1 L620.6 55.7 L620.9 56.3 L621.2 56.8 L621.5 57.4 L621.8 58.0 L622.1 58.7 L622.5 59.3 L622.8 59.9 L623.1 60.6 L623.4 61.3 L623.7 62.0 L624.0 62.7 L624.3 63.3 L624.5 63.9 L624.8 64.5 L625.0 65.2 L625.3 65.9 L625.5 66.5 L625.8 67.2 L626.0 67.9 L626.3 68.6 L626.5 69.3 L626.8 70.0 L627.0 70.7 L627.3 71.3 L627.5 72.0 L627.8 72.7 L628.1 73.4 L628.3 74.0 L628.6 74.7 L628.8 75.4 L629.1 76.0 L629.3 76.7 L629.6 77.4 L629.8 78.0 L630.1 78.7 L630.3 79.4 L630.6 80.0 L630.8 80.7 L631.1 81.4 L631.3 82.0 L631.6 82.7 L631.8 83.4 L632.1 84.0 L632.3 84.6 L632.6 85.3 L632.8 85.9 L633.0 86.5 L633.3 87.2 L633.5 87.8 L633.7 88.5 L634.0 89.1 L634.2 89.8 L634.5 90.5 L634.7 91.2 L635.0 91.9 L635.3 92.6 L635.5 93.2 L635.8 93.8 L636.0 94.5 L636.3 95.1 L636.6 95.8 L636.8 96.5 L637.1 97.2 L637.4 97.9 L637.7 98.6 L637.9 99.4 L638.2 100.1 L638.5 100.8 L638.8 101.4 L639.0 102.1 L639.3 102.8 L639.6 103.4 L639.8 104.0 L640.1 104.6 L640.3 105.1 L640.7 105.9 L641.0 106.7 L641.3 107.4 L641.6 108.1 L641.9 108.7 L642.2 109.3 L642.5 109.9 L642.8 110.5 L643.1 111.1 L643.4 111.6 L643.7 112.1 L644.1 112.6 L644.6 113.2 L645.1 113.8 L645.6 114.4 L646.2 114.9 L646.7 115.4 L647.3 115.9 L647.9 116.3 L648.5 116.7 L649.1 117.1 L649.7 117.5 L650.4 117.8 L651.0 118.1 L651.7 118.3 L652.4 118.6 L653.1 118.8 L653.9 119.1 L654.6 119.3 L655.4 119.6 L656.1 119.8 L656.8 120.1 L657.6 120.3 L658.4 120.6 L659.2 120.8 L660.0 121.1 L660.8 121.3 L661.6 121.6 L662.3 121.8 L662.9 121.9 L663.4 122.1 L664.8 122.4 L665.5 122.5 L666.0 122.6" stroke="#141414" stroke-width="1.15"/>
</g>
<rect x="9.5" y="183.3" width="318.9" height="138.5" fill="none" stroke="#bdbdbd" stroke-width="1"/>
<line x1="23.30" y1="187.00" x2="23.30" y2="314.60" stroke="#9a9a9a" stroke-width="0.6" />
<line x1="22.10" y1="314.60" x2="23.30" y2="314.60" stroke="#777" stroke-width="0.5" />
<line x1="22.50" y1="307.85" x2="23.30" y2="307.85" stroke="#aaa" stroke-width="0.4" />
<text x="21.7" y="316.2" font-size="4.6" fill="#2a2a2a" stroke="#2a2a2a" stroke-width="0.18" text-anchor="end" font-weight="normal" >0</text>
<line x1="22.10" y1="301.10" x2="23.30" y2="301.10" stroke="#777" stroke-width="0.5" />
<line x1="22.50" y1="294.35" x2="23.30" y2="294.35" stroke="#aaa" stroke-width="0.4" />
<text x="21.7" y="302.7" font-size="4.6" fill="#2a2a2a" stroke="#2a2a2a" stroke-width="0.18" text-anchor="end" font-weight="normal" >50</text>
<line x1="22.10" y1="287.60" x2="23.30" y2="287.60" stroke="#777" stroke-width="0.5" />
<line x1="22.50" y1="280.85" x2="23.30" y2="280.85" stroke="#aaa" stroke-width="0.4" />
<text x="21.7" y="289.2" font-size="4.6" fill="#2a2a2a" stroke="#2a2a2a" stroke-width="0.18" text-anchor="end" font-weight="normal" >100</text>
<line x1="22.10" y1="274.10" x2="23.30" y2="274.10" stroke="#777" stroke-width="0.5" />
<line x1="22.50" y1="267.35" x2="23.30" y2="267.35" stroke="#aaa" stroke-width="0.4" />
<text x="21.7" y="275.7" font-size="4.6" fill="#2a2a2a" stroke="#2a2a2a" stroke-width="0.18" text-anchor="end" font-weight="normal" >150</text>
<line x1="22.10" y1="260.60" x2="23.30" y2="260.60" stroke="#777" stroke-width="0.5" />
<line x1="22.50" y1="253.85" x2="23.30" y2="253.85" stroke="#aaa" stroke-width="0.4" />
<text x="21.7" y="262.2" font-size="4.6" fill="#2a2a2a" stroke="#2a2a2a" stroke-width="0.18" text-anchor="end" font-weight="normal" >200</text>
<line x1="22.10" y1="247.10" x2="23.30" y2="247.10" stroke="#777" stroke-width="0.5" />
<line x1="22.50" y1="240.35" x2="23.30" y2="240.35" stroke="#aaa" stroke-width="0.4" />
<text x="21.7" y="248.7" font-size="4.6" fill="#2a2a2a" stroke="#2a2a2a" stroke-width="0.18" text-anchor="end" font-weight="normal" >250</text>
<line x1="22.10" y1="233.60" x2="23.30" y2="233.60" stroke="#777" stroke-width="0.5" />
<line x1="22.50" y1="226.85" x2="23.30" y2="226.85" stroke="#aaa" stroke-width="0.4" />
<text x="21.7" y="235.2" font-size="4.6" fill="#2a2a2a" stroke="#2a2a2a" stroke-width="0.18" text-anchor="end" font-weight="normal" >300</text>
<line x1="22.10" y1="220.10" x2="23.30" y2="220.10" stroke="#777" stroke-width="0.5" />
<line x1="22.50" y1="213.35" x2="23.30" y2="213.35" stroke="#aaa" stroke-width="0.4" />
<text x="21.7" y="221.7" font-size="4.6" fill="#2a2a2a" stroke="#2a2a2a" stroke-width="0.18" text-anchor="end" font-weight="normal" >350</text>
<line x1="22.10" y1="206.60" x2="23.30" y2="206.60" stroke="#777" stroke-width="0.5" />
<text x="21.7" y="208.2" font-size="4.6" fill="#2a2a2a" stroke="#2a2a2a" stroke-width="0.18" text-anchor="end" font-weight="normal" >400</text>
<line x1="22.50" y1="199.85" x2="23.30" y2="199.85" stroke="#999" stroke-width="0.4" />
<line x1="22.10" y1="193.10" x2="23.30" y2="193.10" stroke="#999" stroke-width="0.4" />
<text x="13.3" y="191.3" font-size="4.7" fill="#2a2a2a" stroke="#2a2a2a" stroke-width="0.18" text-anchor="start" font-weight="normal" letter-spacing="-0.3">MPa</text>
<line x1="18.50" y1="314.60" x2="323.40" y2="314.60" stroke="#787878" stroke-width="0.7" />
<line x1="23.65" y1="314.60" x2="23.65" y2="315.30" stroke="#666" stroke-width="0.45" />
<line x1="26.50" y1="314.60" x2="26.50" y2="315.80" stroke="#666" stroke-width="0.45" />
<line x1="29.35" y1="314.60" x2="29.35" y2="315.30" stroke="#666" stroke-width="0.45" />
<line x1="32.20" y1="314.60" x2="32.20" y2="315.30" stroke="#666" stroke-width="0.45" />
<line x1="35.05" y1="314.60" x2="35.05" y2="315.30" stroke="#666" stroke-width="0.45" />
<line x1="37.90" y1="314.60" x2="37.90" y2="315.30" stroke="#666" stroke-width="0.45" />
<line x1="40.75" y1="314.60" x2="40.75" y2="315.80" stroke="#666" stroke-width="0.45" />
<line x1="43.60" y1="314.60" x2="43.60" y2="315.30" stroke="#666" stroke-width="0.45" />
<line x1="46.45" y1="314.60" x2="46.45" y2="315.30" stroke="#666" stroke-width="0.45" />
<line x1="49.30" y1="314.60" x2="49.30" y2="315.30" stroke="#666" stroke-width="0.45" />
<line x1="52.15" y1="314.60" x2="52.15" y2="315.30" stroke="#666" stroke-width="0.45" />
<line x1="55.00" y1="314.60" x2="55.00" y2="315.80" stroke="#666" stroke-width="0.45" />
<line x1="57.85" y1="314.60" x2="57.85" y2="315.30" stroke="#666" stroke-width="0.45" />
<line x1="60.70" y1="314.60" x2="60.70" y2="315.30" stroke="#666" stroke-width="0.45" />
<line x1="63.55" y1="314.60" x2="63.55" y2="315.30" stroke="#666" stroke-width="0.45" />
<line x1="66.40" y1="314.60" x2="66.40" y2="315.30" stroke="#666" stroke-width="0.45" />
<line x1="69.25" y1="314.60" x2="69.25" y2="315.80" stroke="#666" stroke-width="0.45" />
<line x1="72.10" y1="314.60" x2="72.10" y2="315.30" stroke="#666" stroke-width="0.45" />
<line x1="74.95" y1="314.60" x2="74.95" y2="315.30" stroke="#666" stroke-width="0.45" />
<line x1="77.80" y1="314.60" x2="77.80" y2="315.30" stroke="#666" stroke-width="0.45" />
<line x1="80.65" y1="314.60" x2="80.65" y2="315.30" stroke="#666" stroke-width="0.45" />
<line x1="83.50" y1="314.60" x2="83.50" y2="315.80" stroke="#666" stroke-width="0.45" />
<line x1="86.35" y1="314.60" x2="86.35" y2="315.30" stroke="#666" stroke-width="0.45" />
<line x1="89.20" y1="314.60" x2="89.20" y2="315.30" stroke="#666" stroke-width="0.45" />
<line x1="92.05" y1="314.60" x2="92.05" y2="315.30" stroke="#666" stroke-width="0.45" />
<line x1="94.90" y1="314.60" x2="94.90" y2="315.30" stroke="#666" stroke-width="0.45" />
<line x1="97.75" y1="314.60" x2="97.75" y2="315.80" stroke="#666" stroke-width="0.45" />
<line x1="100.60" y1="314.60" x2="100.60" y2="315.30" stroke="#666" stroke-width="0.45" />
<line x1="103.45" y1="314.60" x2="103.45" y2="315.30" stroke="#666" stroke-width="0.45" />
<line x1="106.30" y1="314.60" x2="106.30" y2="315.30" stroke="#666" stroke-width="0.45" />
<line x1="109.15" y1="314.60" x2="109.15" y2="315.30" stroke="#666" stroke-width="0.45" />
<line x1="112.00" y1="314.60" x2="112.00" y2="315.80" stroke="#666" stroke-width="0.45" />
<line x1="114.85" y1="314.60" x2="114.85" y2="315.30" stroke="#666" stroke-width="0.45" />
<line x1="117.70" y1="314.60" x2="117.70" y2="315.30" stroke="#666" stroke-width="0.45" />
<line x1="120.55" y1="314.60" x2="120.55" y2="315.30" stroke="#666" stroke-width="0.45" />
<line x1="123.40" y1="314.60" x2="123.40" y2="315.30" stroke="#666" stroke-width="0.45" />
<line x1="126.25" y1="314.60" x2="126.25" y2="315.80" stroke="#666" stroke-width="0.45" />
<line x1="129.10" y1="314.60" x2="129.10" y2="315.30" stroke="#666" stroke-width="0.45" />
<line x1="131.95" y1="314.60" x2="131.95" y2="315.30" stroke="#666" stroke-width="0.45" />
<line x1="134.80" y1="314.60" x2="134.80" y2="315.30" stroke="#666" stroke-width="0.45" />
<line x1="137.65" y1="314.60" x2="137.65" y2="315.30" stroke="#666" stroke-width="0.45" />
<line x1="140.50" y1="314.60" x2="140.50" y2="315.80" stroke="#666" stroke-width="0.45" />
<line x1="143.35" y1="314.60" x2="143.35" y2="315.30" stroke="#666" stroke-width="0.45" />
<line x1="146.20" y1="314.60" x2="146.20" y2="315.30" stroke="#666" stroke-width="0.45" />
<line x1="149.05" y1="314.60" x2="149.05" y2="315.30" stroke="#666" stroke-width="0.45" />
<line x1="151.90" y1="314.60" x2="151.90" y2="315.30" stroke="#666" stroke-width="0.45" />
<line x1="154.75" y1="314.60" x2="154.75" y2="315.80" stroke="#666" stroke-width="0.45" />
<line x1="157.60" y1="314.60" x2="157.60" y2="315.30" stroke="#666" stroke-width="0.45" />
<line x1="160.45" y1="314.60" x2="160.45" y2="315.30" stroke="#666" stroke-width="0.45" />
<line x1="163.30" y1="314.60" x2="163.30" y2="315.30" stroke="#666" stroke-width="0.45" />
<line x1="166.15" y1="314.60" x2="166.15" y2="315.30" stroke="#666" stroke-width="0.45" />
<line x1="169.00" y1="314.60" x2="169.00" y2="315.80" stroke="#666" stroke-width="0.45" />
<line x1="171.85" y1="314.60" x2="171.85" y2="315.30" stroke="#666" stroke-width="0.45" />
<line x1="174.70" y1="314.60" x2="174.70" y2="315.30" stroke="#666" stroke-width="0.45" />
<line x1="177.55" y1="314.60" x2="177.55" y2="315.30" stroke="#666" stroke-width="0.45" />
<line x1="180.40" y1="314.60" x2="180.40" y2="315.30" stroke="#666" stroke-width="0.45" />
<line x1="183.25" y1="314.60" x2="183.25" y2="315.80" stroke="#666" stroke-width="0.45" />
<line x1="186.10" y1="314.60" x2="186.10" y2="315.30" stroke="#666" stroke-width="0.45" />
<line x1="188.95" y1="314.60" x2="188.95" y2="315.30" stroke="#666" stroke-width="0.45" />
<line x1="191.80" y1="314.60" x2="191.80" y2="315.30" stroke="#666" stroke-width="0.45" />
<line x1="194.65" y1="314.60" x2="194.65" y2="315.30" stroke="#666" stroke-width="0.45" />
<line x1="197.50" y1="314.60" x2="197.50" y2="315.80" stroke="#666" stroke-width="0.45" />
<line x1="200.35" y1="314.60" x2="200.35" y2="315.30" stroke="#666" stroke-width="0.45" />
<line x1="203.20" y1="314.60" x2="203.20" y2="315.30" stroke="#666" stroke-width="0.45" />
<line x1="206.05" y1="314.60" x2="206.05" y2="315.30" stroke="#666" stroke-width="0.45" />
<line x1="208.90" y1="314.60" x2="208.90" y2="315.30" stroke="#666" stroke-width="0.45" />
<line x1="211.75" y1="314.60" x2="211.75" y2="315.80" stroke="#666" stroke-width="0.45" />
<line x1="214.60" y1="314.60" x2="214.60" y2="315.30" stroke="#666" stroke-width="0.45" />
<line x1="217.45" y1="314.60" x2="217.45" y2="315.30" stroke="#666" stroke-width="0.45" />
<line x1="220.30" y1="314.60" x2="220.30" y2="315.30" stroke="#666" stroke-width="0.45" />
<line x1="223.15" y1="314.60" x2="223.15" y2="315.30" stroke="#666" stroke-width="0.45" />
<line x1="226.00" y1="314.60" x2="226.00" y2="315.80" stroke="#666" stroke-width="0.45" />
<line x1="228.85" y1="314.60" x2="228.85" y2="315.30" stroke="#666" stroke-width="0.45" />
<line x1="231.70" y1="314.60" x2="231.70" y2="315.30" stroke="#666" stroke-width="0.45" />
<line x1="234.55" y1="314.60" x2="234.55" y2="315.30" stroke="#666" stroke-width="0.45" />
<line x1="237.40" y1="314.60" x2="237.40" y2="315.30" stroke="#666" stroke-width="0.45" />
<line x1="240.25" y1="314.60" x2="240.25" y2="315.80" stroke="#666" stroke-width="0.45" />
<line x1="243.10" y1="314.60" x2="243.10" y2="315.30" stroke="#666" stroke-width="0.45" />
<line x1="245.95" y1="314.60" x2="245.95" y2="315.30" stroke="#666" stroke-width="0.45" />
<line x1="248.80" y1="314.60" x2="248.80" y2="315.30" stroke="#666" stroke-width="0.45" />
<line x1="251.65" y1="314.60" x2="251.65" y2="315.30" stroke="#666" stroke-width="0.45" />
<line x1="254.50" y1="314.60" x2="254.50" y2="315.80" stroke="#666" stroke-width="0.45" />
<line x1="257.35" y1="314.60" x2="257.35" y2="315.30" stroke="#666" stroke-width="0.45" />
<line x1="260.20" y1="314.60" x2="260.20" y2="315.30" stroke="#666" stroke-width="0.45" />
<line x1="263.05" y1="314.60" x2="263.05" y2="315.30" stroke="#666" stroke-width="0.45" />
<line x1="265.90" y1="314.60" x2="265.90" y2="315.30" stroke="#666" stroke-width="0.45" />
<line x1="268.75" y1="314.60" x2="268.75" y2="315.80" stroke="#666" stroke-width="0.45" />
<line x1="271.60" y1="314.60" x2="271.60" y2="315.30" stroke="#666" stroke-width="0.45" />
<line x1="274.45" y1="314.60" x2="274.45" y2="315.30" stroke="#666" stroke-width="0.45" />
<line x1="277.30" y1="314.60" x2="277.30" y2="315.30" stroke="#666" stroke-width="0.45" />
<line x1="280.15" y1="314.60" x2="280.15" y2="315.30" stroke="#666" stroke-width="0.45" />
<line x1="283.00" y1="314.60" x2="283.00" y2="315.80" stroke="#666" stroke-width="0.45" />
<line x1="285.85" y1="314.60" x2="285.85" y2="315.30" stroke="#666" stroke-width="0.45" />
<line x1="288.70" y1="314.60" x2="288.70" y2="315.30" stroke="#666" stroke-width="0.45" />
<line x1="291.55" y1="314.60" x2="291.55" y2="315.30" stroke="#666" stroke-width="0.45" />
<line x1="294.40" y1="314.60" x2="294.40" y2="315.30" stroke="#666" stroke-width="0.45" />
<line x1="297.25" y1="314.60" x2="297.25" y2="315.80" stroke="#666" stroke-width="0.45" />
<line x1="300.10" y1="314.60" x2="300.10" y2="315.30" stroke="#666" stroke-width="0.45" />
<line x1="302.95" y1="314.60" x2="302.95" y2="315.30" stroke="#666" stroke-width="0.45" />
<line x1="305.80" y1="314.60" x2="305.80" y2="315.30" stroke="#666" stroke-width="0.45" />
<line x1="308.65" y1="314.60" x2="308.65" y2="315.30" stroke="#666" stroke-width="0.45" />
<line x1="311.50" y1="314.60" x2="311.50" y2="315.80" stroke="#666" stroke-width="0.45" />
<line x1="314.35" y1="314.60" x2="314.35" y2="315.30" stroke="#666" stroke-width="0.45" />
<line x1="317.20" y1="314.60" x2="317.20" y2="315.30" stroke="#666" stroke-width="0.45" />
<line x1="320.05" y1="314.60" x2="320.05" y2="315.30" stroke="#666" stroke-width="0.45" />
<line x1="322.90" y1="314.60" x2="322.90" y2="315.30" stroke="#666" stroke-width="0.45" />
<text x="26.5" y="320.5" font-size="4.6" fill="#2a2a2a" stroke="#2a2a2a" stroke-width="0.18" text-anchor="middle" font-weight="normal" >-60</text>
<text x="40.8" y="320.5" font-size="4.6" fill="#2a2a2a" stroke="#2a2a2a" stroke-width="0.18" text-anchor="middle" font-weight="normal" >-50</text>
<text x="55.0" y="320.5" font-size="4.6" fill="#2a2a2a" stroke="#2a2a2a" stroke-width="0.18" text-anchor="middle" font-weight="normal" >-40</text>
<text x="69.2" y="320.5" font-size="4.6" fill="#2a2a2a" stroke="#2a2a2a" stroke-width="0.18" text-anchor="middle" font-weight="normal" >-30</text>
<text x="83.5" y="320.5" font-size="4.6" fill="#2a2a2a" stroke="#2a2a2a" stroke-width="0.18" text-anchor="middle" font-weight="normal" >-20</text>
<text x="97.8" y="320.5" font-size="4.6" fill="#2a2a2a" stroke="#2a2a2a" stroke-width="0.18" text-anchor="middle" font-weight="normal" >-10</text>
<text x="112.0" y="320.5" font-size="4.6" fill="#2a2a2a" stroke="#2a2a2a" stroke-width="0.18" text-anchor="middle" font-weight="normal" >0</text>
<text x="126.2" y="320.5" font-size="4.6" fill="#2a2a2a" stroke="#2a2a2a" stroke-width="0.18" text-anchor="middle" font-weight="normal" >10</text>
<text x="140.5" y="320.5" font-size="4.6" fill="#2a2a2a" stroke="#2a2a2a" stroke-width="0.18" text-anchor="middle" font-weight="normal" >20</text>
<text x="154.8" y="320.5" font-size="4.6" fill="#2a2a2a" stroke="#2a2a2a" stroke-width="0.18" text-anchor="middle" font-weight="normal" >30</text>
<text x="169.0" y="320.5" font-size="4.6" fill="#2a2a2a" stroke="#2a2a2a" stroke-width="0.18" text-anchor="middle" font-weight="normal" >40</text>
<text x="183.2" y="320.5" font-size="4.6" fill="#2a2a2a" stroke="#2a2a2a" stroke-width="0.18" text-anchor="middle" font-weight="normal" >50</text>
<text x="197.5" y="320.5" font-size="4.6" fill="#2a2a2a" stroke="#2a2a2a" stroke-width="0.18" text-anchor="middle" font-weight="normal" >60</text>
<text x="211.8" y="320.5" font-size="4.6" fill="#2a2a2a" stroke="#2a2a2a" stroke-width="0.18" text-anchor="middle" font-weight="normal" >70</text>
<text x="226.0" y="320.5" font-size="4.6" fill="#2a2a2a" stroke="#2a2a2a" stroke-width="0.18" text-anchor="middle" font-weight="normal" >80</text>
<text x="240.2" y="320.5" font-size="4.6" fill="#2a2a2a" stroke="#2a2a2a" stroke-width="0.18" text-anchor="middle" font-weight="normal" >90</text>
<text x="254.5" y="320.5" font-size="4.6" fill="#2a2a2a" stroke="#2a2a2a" stroke-width="0.18" text-anchor="middle" font-weight="normal" >100</text>
<text x="268.8" y="320.5" font-size="4.6" fill="#2a2a2a" stroke="#2a2a2a" stroke-width="0.18" text-anchor="middle" font-weight="normal" >110</text>
<text x="283.0" y="320.5" font-size="4.6" fill="#2a2a2a" stroke="#2a2a2a" stroke-width="0.18" text-anchor="middle" font-weight="normal" >120</text>
<text x="297.2" y="320.5" font-size="4.6" fill="#2a2a2a" stroke="#2a2a2a" stroke-width="0.18" text-anchor="middle" font-weight="normal" >130</text>
<text x="311.5" y="320.5" font-size="4.6" fill="#2a2a2a" stroke="#2a2a2a" stroke-width="0.18" text-anchor="middle" font-weight="normal" >140</text>
<text x="323.4" y="320.5" font-size="4.6" fill="#2a2a2a" stroke="#2a2a2a" stroke-width="0.18" text-anchor="middle" font-weight="normal" >°C</text>
<line x1="323.40" y1="187.50" x2="323.40" y2="314.60" stroke="#e0a8a8" stroke-width="0.9" />
<line x1="322.20" y1="314.60" x2="323.40" y2="314.60" stroke="#d07070" stroke-width="0.5" />
<line x1="322.70" y1="305.20" x2="323.40" y2="305.20" stroke="#d07070" stroke-width="0.4" />
<text x="321.6" y="316.2" font-size="4.6" fill="#d23c3c" stroke="#d23c3c" stroke-width="0.18" text-anchor="end" font-weight="normal" >0.0</text>
<line x1="322.20" y1="295.80" x2="323.40" y2="295.80" stroke="#d07070" stroke-width="0.5" />
<line x1="322.70" y1="286.40" x2="323.40" y2="286.40" stroke="#d07070" stroke-width="0.4" />
<text x="321.6" y="297.4" font-size="4.6" fill="#d23c3c" stroke="#d23c3c" stroke-width="0.18" text-anchor="end" font-weight="normal" >0.2</text>
<line x1="322.20" y1="277.00" x2="323.40" y2="277.00" stroke="#d07070" stroke-width="0.5" />
<line x1="322.70" y1="267.60" x2="323.40" y2="267.60" stroke="#d07070" stroke-width="0.4" />
<text x="321.6" y="278.6" font-size="4.6" fill="#d23c3c" stroke="#d23c3c" stroke-width="0.18" text-anchor="end" font-weight="normal" >0.4</text>
<line x1="322.20" y1="258.20" x2="323.40" y2="258.20" stroke="#d07070" stroke-width="0.5" />
<line x1="322.70" y1="248.80" x2="323.40" y2="248.80" stroke="#d07070" stroke-width="0.4" />
<text x="321.6" y="259.8" font-size="4.6" fill="#d23c3c" stroke="#d23c3c" stroke-width="0.18" text-anchor="end" font-weight="normal" >0.6</text>
<line x1="322.20" y1="239.40" x2="323.40" y2="239.40" stroke="#d07070" stroke-width="0.5" />
<line x1="322.70" y1="230.00" x2="323.40" y2="230.00" stroke="#d07070" stroke-width="0.4" />
<text x="321.6" y="241.0" font-size="4.6" fill="#d23c3c" stroke="#d23c3c" stroke-width="0.18" text-anchor="end" font-weight="normal" >0.8</text>
<line x1="322.20" y1="220.60" x2="323.40" y2="220.60" stroke="#d07070" stroke-width="0.5" />
<line x1="322.70" y1="211.20" x2="323.40" y2="211.20" stroke="#d07070" stroke-width="0.4" />
<text x="321.6" y="222.2" font-size="4.6" fill="#d23c3c" stroke="#d23c3c" stroke-width="0.18" text-anchor="end" font-weight="normal" >1.0</text>
<line x1="322.20" y1="201.80" x2="323.40" y2="201.80" stroke="#d07070" stroke-width="0.5" />
<text x="321.6" y="203.4" font-size="4.6" fill="#d23c3c" stroke="#d23c3c" stroke-width="0.18" text-anchor="end" font-weight="normal" >1.2</text>
<line x1="322.70" y1="192.40" x2="323.40" y2="192.40" stroke="#d07070" stroke-width="0.4" />
<g transform="translate(299.1,190.8) scale(1,1.15)">
<text x="0.0" y="0.0" font-size="5.2" fill="#d23c3c" stroke="#d23c3c" stroke-width="0.18" text-anchor="start" font-weight="normal" >Tan delta</text>
</g>
<text x="132.0" y="190.0" font-size="4.8" fill="#111" stroke="#111" stroke-width="0.18" text-anchor="start" font-weight="bold" letter-spacing="0.15">PLY/MMT</text>
<text x="30.6" y="193.1" font-size="5.2" fill="#333" stroke="#333" stroke-width="0.18" text-anchor="start" font-weight="normal" >G'</text>
<text x="27.1" y="302.7" font-size="5.2" fill="#2b2bd6" stroke="#2b2bd6" stroke-width="0.18" text-anchor="start" font-weight="normal" >G''</text>
<g transform="translate(214.6,209.2) scale(1,1)">
<text x="0.0" y="0.0" font-size="4.4" fill="#222" stroke="#222" stroke-width="0.18" text-anchor="start" font-weight="normal" letter-spacing="0.07">Onset&#160;&#160;&#160;&#160;91.7°C</text>
</g>
<g transform="translate(238.2,190.9) scale(1,1)">
<text x="0.0" y="0.0" font-size="4.4" fill="#d23c3c" stroke="#d23c3c" stroke-width="0.18" text-anchor="start" font-weight="normal" letter-spacing="0.07">Peak&#160;&#160;&#160;107.7°C</text>
</g>
<g transform="translate(222.1,293.4) scale(1,1)">
<text x="0.0" y="0.0" font-size="4.4" fill="#2b2bd6" stroke="#2b2bd6" stroke-width="0.18" text-anchor="start" font-weight="normal" letter-spacing="0.07">Peak&#160;&#160;&#160;97.5°C</text>
</g>
<line x1="235.00" y1="215.40" x2="248.40" y2="215.40" stroke="#7a7a7a" stroke-width="0.45" />
<line x1="248.40" y1="215.40" x2="259.00" y2="272.00" stroke="#7a7a7a" stroke-width="0.45" />
<clipPath id="cc"><rect x="17.5" y="183" width="309.4" height="132.10000000000002"/></clipPath>
<g clip-path="url(#cc)" fill="none" stroke-linejoin="round" stroke-linecap="round">
<path d="M19.2 306.4 L19.6 306.4 L20.2 306.4 L20.8 306.3 L21.6 306.3 L22.4 306.3 L23.2 306.3 L24.1 306.5 L25.0 306.3 L25.7 306.5 L26.4 306.4 L27.2 306.5 L28.0 306.4 L28.8 306.5 L29.7 306.3 L30.5 306.2 L31.2 306.2 L32.0 306.5 L32.6 306.3 L33.2 306.2 L34.2 306.3 L34.9 306.3 L35.4 306.4 L36.0 306.8 L36.7 307.0 L37.3 307.3 L38.0 307.3 L38.6 307.3 L39.3 307.4 L40.0 307.7 L40.7 307.9 L41.4 308.3 L42.2 308.5 L42.9 308.9 L43.7 309.2 L44.5 309.5 L45.2 309.8 L46.0 309.8 L46.8 309.8 L47.5 309.8 L48.3 309.6 L49.0 309.9 L49.9 310.0 L50.7 309.8 L51.4 310.1 L52.1 310.1 L52.8 310.2 L53.6 310.1 L54.4 309.8 L55.1 310.2 L55.8 309.9 L56.5 309.9 L57.3 310.2 L58.1 309.8 L58.8 309.8 L59.6 309.7 L60.4 309.5 L61.2 309.8 L61.9 309.7 L62.6 309.5 L63.3 309.6 L64.1 309.4 L64.8 309.7 L65.6 310.0 L66.4 310.2 L67.1 309.8 L67.8 310.0 L68.6 309.8 L69.3 309.8 L70.1 309.7 L70.8 309.6 L71.5 309.4 L72.2 309.6 L72.9 309.4 L73.7 309.8 L74.5 309.4 L75.2 309.8 L76.0 309.5 L76.8 309.3 L77.6 309.7 L78.3 309.8 L78.9 310.1 L79.6 310.2 L80.4 310.4 L81.1 310.2 L81.8 310.6 L82.6 310.7 L83.4 311.1 L84.1 310.7 L84.8 310.6 L85.5 310.9 L86.2 311.2 L87.0 311.1 L87.7 311.3 L88.4 311.3 L89.1 311.2 L89.8 311.2 L90.4 311.3 L91.3 311.0 L92.0 310.9 L92.7 311.2 L93.4 311.0 L94.1 311.0 L95.0 310.9 L95.6 310.9 L96.2 311.0 L96.9 311.2 L97.6 311.4 L98.3 311.2 L99.1 310.9 L99.8 310.8 L100.6 310.6 L101.3 310.6 L102.0 310.7 L102.7 310.8 L103.4 310.7 L104.1 310.5 L104.8 310.4 L105.5 310.3 L106.2 310.5 L106.9 310.5 L107.6 310.8 L108.3 310.8 L109.0 310.7 L109.7 310.8 L110.4 310.6 L111.1 310.9 L111.9 311.2 L112.6 311.1 L113.3 311.4 L114.0 311.3 L114.7 311.2 L115.3 311.2 L116.0 311.1 L116.8 311.4 L117.6 311.5 L118.4 311.7 L119.1 311.4 L119.8 311.5 L120.5 311.5 L121.2 311.3 L121.9 311.3 L122.8 311.1 L123.6 310.8 L124.4 310.6 L125.1 310.5 L125.8 310.5 L126.5 310.5 L127.3 310.0 L127.9 310.1 L128.6 310.0 L129.2 309.9 L130.0 310.1 L130.7 309.7 L131.5 310.0 L132.3 310.3 L133.1 310.1 L133.9 310.3 L134.7 310.7 L135.5 310.6 L136.2 310.9 L136.9 311.1 L137.7 311.0 L138.5 310.7 L139.4 310.7 L140.0 311.0 L140.7 310.9 L141.3 310.8 L142.0 310.9 L142.8 311.2 L143.5 311.0 L144.2 310.7 L145.0 311.1 L145.7 310.9 L146.4 310.9 L147.1 311.2 L147.8 311.0 L148.6 310.7 L149.3 311.0 L150.0 310.8 L150.8 310.7 L151.5 311.0 L152.1 310.8 L152.8 311.1 L153.4 310.9 L154.3 310.8 L155.1 310.7 L155.9 310.8 L156.6 310.9 L157.3 310.9 L158.1 311.1 L158.9 311.1 L159.7 311.5 L160.5 311.9 L161.3 312.1 L162.0 312.3 L162.7 312.1 L163.5 312.1 L164.1 312.2 L164.8 312.3 L165.4 312.8 L166.2 313.2 L166.9 313.4 L167.7 313.3 L168.5 313.1 L169.3 313.1 L170.1 312.9 L170.9 313.3 L171.8 313.1 L172.6 312.9 L173.5 313.2 L174.3 312.9 L175.0 313.1 L175.7 312.8 L176.1 312.8 L176.8 312.4 L177.8 312.5 L178.3 312.3 L178.9 312.1 L179.6 312.1 L180.3 312.1 L181.1 311.7 L181.9 311.4 L182.7 311.5 L183.5 311.1 L184.4 311.4 L185.2 311.2 L186.0 310.9 L186.7 310.9 L187.4 310.7 L188.1 310.7 L188.8 310.9 L189.5 310.9 L190.3 310.9 L191.0 310.8 L191.7 310.9 L192.5 311.1 L193.2 311.0 L193.9 311.2 L194.7 311.1 L195.4 310.8 L196.1 310.7 L196.8 311.0 L197.6 310.9 L198.3 310.8 L199.0 310.8 L199.7 311.0 L200.4 310.8 L201.1 310.7 L201.8 310.6 L202.6 310.3 L203.3 310.5 L204.0 310.5 L204.7 310.5 L205.4 310.5 L206.2 310.5 L206.9 310.6 L207.6 310.4 L208.4 310.7 L209.1 310.4 L209.9 310.7 L210.6 310.4 L211.3 310.6 L212.0 310.4 L212.7 310.1 L213.4 310.3 L214.0 310.5 L214.8 310.6 L215.6 310.7 L216.4 310.8 L217.1 310.3 L217.8 310.2 L218.5 310.0 L219.2 310.1 L219.8 310.1 L220.4 310.1 L221.0 310.1 L221.9 310.1 L222.8 310.0 L223.5 309.9 L224.2 309.8 L224.8 309.6 L225.2 309.6" stroke="#2b2bd6" stroke-width="1.6"/>
<path d="M225.2 309.6 L225.6 309.5 L226.1 309.4 L226.6 309.3 L227.2 309.1 L227.9 309.0 L228.6 308.8 L229.4 308.7 L230.2 308.5 L231.0 308.3 L231.8 308.1 L232.6 307.9 L233.5 307.8 L234.3 307.6 L235.0 307.4 L235.8 307.2 L236.5 307.0 L237.1 306.9 L237.7 306.7 L238.6 306.4 L239.4 306.2 L240.1 306.0 L240.9 305.7 L241.5 305.5 L242.2 305.3 L242.8 305.0 L243.3 304.8 L243.9 304.5 L244.5 304.3 L245.0 304.0 L245.7 303.6 L246.4 303.2 L247.0 302.8 L247.6 302.3 L248.1 301.9 L248.6 301.4 L249.1 301.0 L249.6 300.6 L250.2 300.1 L250.7 299.5 L251.2 299.0 L251.7 298.5 L252.1 298.0 L252.6 297.5 L253.2 296.9 L253.9 296.3 L254.5 295.6 L255.1 295.1 L255.7 294.7 L256.6 294.3 L257.6 294.1 L258.4 294.1 L259.2 294.2 L259.8 294.5 L260.6 294.9 L261.1 295.3 L261.7 295.7 L262.2 296.2 L262.8 296.7 L263.3 297.2 L263.8 297.7 L264.2 298.3 L264.7 298.9 L265.1 299.5 L265.6 300.2 L266.0 300.8 L266.4 301.4 L266.8 302.0 L267.1 302.7 L267.5 303.4 L267.9 304.0 L268.3 304.6 L268.6 305.3 L269.0 305.9 L269.4 306.6 L269.8 307.2 L270.2 307.8 L270.6 308.4 L271.1 308.9 L271.6 309.5 L272.1 310.0 L272.6 310.5 L273.2 310.9 L273.8 311.3 L274.4 311.7 L275.1 312.0 L275.7 312.3 L276.4 312.6 L277.1 312.8 L277.8 313.0 L278.6 313.2 L279.4 313.4 L280.2 313.5 L280.9 313.6 L281.6 313.7 L281.6 313.8 L281.0 313.8 L281.5 313.9 L285.0 313.9 L285.4 313.9 L285.8 313.9 L286.3 313.9 L286.8 313.9 L287.3 313.9 L287.8 313.9 L288.4 313.9 L289.0 313.9 L289.7 313.9 L290.3 313.9 L291.0 313.9 L291.7 313.9 L292.4 313.9 L293.1 313.9 L293.9 313.9 L294.6 313.9 L295.4 313.9 L296.2 313.9 L297.0 313.9 L297.8 313.9 L298.7 313.9 L299.5 313.9 L300.3 314.0 L301.2 314.0 L302.1 314.0 L302.9 314.0 L303.8 314.0 L304.7 314.0 L305.5 314.0 L306.4 314.0 L307.3 314.0 L308.1 314.0 L309.0 314.0 L309.9 314.0 L310.7 314.0 L311.6 314.0 L312.4 314.0 L313.2 314.0 L314.1 314.0 L314.9 314.0 L315.7 314.0 L316.4 314.0 L317.2 314.0 L318.0 314.0 L318.7 314.0 L319.4 314.0 L320.1 314.0 L320.8 314.0 L321.4 314.0 L322.1 314.0 L322.7 314.0 L323.3 314.0 L323.8 314.0 L324.3 314.0 L324.8 314.0 L325.3 314.0 L325.7 314.0 L326.1 314.0 L326.5 314.0" stroke="#2b2bd6" stroke-width="1.6"/>
<path d="M19.2 307.9 L19.7 307.9 L20.3 308.0 L21.0 308.0 L21.8 308.0 L22.7 308.0 L23.5 308.0 L24.3 308.1 L25.0 308.0 L25.8 308.1 L26.6 308.4 L27.4 308.2 L28.2 308.4 L28.9 308.5 L29.7 308.5 L30.5 308.5 L31.3 308.4 L32.1 307.9 L32.8 307.7 L33.6 307.8 L34.4 308.2 L35.2 308.1 L35.9 308.4 L36.7 308.5 L37.5 309.0 L38.2 309.2 L39.0 309.4 L39.8 309.6 L40.5 309.4 L41.3 309.5 L42.0 309.7 L42.9 309.9 L43.7 309.8 L44.4 309.8 L45.1 310.0 L45.8 310.7 L46.6 311.0 L47.4 311.3 L48.1 311.6 L48.8 312.0 L49.5 312.0 L50.2 311.8 L50.9 311.9 L51.6 311.7 L52.2 311.2 L52.9 310.6 L53.5 310.6 L54.2 310.5 L55.0 310.3 L55.8 310.0 L56.6 310.1 L57.4 309.9 L58.2 309.6 L58.9 309.4 L59.7 309.6 L60.3 310.1 L61.0 310.4 L61.6 311.1 L62.4 311.3 L63.1 311.2 L63.8 311.2 L64.6 311.1 L65.4 311.0 L66.2 310.8 L67.1 310.7 L67.8 310.6 L68.5 310.7 L69.3 310.4 L70.1 310.6 L70.8 310.4 L71.6 310.6 L72.3 310.2 L72.9 310.2 L73.7 310.1 L74.4 310.1 L75.0 309.7 L75.7 309.5 L76.4 309.3 L77.1 309.6 L77.9 309.9 L78.7 309.8 L79.5 310.0 L80.3 310.2 L81.1 310.8 L81.9 311.0 L82.6 311.3 L83.3 311.4 L84.1 311.8 L84.9 312.1 L85.7 312.2 L86.4 311.8 L87.1 311.8 L87.9 311.8 L88.7 311.4 L89.5 311.6 L90.3 311.4 L91.0 311.3 L91.6 311.4 L92.5 311.4 L93.2 311.4 L94.0 311.7 L95.0 311.6 L95.6 311.5 L96.2 311.2 L96.8 311.3 L97.5 311.3 L98.3 311.3 L99.0 311.3 L99.8 311.0 L100.5 310.8 L101.3 310.8 L102.0 310.8 L102.7 311.2 L103.4 311.2 L104.1 311.0 L104.8 311.2 L105.5 311.2 L106.2 310.9 L106.9 311.1 L107.6 310.9 L108.3 311.3 L109.0 311.0 L109.7 311.0 L110.4 311.0 L111.1 311.4 L111.9 311.6 L112.6 311.7 L113.3 311.5 L114.0 311.6 L114.7 311.8 L115.3 311.6 L116.0 312.0 L116.8 312.2 L117.6 312.4 L118.4 312.3 L119.1 312.2 L119.8 312.4 L120.5 312.0 L121.2 311.7 L121.9 311.5 L122.8 311.2 L123.6 311.3 L124.4 310.9 L125.1 310.9 L125.8 310.6 L126.5 310.7 L127.3 310.6 L127.9 310.4 L128.6 310.4 L129.2 309.9 L130.0 309.7 L130.7 309.8 L131.5 310.0 L132.3 310.3 L133.1 310.8 L133.9 311.0 L134.7 311.3 L135.5 311.4 L136.2 311.3 L136.9 311.3 L137.7 311.5 L138.5 311.7 L139.4 311.5 L140.0 311.4 L140.7 311.5 L141.3 311.3 L142.0 311.6 L142.8 311.2 L143.5 311.3 L144.2 311.3 L145.0 311.1 L145.7 311.2 L146.4 311.2 L147.1 311.5 L147.8 311.6 L148.6 311.5 L149.3 311.6 L150.0 311.6 L150.8 311.2 L151.5 311.4 L152.1 311.5 L152.8 311.6 L153.4 311.6 L154.3 311.3 L155.1 311.1 L155.9 311.2 L156.6 311.0 L157.3 311.3 L158.1 311.4 L158.9 311.7 L159.7 311.6 L160.5 311.7 L161.3 312.1 L162.0 312.3 L162.7 312.4 L163.5 312.6 L164.1 312.7 L164.8 312.9 L165.4 313.0 L166.2 313.0 L166.9 313.4 L167.7 313.6 L168.5 313.7 L169.3 313.5 L170.1 313.3 L170.9 313.5 L171.8 313.6 L172.6 313.6 L173.5 313.2 L174.3 313.3 L175.0 313.2 L175.7 313.0 L176.1 312.9 L176.8 312.8 L177.8 312.7 L178.3 312.7 L178.9 312.8 L179.6 312.3 L180.3 312.2 L181.1 312.3 L181.9 312.2 L182.7 312.0 L183.5 312.0 L184.4 311.5 L185.2 311.6 L186.0 311.6 L186.7 311.5 L187.4 311.3 L188.1 311.3 L188.8 311.1 L189.5 311.2 L190.3 311.0 L191.0 311.4 L191.7 311.5 L192.5 311.4 L193.2 311.5 L193.9 311.3 L194.7 311.3 L195.4 311.0 L196.1 311.3 L196.8 311.4 L197.6 311.4 L198.3 311.0 L199.0 311.2 L199.7 310.8 L200.4 310.9 L201.1 310.9 L201.8 310.6 L202.6 310.7 L203.3 310.9 L204.0 311.0 L204.7 310.8 L205.4 310.9 L206.2 310.8 L206.9 311.0 L207.6 310.8 L208.4 310.5 L209.1 310.9 L209.9 310.5 L210.6 310.4 L211.3 310.7 L212.0 310.4 L212.7 310.5 L213.4 310.8 L214.0 310.7 L214.8 310.6 L215.5 310.7 L216.3 310.8 L217.0 310.7 L217.6 310.6 L218.3 310.4 L219.0 310.3 L219.6 310.6 L220.3 310.7 L221.0 310.2 L221.7 309.9 L222.5 309.8 L223.2 310.0 L224.0 309.7 L224.7 309.5 L225.4 309.7 L226.2 309.5 L226.8 309.7 L227.5 309.5 L228.1 309.5 L229.1 309.4 L230.0 309.1 L230.8 309.0 L231.6 308.8 L232.2 308.7 L232.7 308.6" stroke="#e3262b" stroke-width="1.3"/>
<path d="M232.7 308.6 L233.2 308.4 L234.0 308.1 L235.1 307.7 L235.7 307.5 L236.4 307.3 L237.1 307.1 L237.9 306.8 L238.7 306.5 L239.5 306.3 L240.2 306.0 L240.9 305.8 L241.7 305.5 L242.4 305.2 L243.1 304.9 L243.7 304.7 L244.4 304.3 L245.0 304.0 L245.7 303.6 L246.3 303.2 L247.0 302.8 L247.6 302.4 L248.2 301.9 L248.8 301.4 L249.4 300.9 L249.9 300.3 L250.5 299.8 L251.0 299.2 L251.5 298.6 L251.9 297.9 L252.2 297.3 L252.6 296.7 L252.8 296.0 L253.1 295.4 L253.4 294.7 L253.6 294.0 L253.8 293.3 L254.0 292.6 L254.2 291.9 L254.3 291.2 L254.4 290.5 L254.6 289.7 L254.7 288.9 L254.9 288.0 L255.0 287.4 L255.1 286.8 L255.2 286.1 L255.4 285.5 L255.5 284.8 L255.6 284.1 L255.7 283.3 L255.9 282.5 L256.0 281.7 L256.2 280.9 L256.3 280.0 L256.4 279.4 L256.5 278.8 L256.6 278.2 L256.7 277.6 L256.8 276.9 L256.9 276.3 L257.0 275.6 L257.1 275.0 L257.2 274.3 L257.4 273.6 L257.5 272.8 L257.6 272.1 L257.7 271.3 L257.8 270.5 L258.0 269.7 L258.1 268.9 L258.2 268.0 L258.3 267.4 L258.4 266.7 L258.5 266.1 L258.6 265.4 L258.7 264.7 L258.7 264.0 L258.8 263.2 L258.9 262.5 L259.0 261.7 L259.1 260.9 L259.2 260.2 L259.3 259.4 L259.4 258.6 L259.5 257.8 L259.6 257.1 L259.7 256.3 L259.8 255.5 L259.9 254.8 L260.0 254.0 L260.1 253.3 L260.2 252.6 L260.3 251.9 L260.4 251.3 L260.5 250.6 L260.6 250.0 L260.7 249.2 L260.9 248.4 L261.0 247.7 L261.1 247.0 L261.2 246.4 L261.3 245.8 L261.4 245.3 L261.5 244.7 L261.6 244.2 L261.8 243.6 L261.9 243.0 L262.0 242.3 L262.1 241.6 L262.3 240.8 L262.4 240.0 L262.5 239.0 L262.7 238.0 L262.8 237.5 L262.9 236.9 L262.9 236.3 L263.0 235.7 L263.1 235.1 L263.2 234.4 L263.3 233.8 L263.4 233.1 L263.5 232.4 L263.6 231.7 L263.7 230.9 L263.8 230.2 L263.9 229.4 L264.0 228.7 L264.1 227.9 L264.2 227.1 L264.3 226.3 L264.4 225.6 L264.5 224.8 L264.6 224.0 L264.7 223.2 L264.8 222.5 L264.9 221.7 L265.0 220.9 L265.1 220.2 L265.2 219.4 L265.3 218.7 L265.4 218.0 L265.5 217.3 L265.6 216.6 L265.7 216.0 L265.8 215.3 L265.9 214.7 L265.9 214.1 L266.0 213.5 L266.1 213.0 L266.3 212.0 L266.4 211.0 L266.5 210.0 L266.7 209.1 L266.8 208.3 L266.9 207.5 L267.1 206.7 L267.2 205.9 L267.3 205.2 L267.4 204.5 L267.6 203.9 L267.7 203.3 L267.8 202.7 L267.9 202.1 L268.0 201.5 L268.1 201.0 L268.2 200.5 L268.3 200.0 L268.6 198.7 L268.9 197.8 L269.1 197.0 L269.3 196.5 L269.6 196.0 L269.8 195.5 L270.5 194.4 L271.2 194.1 L271.9 194.4 L272.6 195.5 L272.9 196.0 L273.1 196.5 L273.4 197.0 L273.7 197.8 L273.9 198.7 L274.2 200.0 L274.3 200.5 L274.4 201.0 L274.5 201.6 L274.5 202.1 L274.6 202.7 L274.7 203.4 L274.8 204.0 L274.9 204.7 L274.9 205.4 L275.0 206.1 L275.1 206.9 L275.2 207.7 L275.3 208.5 L275.3 209.3 L275.4 210.2 L275.5 211.1 L275.6 212.0 L275.7 213.0 L275.8 213.6 L275.8 214.2 L275.9 214.8 L275.9 215.5 L276.0 216.2 L276.0 216.9 L276.1 217.6 L276.2 218.3 L276.2 219.1 L276.3 219.9 L276.3 220.6 L276.4 221.4 L276.4 222.2 L276.5 223.0 L276.6 223.8 L276.6 224.6 L276.7 225.4 L276.8 226.2 L276.8 226.9 L276.9 227.7 L276.9 228.5 L277.0 229.2 L277.0 230.0 L277.1 230.7 L277.2 231.4 L277.2 232.0 L277.3 232.7 L277.3 233.3 L277.4 233.9 L277.4 234.5 L277.5 235.0 L277.6 236.1 L277.7 237.1 L277.8 237.9 L277.9 238.7 L278.0 239.4 L278.1 240.1 L278.2 240.7 L278.3 241.3 L278.4 241.9 L278.6 242.5 L278.7 243.0 L278.8 243.7 L278.9 244.3 L279.0 245.0 L279.1 245.7 L279.2 246.4 L279.4 247.1 L279.5 247.8 L279.6 248.6 L279.7 249.3 L279.8 250.0 L280.0 250.8 L280.1 251.5 L280.2 252.2 L280.4 252.9 L280.5 253.6 L280.6 254.2 L280.8 254.9 L280.9 255.5 L281.1 256.3 L281.3 257.1 L281.5 257.8 L281.6 258.5 L281.8 259.2 L282.0 259.9 L282.2 260.5 L282.4 261.2 L282.6 261.8 L282.8 262.4 L283.0 263.0 L283.2 263.7 L283.5 264.5 L283.8 265.2 L284.0 265.8 L284.3 266.5 L284.5 267.1 L284.8 267.8 L285.0 268.3 L285.3 268.9 L285.7 269.7 L286.0 270.4 L286.4 271.0 L286.7 271.6 L287.1 272.2 L287.6 272.7 L288.2 273.2 L288.8 273.6 L289.5 274.0 L290.1 274.4 L290.8 274.7 L291.5 275.0 L292.2 275.3 L292.8 275.5 L293.5 275.7 L294.3 275.8 L295.3 276.0 L295.9 276.1 L296.6 276.2 L297.3 276.3 L298.1 276.4 L298.9 276.6 L299.7 276.7 L300.5 276.8 L301.3 276.9 L302.1 277.0 L302.9 277.1 L303.7 277.2 L304.4 277.3 L305.2 277.4 L305.9 277.5 L306.7 277.6 L307.5 277.6 L308.2 277.7 L309.0 277.8 L309.7 277.9 L310.5 278.0 L311.2 278.1 L311.9 278.2 L312.6 278.2 L313.3 278.3 L314.0 278.4 L314.7 278.5 L315.4 278.6 L316.1 278.6 L316.8 278.7 L317.5 278.8 L318.2 278.9 L319.0 279.0 L319.8 279.1 L320.6 279.2 L321.5 279.3 L322.4 279.4 L323.3 279.5 L324.1 279.6 L324.8 279.7 L325.5 279.8 L326.1 279.8 L326.5 279.9" stroke="#e3262b" stroke-width="1.3"/>
<path d="M19.1 198.2 L19.6 198.0 L20.3 197.6 L21.1 197.2 L22.0 196.8 L22.6 196.5 L23.3 196.2 L24.0 195.9 L24.7 195.7 L25.4 195.4 L26.1 195.3 L26.9 195.3 L27.7 195.4 L28.6 195.5 L29.4 195.7 L30.2 195.8 L31.0 195.9 L31.8 196.0 L32.7 196.1 L33.5 196.2 L34.3 196.4 L35.0 196.6 L35.6 196.9 L36.3 197.1 L37.0 197.4 L37.7 197.7 L38.4 197.9 L39.1 198.1 L39.9 198.2 L40.7 198.3 L41.4 198.5 L42.2 198.6 L43.0 198.8 L43.7 199.0 L44.3 199.2 L45.0 199.5 L45.7 199.7 L46.4 200.0 L47.0 200.2 L47.7 200.5 L48.4 200.8 L49.0 201.1 L49.7 201.4 L50.3 201.8 L51.0 202.1 L51.7 202.4 L52.4 202.6 L53.1 202.8 L53.8 202.9 L54.5 203.0 L55.2 203.1 L56.0 203.1 L56.7 203.2 L57.5 203.3 L58.2 203.4 L58.9 203.5 L59.7 203.6 L60.4 203.8 L61.1 203.9 L61.9 204.0 L62.6 204.2 L63.4 204.4 L64.1 204.6 L64.7 204.8 L65.4 205.1 L66.0 205.4 L66.6 205.7 L67.2 206.1 L67.9 206.4 L68.5 206.7 L69.2 207.0 L69.9 207.3 L70.6 207.5 L71.2 207.8 L71.9 208.0 L72.6 208.2 L73.3 208.4 L74.0 208.6 L74.8 208.8 L75.5 209.0 L76.2 209.2 L76.9 209.3 L77.6 209.4 L78.3 209.6 L79.0 209.7 L79.8 209.8 L80.5 209.9 L81.2 210.0 L81.9 210.0 L82.6 210.1 L83.2 210.1 L83.9 210.1 L84.7 210.1 L85.5 210.0 L86.3 209.9 L87.1 209.8 L87.8 209.6 L88.5 209.5 L89.2 209.4 L89.7 209.3 L90.6 209.2 L91.2 209.3 L92.0 209.3 L92.6 209.3 L93.4 209.3 L94.2 209.2 L95.1 209.2 L95.9 209.3 L96.7 209.4 L97.4 209.6 L98.0 209.8 L98.7 210.1 L99.3 210.4 L100.0 210.8 L100.6 211.1 L101.3 211.4 L102.0 211.7 L102.6 212.0 L103.3 212.3 L104.0 212.6 L104.7 212.9 L105.3 213.2 L106.0 213.5 L106.7 213.8 L107.3 214.1 L108.0 214.4 L108.7 214.7 L109.4 215.0 L110.0 215.2 L110.7 215.3 L111.5 215.3 L112.3 215.3 L113.1 215.2 L113.8 215.0 L114.6 214.8 L115.4 214.6 L116.2 214.4 L116.9 214.1 L117.7 213.8 L118.5 213.5 L119.2 213.3 L120.0 213.2 L120.8 213.2 L121.6 213.4 L122.3 213.6 L123.1 213.8 L123.9 214.0 L124.7 214.1 L125.5 214.1 L126.3 214.2 L127.1 214.1 L127.8 214.1 L128.6 214.0 L129.4 213.8 L130.1 213.6 L130.7 213.4 L131.4 213.2 L132.0 212.9 L132.7 212.6 L133.3 212.2 L134.0 211.8 L134.6 211.4 L135.2 210.9 L135.8 210.3 L136.3 209.8 L136.9 209.2 L137.5 208.7 L138.1 208.2 L138.7 207.9 L139.5 207.6 L140.2 207.5 L140.9 207.4 L141.7 207.4 L142.5 207.4 L143.4 207.3 L144.0 207.2 L144.7 207.1 L145.3 207.0 L146.0 206.9 L146.8 206.8 L147.5 206.7 L148.2 206.6 L149.0 206.6 L149.7 206.5 L150.4 206.5 L151.1 206.5 L151.8 206.5 L152.5 206.6 L153.2 206.6 L153.9 206.7 L154.6 206.7 L155.3 206.8 L156.0 206.9 L156.7 207.0 L157.4 207.1 L158.1 207.2 L158.8 207.3 L159.5 207.5 L160.3 207.6 L161.0 207.7 L161.7 207.9 L162.4 208.0 L163.1 208.1 L163.8 208.2 L164.4 208.3 L165.2 208.4 L165.9 208.4 L166.5 208.5 L167.2 208.5 L167.9 208.5 L168.5 208.5 L169.2 208.4 L170.0 208.4 L170.6 208.3 L171.3 208.3 L172.0 208.2 L172.7 208.0 L173.4 207.9 L174.1 207.8 L174.9 207.7 L175.6 207.6 L176.3 207.5 L177.0 207.5 L177.7 207.5 L178.4 207.5 L179.2 207.5 L179.9 207.6 L180.6 207.6 L181.4 207.7 L182.1 207.8 L182.7 207.9 L183.4 208.0 L184.0 208.1 L184.8 208.3 L185.5 208.6 L186.2 208.9 L186.8 209.2 L187.4 209.5 L188.0 209.9 L188.7 210.2 L189.4 210.5 L190.0 210.9 L190.7 211.2 L191.4 211.6 L192.1 211.9 L192.7 212.2 L193.4 212.5 L194.1 212.7 L194.9 212.9 L195.6 213.0 L196.3 213.2 L197.1 213.3 L198.0 213.4 L198.6 213.5 L199.2 213.6 L199.9 213.7 L200.6 213.8 L201.3 213.9 L202.1 214.0 L202.8 214.1 L203.6 214.2 L204.3 214.2 L205.0 214.3 L205.7 214.4 L206.4 214.4 L207.1 214.4 L207.8 214.4 L208.5 214.5 L209.2 214.5 L209.9 214.5 L210.6 214.5 L211.3 214.5 L212.0 214.5 L212.7 214.5 L213.4 214.5 L214.1 214.5 L214.8 214.4 L215.5 214.4 L216.2 214.4 L216.9 214.4 L217.6 214.3 L218.3 214.3 L219.0 214.3 L219.7 214.3 L220.5 214.3 L221.2 214.3 L222.0 214.3 L222.7 214.3 L223.4 214.3 L224.2 214.3 L224.8 214.3 L225.5 214.3 L226.1 214.3 L227.0 214.3 L227.8 214.3 L228.5 214.3 L229.3 214.3 L230.0 214.4 L230.7 214.5 L231.4 214.6 L232.0 214.8 L232.7 215.0 L233.4 215.2 L234.1 215.5 L234.7 215.7 L235.4 216.0 L236.1 216.3 L236.7 216.6 L237.4 216.9 L238.1 217.2 L238.8 217.6 L239.4 218.0 L240.1 218.4 L240.7 218.8 L241.3 219.2 L241.9 219.6 L242.5 220.1 L243.1 220.5 L243.6 221.0 L244.2 221.5 L244.7 221.9 L245.3 222.4 L245.8 222.9 L246.3 223.4 L246.8 223.9 L247.3 224.4 L247.8 224.9 L248.2 225.4 L248.7 226.0 L249.1 226.6 L249.5 227.2 L249.9 227.9 L250.2 228.6 L250.6 229.5 L250.8 230.1 L251.0 230.6 L251.2 231.2 L251.4 231.8 L251.6 232.5 L251.8 233.2 L252.0 233.9 L252.2 234.7 L252.5 235.5 L252.7 236.4 L252.9 237.0 L253.0 237.6 L253.2 238.2 L253.4 238.9 L253.6 239.6 L253.8 240.3 L254.0 241.0 L254.2 241.7 L254.4 242.4 L254.6 243.2 L254.8 243.9 L255.0 244.7 L255.2 245.4 L255.3 246.2 L255.5 247.0 L255.7 247.7 L255.9 248.4 L256.0 249.1 L256.2 249.7 L256.3 250.4 L256.4 251.2 L256.6 251.9 L256.7 252.6 L256.9 253.3 L257.0 254.0 L257.2 254.8 L257.3 255.5 L257.4 256.2 L257.6 256.9 L257.7 257.6 L257.8 258.3 L257.9 258.9 L258.1 259.6 L258.2 260.2 L258.4 261.0 L258.5 261.7 L258.6 262.3 L258.8 262.9 L258.9 263.5 L259.0 264.0 L259.1 264.6 L259.2 265.2 L259.4 265.9 L259.5 266.5 L259.7 267.3 L259.8 268.1 L260.0 269.0 L260.2 270.0 L260.3 270.5 L260.4 271.1 L260.5 271.7 L260.6 272.3 L260.7 273.0 L260.9 273.6 L261.0 274.3 L261.1 275.0 L261.2 275.7 L261.4 276.5 L261.5 277.2 L261.6 278.0 L261.8 278.7 L261.9 279.5 L262.1 280.3 L262.2 281.0 L262.3 281.8 L262.5 282.6 L262.6 283.3 L262.8 284.1 L262.9 284.8 L263.0 285.5 L263.2 286.3 L263.3 287.0 L263.5 287.6 L263.6 288.3 L263.7 288.9 L263.9 289.5 L264.0 290.1 L264.2 291.0 L264.4 291.8 L264.6 292.7 L264.8 293.5 L265.0 294.3 L265.2 295.0 L265.4 295.7 L265.6 296.5 L265.8 297.1 L266.0 297.8 L266.2 298.5 L266.4 299.1 L266.7 299.7 L266.9 300.3 L267.1 300.9 L267.3 301.5 L267.6 302.0 L267.8 302.6 L268.2 303.4 L268.6 304.2 L269.0 304.9 L269.4 305.6 L269.8 306.3 L270.2 306.9 L270.7 307.5 L271.1 308.1 L271.5 308.7 L272.0 309.2 L272.4 309.6 L272.8 310.1 L273.4 310.7 L274.1 311.2 L274.7 311.7 L275.3 312.0 L275.9 312.3 L276.6 312.6 L277.2 312.9 L277.8 313.1 L278.2 313.3 L278.1 313.5 L277.9 313.6 L277.9 313.7 L278.6 313.8 L280.1 313.8 L282.8 313.9 L283.2 313.9 L283.6 313.9 L284.1 313.9 L284.6 313.9 L285.1 313.9 L285.7 313.9 L286.3 313.9 L286.9 313.9 L287.5 314.0 L288.1 314.0 L288.8 314.0 L289.5 314.0 L290.2 314.0 L290.9 314.0 L291.7 314.0 L292.4 314.0 L293.2 314.0 L294.0 314.0 L294.8 314.0 L295.6 314.0 L296.4 314.0 L297.2 314.0 L298.1 314.0 L298.9 314.0 L299.8 314.0 L300.6 314.0 L301.5 314.0 L302.4 314.0 L303.2 314.0 L304.1 314.0 L305.0 314.0 L305.8 314.0 L306.7 314.0 L307.6 314.0 L308.4 314.0 L309.3 314.0 L310.1 314.0 L311.0 314.0 L311.8 314.0 L312.6 314.0 L313.5 314.0 L314.3 314.0 L315.1 314.0 L315.9 314.0 L316.6 314.0 L317.4 314.0 L318.1 314.0 L318.8 314.0 L319.5 314.0 L320.2 314.0 L320.9 314.0 L321.5 314.0 L322.1 314.0 L322.7 314.0 L323.3 314.0 L323.8 314.0 L324.3 314.0 L324.8 314.0 L325.3 314.0 L325.7 314.0 L326.1 314.0 L326.5 314.0" stroke="#141414" stroke-width="1.3"/>
</g>
<rect x="349.5" y="183.3" width="327.9" height="141.7" fill="none" stroke="#bdbdbd" stroke-width="1"/>
<line x1="360.00" y1="187.00" x2="360.00" y2="317.70" stroke="#666" stroke-width="0.7" stroke-dasharray="0.6 1.1"/>
<line x1="358.80" y1="318.50" x2="360.00" y2="318.50" stroke="#777" stroke-width="0.5" />
<line x1="359.20" y1="309.77" x2="360.00" y2="309.77" stroke="#aaa" stroke-width="0.4" />
<text x="358.4" y="320.1" font-size="4.6" fill="#2a2a2a" stroke="#2a2a2a" stroke-width="0.18" text-anchor="end" font-weight="normal" >0</text>
<line x1="358.80" y1="301.04" x2="360.00" y2="301.04" stroke="#777" stroke-width="0.5" />
<line x1="359.20" y1="292.31" x2="360.00" y2="292.31" stroke="#aaa" stroke-width="0.4" />
<text x="358.4" y="302.6" font-size="4.6" fill="#2a2a2a" stroke="#2a2a2a" stroke-width="0.18" text-anchor="end" font-weight="normal" >100</text>
<line x1="358.80" y1="283.58" x2="360.00" y2="283.58" stroke="#777" stroke-width="0.5" />
<line x1="359.20" y1="274.85" x2="360.00" y2="274.85" stroke="#aaa" stroke-width="0.4" />
<text x="358.4" y="285.2" font-size="4.6" fill="#2a2a2a" stroke="#2a2a2a" stroke-width="0.18" text-anchor="end" font-weight="normal" >200</text>
<line x1="358.80" y1="266.12" x2="360.00" y2="266.12" stroke="#777" stroke-width="0.5" />
<line x1="359.20" y1="257.39" x2="360.00" y2="257.39" stroke="#aaa" stroke-width="0.4" />
<text x="358.4" y="267.7" font-size="4.6" fill="#2a2a2a" stroke="#2a2a2a" stroke-width="0.18" text-anchor="end" font-weight="normal" >300</text>
<line x1="358.80" y1="248.66" x2="360.00" y2="248.66" stroke="#777" stroke-width="0.5" />
<line x1="359.20" y1="239.93" x2="360.00" y2="239.93" stroke="#aaa" stroke-width="0.4" />
<text x="358.4" y="250.3" font-size="4.6" fill="#2a2a2a" stroke="#2a2a2a" stroke-width="0.18" text-anchor="end" font-weight="normal" >400</text>
<line x1="358.80" y1="231.20" x2="360.00" y2="231.20" stroke="#777" stroke-width="0.5" />
<line x1="359.20" y1="222.47" x2="360.00" y2="222.47" stroke="#aaa" stroke-width="0.4" />
<text x="358.4" y="232.8" font-size="4.6" fill="#2a2a2a" stroke="#2a2a2a" stroke-width="0.18" text-anchor="end" font-weight="normal" >500</text>
<line x1="358.80" y1="213.74" x2="360.00" y2="213.74" stroke="#777" stroke-width="0.5" />
<line x1="359.20" y1="205.01" x2="360.00" y2="205.01" stroke="#aaa" stroke-width="0.4" />
<text x="358.4" y="215.3" font-size="4.6" fill="#2a2a2a" stroke="#2a2a2a" stroke-width="0.18" text-anchor="end" font-weight="normal" >600</text>
<line x1="358.80" y1="196.28" x2="360.00" y2="196.28" stroke="#777" stroke-width="0.5" />
<text x="358.4" y="197.9" font-size="4.6" fill="#2a2a2a" stroke="#2a2a2a" stroke-width="0.18" text-anchor="end" font-weight="normal" >700</text>
<line x1="359.20" y1="187.55" x2="360.00" y2="187.55" stroke="#999" stroke-width="0.4" />
<text x="350.3" y="191.8" font-size="4.7" fill="#2a2a2a" stroke="#2a2a2a" stroke-width="0.18" text-anchor="start" font-weight="normal" letter-spacing="-0.3">MPa</text>
<line x1="358.50" y1="317.70" x2="671.60" y2="317.70" stroke="#787878" stroke-width="0.7" />
<line x1="360.24" y1="317.70" x2="360.24" y2="318.40" stroke="#666" stroke-width="0.45" />
<line x1="363.17" y1="317.70" x2="363.17" y2="318.40" stroke="#666" stroke-width="0.45" />
<line x1="366.10" y1="317.70" x2="366.10" y2="318.90" stroke="#666" stroke-width="0.45" />
<line x1="369.03" y1="317.70" x2="369.03" y2="318.40" stroke="#666" stroke-width="0.45" />
<line x1="371.96" y1="317.70" x2="371.96" y2="318.40" stroke="#666" stroke-width="0.45" />
<line x1="374.89" y1="317.70" x2="374.89" y2="318.40" stroke="#666" stroke-width="0.45" />
<line x1="377.82" y1="317.70" x2="377.82" y2="318.40" stroke="#666" stroke-width="0.45" />
<line x1="380.75" y1="317.70" x2="380.75" y2="318.90" stroke="#666" stroke-width="0.45" />
<line x1="383.68" y1="317.70" x2="383.68" y2="318.40" stroke="#666" stroke-width="0.45" />
<line x1="386.61" y1="317.70" x2="386.61" y2="318.40" stroke="#666" stroke-width="0.45" />
<line x1="389.54" y1="317.70" x2="389.54" y2="318.40" stroke="#666" stroke-width="0.45" />
<line x1="392.47" y1="317.70" x2="392.47" y2="318.40" stroke="#666" stroke-width="0.45" />
<line x1="395.40" y1="317.70" x2="395.40" y2="318.90" stroke="#666" stroke-width="0.45" />
<line x1="398.33" y1="317.70" x2="398.33" y2="318.40" stroke="#666" stroke-width="0.45" />
<line x1="401.26" y1="317.70" x2="401.26" y2="318.40" stroke="#666" stroke-width="0.45" />
<line x1="404.19" y1="317.70" x2="404.19" y2="318.40" stroke="#666" stroke-width="0.45" />
<line x1="407.12" y1="317.70" x2="407.12" y2="318.40" stroke="#666" stroke-width="0.45" />
<line x1="410.05" y1="317.70" x2="410.05" y2="318.90" stroke="#666" stroke-width="0.45" />
<line x1="412.98" y1="317.70" x2="412.98" y2="318.40" stroke="#666" stroke-width="0.45" />
<line x1="415.91" y1="317.70" x2="415.91" y2="318.40" stroke="#666" stroke-width="0.45" />
<line x1="418.84" y1="317.70" x2="418.84" y2="318.40" stroke="#666" stroke-width="0.45" />
<line x1="421.77" y1="317.70" x2="421.77" y2="318.40" stroke="#666" stroke-width="0.45" />
<line x1="424.70" y1="317.70" x2="424.70" y2="318.90" stroke="#666" stroke-width="0.45" />
<line x1="427.63" y1="317.70" x2="427.63" y2="318.40" stroke="#666" stroke-width="0.45" />
<line x1="430.56" y1="317.70" x2="430.56" y2="318.40" stroke="#666" stroke-width="0.45" />
<line x1="433.49" y1="317.70" x2="433.49" y2="318.40" stroke="#666" stroke-width="0.45" />
<line x1="436.42" y1="317.70" x2="436.42" y2="318.40" stroke="#666" stroke-width="0.45" />
<line x1="439.35" y1="317.70" x2="439.35" y2="318.90" stroke="#666" stroke-width="0.45" />
<line x1="442.28" y1="317.70" x2="442.28" y2="318.40" stroke="#666" stroke-width="0.45" />
<line x1="445.21" y1="317.70" x2="445.21" y2="318.40" stroke="#666" stroke-width="0.45" />
<line x1="448.14" y1="317.70" x2="448.14" y2="318.40" stroke="#666" stroke-width="0.45" />
<line x1="451.07" y1="317.70" x2="451.07" y2="318.40" stroke="#666" stroke-width="0.45" />
<line x1="454.00" y1="317.70" x2="454.00" y2="318.90" stroke="#666" stroke-width="0.45" />
<line x1="456.93" y1="317.70" x2="456.93" y2="318.40" stroke="#666" stroke-width="0.45" />
<line x1="459.86" y1="317.70" x2="459.86" y2="318.40" stroke="#666" stroke-width="0.45" />
<line x1="462.79" y1="317.70" x2="462.79" y2="318.40" stroke="#666" stroke-width="0.45" />
<line x1="465.72" y1="317.70" x2="465.72" y2="318.40" stroke="#666" stroke-width="0.45" />
<line x1="468.65" y1="317.70" x2="468.65" y2="318.90" stroke="#666" stroke-width="0.45" />
<line x1="471.58" y1="317.70" x2="471.58" y2="318.40" stroke="#666" stroke-width="0.45" />
<line x1="474.51" y1="317.70" x2="474.51" y2="318.40" stroke="#666" stroke-width="0.45" />
<line x1="477.44" y1="317.70" x2="477.44" y2="318.40" stroke="#666" stroke-width="0.45" />
<line x1="480.37" y1="317.70" x2="480.37" y2="318.40" stroke="#666" stroke-width="0.45" />
<line x1="483.30" y1="317.70" x2="483.30" y2="318.90" stroke="#666" stroke-width="0.45" />
<line x1="486.23" y1="317.70" x2="486.23" y2="318.40" stroke="#666" stroke-width="0.45" />
<line x1="489.16" y1="317.70" x2="489.16" y2="318.40" stroke="#666" stroke-width="0.45" />
<line x1="492.09" y1="317.70" x2="492.09" y2="318.40" stroke="#666" stroke-width="0.45" />
<line x1="495.02" y1="317.70" x2="495.02" y2="318.40" stroke="#666" stroke-width="0.45" />
<line x1="497.95" y1="317.70" x2="497.95" y2="318.90" stroke="#666" stroke-width="0.45" />
<line x1="500.88" y1="317.70" x2="500.88" y2="318.40" stroke="#666" stroke-width="0.45" />
<line x1="503.81" y1="317.70" x2="503.81" y2="318.40" stroke="#666" stroke-width="0.45" />
<line x1="506.74" y1="317.70" x2="506.74" y2="318.40" stroke="#666" stroke-width="0.45" />
<line x1="509.67" y1="317.70" x2="509.67" y2="318.40" stroke="#666" stroke-width="0.45" />
<line x1="512.60" y1="317.70" x2="512.60" y2="318.90" stroke="#666" stroke-width="0.45" />
<line x1="515.53" y1="317.70" x2="515.53" y2="318.40" stroke="#666" stroke-width="0.45" />
<line x1="518.46" y1="317.70" x2="518.46" y2="318.40" stroke="#666" stroke-width="0.45" />
<line x1="521.39" y1="317.70" x2="521.39" y2="318.40" stroke="#666" stroke-width="0.45" />
<line x1="524.32" y1="317.70" x2="524.32" y2="318.40" stroke="#666" stroke-width="0.45" />
<line x1="527.25" y1="317.70" x2="527.25" y2="318.90" stroke="#666" stroke-width="0.45" />
<line x1="530.18" y1="317.70" x2="530.18" y2="318.40" stroke="#666" stroke-width="0.45" />
<line x1="533.11" y1="317.70" x2="533.11" y2="318.40" stroke="#666" stroke-width="0.45" />
<line x1="536.04" y1="317.70" x2="536.04" y2="318.40" stroke="#666" stroke-width="0.45" />
<line x1="538.97" y1="317.70" x2="538.97" y2="318.40" stroke="#666" stroke-width="0.45" />
<line x1="541.90" y1="317.70" x2="541.90" y2="318.90" stroke="#666" stroke-width="0.45" />
<line x1="544.83" y1="317.70" x2="544.83" y2="318.40" stroke="#666" stroke-width="0.45" />
<line x1="547.76" y1="317.70" x2="547.76" y2="318.40" stroke="#666" stroke-width="0.45" />
<line x1="550.69" y1="317.70" x2="550.69" y2="318.40" stroke="#666" stroke-width="0.45" />
<line x1="553.62" y1="317.70" x2="553.62" y2="318.40" stroke="#666" stroke-width="0.45" />
<line x1="556.55" y1="317.70" x2="556.55" y2="318.90" stroke="#666" stroke-width="0.45" />
<line x1="559.48" y1="317.70" x2="559.48" y2="318.40" stroke="#666" stroke-width="0.45" />
<line x1="562.41" y1="317.70" x2="562.41" y2="318.40" stroke="#666" stroke-width="0.45" />
<line x1="565.34" y1="317.70" x2="565.34" y2="318.40" stroke="#666" stroke-width="0.45" />
<line x1="568.27" y1="317.70" x2="568.27" y2="318.40" stroke="#666" stroke-width="0.45" />
<line x1="571.20" y1="317.70" x2="571.20" y2="318.90" stroke="#666" stroke-width="0.45" />
<line x1="574.13" y1="317.70" x2="574.13" y2="318.40" stroke="#666" stroke-width="0.45" />
<line x1="577.06" y1="317.70" x2="577.06" y2="318.40" stroke="#666" stroke-width="0.45" />
<line x1="579.99" y1="317.70" x2="579.99" y2="318.40" stroke="#666" stroke-width="0.45" />
<line x1="582.92" y1="317.70" x2="582.92" y2="318.40" stroke="#666" stroke-width="0.45" />
<line x1="585.85" y1="317.70" x2="585.85" y2="318.90" stroke="#666" stroke-width="0.45" />
<line x1="588.78" y1="317.70" x2="588.78" y2="318.40" stroke="#666" stroke-width="0.45" />
<line x1="591.71" y1="317.70" x2="591.71" y2="318.40" stroke="#666" stroke-width="0.45" />
<line x1="594.64" y1="317.70" x2="594.64" y2="318.40" stroke="#666" stroke-width="0.45" />
<line x1="597.57" y1="317.70" x2="597.57" y2="318.40" stroke="#666" stroke-width="0.45" />
<line x1="600.50" y1="317.70" x2="600.50" y2="318.90" stroke="#666" stroke-width="0.45" />
<line x1="603.43" y1="317.70" x2="603.43" y2="318.40" stroke="#666" stroke-width="0.45" />
<line x1="606.36" y1="317.70" x2="606.36" y2="318.40" stroke="#666" stroke-width="0.45" />
<line x1="609.29" y1="317.70" x2="609.29" y2="318.40" stroke="#666" stroke-width="0.45" />
<line x1="612.22" y1="317.70" x2="612.22" y2="318.40" stroke="#666" stroke-width="0.45" />
<line x1="615.15" y1="317.70" x2="615.15" y2="318.90" stroke="#666" stroke-width="0.45" />
<line x1="618.08" y1="317.70" x2="618.08" y2="318.40" stroke="#666" stroke-width="0.45" />
<line x1="621.01" y1="317.70" x2="621.01" y2="318.40" stroke="#666" stroke-width="0.45" />
<line x1="623.94" y1="317.70" x2="623.94" y2="318.40" stroke="#666" stroke-width="0.45" />
<line x1="626.87" y1="317.70" x2="626.87" y2="318.40" stroke="#666" stroke-width="0.45" />
<line x1="629.80" y1="317.70" x2="629.80" y2="318.90" stroke="#666" stroke-width="0.45" />
<line x1="632.73" y1="317.70" x2="632.73" y2="318.40" stroke="#666" stroke-width="0.45" />
<line x1="635.66" y1="317.70" x2="635.66" y2="318.40" stroke="#666" stroke-width="0.45" />
<line x1="638.59" y1="317.70" x2="638.59" y2="318.40" stroke="#666" stroke-width="0.45" />
<line x1="641.52" y1="317.70" x2="641.52" y2="318.40" stroke="#666" stroke-width="0.45" />
<line x1="644.45" y1="317.70" x2="644.45" y2="318.90" stroke="#666" stroke-width="0.45" />
<line x1="647.38" y1="317.70" x2="647.38" y2="318.40" stroke="#666" stroke-width="0.45" />
<line x1="650.31" y1="317.70" x2="650.31" y2="318.40" stroke="#666" stroke-width="0.45" />
<line x1="653.24" y1="317.70" x2="653.24" y2="318.40" stroke="#666" stroke-width="0.45" />
<line x1="656.17" y1="317.70" x2="656.17" y2="318.40" stroke="#666" stroke-width="0.45" />
<line x1="659.10" y1="317.70" x2="659.10" y2="318.90" stroke="#666" stroke-width="0.45" />
<line x1="662.03" y1="317.70" x2="662.03" y2="318.40" stroke="#666" stroke-width="0.45" />
<line x1="664.96" y1="317.70" x2="664.96" y2="318.40" stroke="#666" stroke-width="0.45" />
<line x1="667.89" y1="317.70" x2="667.89" y2="318.40" stroke="#666" stroke-width="0.45" />
<line x1="670.82" y1="317.70" x2="670.82" y2="318.40" stroke="#666" stroke-width="0.45" />
<text x="366.1" y="325.2" font-size="4.6" fill="#2a2a2a" stroke="#2a2a2a" stroke-width="0.18" text-anchor="middle" font-weight="normal" >-60</text>
<text x="380.8" y="325.2" font-size="4.6" fill="#2a2a2a" stroke="#2a2a2a" stroke-width="0.18" text-anchor="middle" font-weight="normal" >-50</text>
<text x="395.4" y="325.2" font-size="4.6" fill="#2a2a2a" stroke="#2a2a2a" stroke-width="0.18" text-anchor="middle" font-weight="normal" >-40</text>
<text x="410.1" y="325.2" font-size="4.6" fill="#2a2a2a" stroke="#2a2a2a" stroke-width="0.18" text-anchor="middle" font-weight="normal" >-30</text>
<text x="424.7" y="325.2" font-size="4.6" fill="#2a2a2a" stroke="#2a2a2a" stroke-width="0.18" text-anchor="middle" font-weight="normal" >-20</text>
<text x="439.4" y="325.2" font-size="4.6" fill="#2a2a2a" stroke="#2a2a2a" stroke-width="0.18" text-anchor="middle" font-weight="normal" >-10</text>
<text x="454.0" y="325.2" font-size="4.6" fill="#2a2a2a" stroke="#2a2a2a" stroke-width="0.18" text-anchor="middle" font-weight="normal" >0</text>
<text x="468.6" y="325.2" font-size="4.6" fill="#2a2a2a" stroke="#2a2a2a" stroke-width="0.18" text-anchor="middle" font-weight="normal" >10</text>
<text x="483.3" y="325.2" font-size="4.6" fill="#2a2a2a" stroke="#2a2a2a" stroke-width="0.18" text-anchor="middle" font-weight="normal" >20</text>
<text x="497.9" y="325.2" font-size="4.6" fill="#2a2a2a" stroke="#2a2a2a" stroke-width="0.18" text-anchor="middle" font-weight="normal" >30</text>
<text x="512.6" y="325.2" font-size="4.6" fill="#2a2a2a" stroke="#2a2a2a" stroke-width="0.18" text-anchor="middle" font-weight="normal" >40</text>
<text x="527.2" y="325.2" font-size="4.6" fill="#2a2a2a" stroke="#2a2a2a" stroke-width="0.18" text-anchor="middle" font-weight="normal" >50</text>
<text x="541.9" y="325.2" font-size="4.6" fill="#2a2a2a" stroke="#2a2a2a" stroke-width="0.18" text-anchor="middle" font-weight="normal" >60</text>
<text x="556.5" y="325.2" font-size="4.6" fill="#2a2a2a" stroke="#2a2a2a" stroke-width="0.18" text-anchor="middle" font-weight="normal" >70</text>
<text x="571.2" y="325.2" font-size="4.6" fill="#2a2a2a" stroke="#2a2a2a" stroke-width="0.18" text-anchor="middle" font-weight="normal" >80</text>
<text x="585.9" y="325.2" font-size="4.6" fill="#2a2a2a" stroke="#2a2a2a" stroke-width="0.18" text-anchor="middle" font-weight="normal" >90</text>
<text x="600.5" y="325.2" font-size="4.6" fill="#2a2a2a" stroke="#2a2a2a" stroke-width="0.18" text-anchor="middle" font-weight="normal" >100</text>
<text x="615.1" y="325.2" font-size="4.6" fill="#2a2a2a" stroke="#2a2a2a" stroke-width="0.18" text-anchor="middle" font-weight="normal" >110</text>
<text x="629.8" y="325.2" font-size="4.6" fill="#2a2a2a" stroke="#2a2a2a" stroke-width="0.18" text-anchor="middle" font-weight="normal" >120</text>
<text x="644.5" y="325.2" font-size="4.6" fill="#2a2a2a" stroke="#2a2a2a" stroke-width="0.18" text-anchor="middle" font-weight="normal" >130</text>
<text x="659.1" y="325.2" font-size="4.6" fill="#2a2a2a" stroke="#2a2a2a" stroke-width="0.18" text-anchor="middle" font-weight="normal" >140</text>
<text x="671.5" y="325.2" font-size="4.6" fill="#2a2a2a" stroke="#2a2a2a" stroke-width="0.18" text-anchor="middle" font-weight="normal" >°C</text>
<line x1="671.60" y1="187.50" x2="671.60" y2="317.70" stroke="#d04848" stroke-width="0.6" stroke-dasharray="0.5 1.2"/>
<line x1="670.40" y1="317.90" x2="671.60" y2="317.90" stroke="#d07070" stroke-width="0.5" />
<line x1="670.90" y1="310.00" x2="671.60" y2="310.00" stroke="#d07070" stroke-width="0.4" />
<text x="669.8" y="319.5" font-size="4.6" fill="#d23c3c" stroke="#d23c3c" stroke-width="0.18" text-anchor="end" font-weight="normal" >0.0</text>
<line x1="670.40" y1="302.10" x2="671.60" y2="302.10" stroke="#d07070" stroke-width="0.5" />
<line x1="670.90" y1="294.20" x2="671.60" y2="294.20" stroke="#d07070" stroke-width="0.4" />
<text x="669.8" y="303.7" font-size="4.6" fill="#d23c3c" stroke="#d23c3c" stroke-width="0.18" text-anchor="end" font-weight="normal" >0.2</text>
<line x1="670.40" y1="286.30" x2="671.60" y2="286.30" stroke="#d07070" stroke-width="0.5" />
<line x1="670.90" y1="278.40" x2="671.60" y2="278.40" stroke="#d07070" stroke-width="0.4" />
<text x="669.8" y="287.9" font-size="4.6" fill="#d23c3c" stroke="#d23c3c" stroke-width="0.18" text-anchor="end" font-weight="normal" >0.4</text>
<line x1="670.40" y1="270.50" x2="671.60" y2="270.50" stroke="#d07070" stroke-width="0.5" />
<line x1="670.90" y1="262.60" x2="671.60" y2="262.60" stroke="#d07070" stroke-width="0.4" />
<text x="669.8" y="272.1" font-size="4.6" fill="#d23c3c" stroke="#d23c3c" stroke-width="0.18" text-anchor="end" font-weight="normal" >0.6</text>
<line x1="670.40" y1="254.70" x2="671.60" y2="254.70" stroke="#d07070" stroke-width="0.5" />
<line x1="670.90" y1="246.80" x2="671.60" y2="246.80" stroke="#d07070" stroke-width="0.4" />
<text x="669.8" y="256.3" font-size="4.6" fill="#d23c3c" stroke="#d23c3c" stroke-width="0.18" text-anchor="end" font-weight="normal" >0.8</text>
<line x1="670.40" y1="238.90" x2="671.60" y2="238.90" stroke="#d07070" stroke-width="0.5" />
<line x1="670.90" y1="231.00" x2="671.60" y2="231.00" stroke="#d07070" stroke-width="0.4" />
<text x="669.8" y="240.5" font-size="4.6" fill="#d23c3c" stroke="#d23c3c" stroke-width="0.18" text-anchor="end" font-weight="normal" >1.0</text>
<line x1="670.40" y1="223.10" x2="671.60" y2="223.10" stroke="#d07070" stroke-width="0.5" />
<line x1="670.90" y1="215.20" x2="671.60" y2="215.20" stroke="#d07070" stroke-width="0.4" />
<text x="669.8" y="224.7" font-size="4.6" fill="#d23c3c" stroke="#d23c3c" stroke-width="0.18" text-anchor="end" font-weight="normal" >1.2</text>
<line x1="670.40" y1="207.30" x2="671.60" y2="207.30" stroke="#d07070" stroke-width="0.5" />
<text x="669.8" y="208.9" font-size="4.6" fill="#d23c3c" stroke="#d23c3c" stroke-width="0.18" text-anchor="end" font-weight="normal" >1.4</text>
<line x1="670.90" y1="199.40" x2="671.60" y2="199.40" stroke="#d07070" stroke-width="0.4" />
<line x1="670.40" y1="191.50" x2="671.60" y2="191.50" stroke="#d07070" stroke-width="0.4" />
<g transform="translate(644.6,188.8) scale(1,1)">
<text x="0.0" y="0.0" font-size="5.2" fill="#d23c3c" stroke="#d23c3c" stroke-width="0.18" text-anchor="start" font-weight="normal" >Tan delta</text>
</g>
<text x="486.1" y="189.5" font-size="4.8" fill="#111" stroke="#111" stroke-width="0.18" text-anchor="start" font-weight="bold" letter-spacing="0.15">PLY/MMT/ADA</text>
<text x="364.6" y="193.1" font-size="5.2" fill="#333" stroke="#333" stroke-width="0.18" text-anchor="start" font-weight="normal" >G'</text>
<text x="365.1" y="308.2" font-size="5.2" fill="#2b2bd6" stroke="#2b2bd6" stroke-width="0.18" text-anchor="start" font-weight="normal" >G''</text>
<g transform="translate(571.9,219.7) scale(1,1)">
<text x="0.0" y="0.0" font-size="4.4" fill="#222" stroke="#222" stroke-width="0.18" text-anchor="start" font-weight="normal" letter-spacing="0.07">Onset&#160;&#160;&#160;94.1°C</text>
</g>
<g transform="translate(580.9,191.6) scale(1,1)">
<text x="0.0" y="0.0" font-size="4.4" fill="#d23c3c" stroke="#d23c3c" stroke-width="0.18" text-anchor="start" font-weight="normal" letter-spacing="0.07">Peak&#160;&#160;&#160;108.1°C</text>
</g>
<g transform="translate(567.9,297.6) scale(1,1)">
<text x="0.0" y="0.0" font-size="4.4" fill="#2b2bd6" stroke="#2b2bd6" stroke-width="0.18" text-anchor="start" font-weight="normal" letter-spacing="0.07">Peak&#160;&#160;&#160;99.5°C</text>
</g>
<line x1="595.60" y1="229.60" x2="599.60" y2="230.70" stroke="#7a7a7a" stroke-width="0.45" />
<line x1="597.40" y1="228.40" x2="597.90" y2="232.30" stroke="#7a7a7a" stroke-width="0.45" />
<clipPath id="cd"><rect x="357.5" y="183" width="317.6" height="135.2"/></clipPath>
<g clip-path="url(#cd)" fill="none" stroke-linejoin="round" stroke-linecap="round">
<path d="M359.1 309.6 L359.6 309.7 L360.2 309.9 L360.9 310.1 L361.7 310.2 L362.6 310.4 L363.5 310.5 L364.3 310.6 L365.0 311.0 L365.8 311.0 L366.5 310.9 L367.3 310.9 L368.0 311.2 L368.8 311.2 L369.5 311.6 L370.2 311.4 L370.9 311.9 L371.6 312.2 L372.2 312.6 L372.9 312.7 L373.5 312.7 L374.2 312.8 L374.9 313.2 L375.6 313.0 L376.2 313.0 L376.9 313.4 L377.7 313.6 L378.4 313.8 L379.1 313.8 L379.9 313.6 L380.7 313.7 L381.4 313.6 L382.1 313.4 L382.8 313.1 L383.5 312.7 L384.3 312.4 L385.0 312.3 L385.7 312.3 L386.4 312.0 L387.1 312.4 L387.7 312.4 L388.6 312.5 L389.4 312.7 L390.1 312.5 L390.8 312.9 L391.6 313.2 L392.4 313.0 L393.1 312.8 L393.8 313.2 L394.5 313.5 L395.2 313.7 L396.0 313.6 L396.7 313.7 L397.5 313.5 L398.2 313.5 L398.9 313.6 L399.6 313.9 L400.3 313.7 L401.0 314.2 L401.7 313.9 L402.5 314.4 L403.2 314.2 L404.0 314.5 L404.7 314.6 L405.3 314.8 L406.0 314.6 L406.8 314.6 L407.5 314.4 L408.2 314.6 L408.9 314.2 L409.7 314.5 L410.4 314.5 L411.1 314.1 L411.8 314.5 L412.5 314.3 L413.2 314.0 L413.9 314.0 L414.6 313.8 L415.3 313.9 L416.0 314.2 L416.7 314.5 L417.4 314.5 L418.1 314.6 L418.8 314.7 L419.5 314.7 L420.1 314.5 L420.8 314.4 L421.4 314.2 L422.1 314.4 L422.8 314.3 L423.5 314.6 L424.3 314.5 L425.1 314.6 L425.7 314.6 L426.4 314.7 L427.1 314.4 L427.8 314.3 L428.5 314.5 L429.2 314.3 L429.9 314.5 L430.7 314.7 L431.4 314.5 L432.2 314.7 L432.9 314.6 L433.6 314.8 L434.3 314.6 L435.0 314.6 L435.8 314.6 L436.5 314.3 L437.2 314.3 L437.9 314.3 L438.6 314.2 L439.2 314.3 L439.9 314.5 L440.6 314.6 L441.3 314.6 L442.1 314.2 L442.9 314.3 L443.7 314.4 L444.4 314.6 L445.1 314.1 L445.8 314.0 L446.5 314.3 L447.3 314.2 L448.1 314.3 L448.9 314.3 L449.7 314.2 L450.4 314.2 L451.2 314.2 L452.0 314.5 L452.7 314.4 L453.5 314.5 L454.1 314.3 L454.8 314.4 L455.4 314.4 L456.3 314.4 L457.1 314.5 L457.9 314.1 L458.7 314.3 L459.3 314.2 L460.0 313.9 L460.6 313.9 L461.2 313.6 L461.8 313.6 L462.4 313.9 L463.2 314.1 L463.9 314.4 L464.5 314.2 L465.2 314.2 L466.0 314.3 L467.0 314.6 L467.6 314.8 L468.2 314.7 L468.9 315.0 L469.6 315.0 L470.3 314.9 L471.1 315.2 L471.9 314.9 L472.7 315.1 L473.4 315.0 L474.2 314.9 L475.0 315.1 L475.7 315.2 L476.4 315.4 L477.2 315.4 L478.0 315.7 L478.7 315.8 L479.5 315.5 L480.2 315.2 L480.9 315.6 L481.7 315.5 L482.4 315.3 L483.1 315.2 L483.9 315.5 L484.6 315.4 L485.3 315.4 L486.1 315.7 L486.8 315.6 L487.5 315.8 L488.2 316.2 L488.9 316.3 L489.7 316.3 L490.4 316.3 L491.1 316.2 L491.9 316.3 L492.7 316.4 L493.4 316.4 L494.1 316.3 L494.9 316.4 L495.7 316.2 L496.4 316.3 L497.2 316.6 L498.0 316.2 L498.8 316.0 L499.5 316.4 L500.2 316.1 L500.9 316.3 L501.5 316.3 L502.1 316.0 L503.1 316.2 L504.0 315.9 L504.7 316.2 L505.3 316.1 L505.9 316.4 L506.7 316.6 L507.4 316.2 L508.2 316.0 L508.9 315.8 L509.7 316.0 L510.5 315.7 L511.3 315.4 L512.0 315.3 L512.7 315.7 L513.4 315.6 L514.0 315.6 L514.6 315.7 L515.3 315.8 L516.1 315.8 L517.0 316.1 L517.6 316.0 L518.3 315.9 L519.0 316.2 L519.7 316.0 L520.5 315.8 L521.3 316.1 L522.1 316.0 L522.9 316.3 L523.7 316.4 L524.4 316.2 L525.2 316.1 L525.9 315.8 L526.7 316.1 L527.4 315.9 L528.1 315.8 L528.9 315.5 L529.6 315.4 L530.3 315.6 L531.1 315.3 L531.8 315.3 L532.6 315.4 L533.4 315.3 L534.1 315.3 L534.8 315.2 L535.5 315.0 L536.2 315.3 L536.9 315.4 L537.7 315.4 L538.4 315.1 L539.2 315.4 L539.9 315.1 L540.6 314.9 L541.3 315.0 L542.0 315.2 L542.7 315.1 L543.5 314.8 L544.3 315.1 L545.0 314.7 L545.8 314.6 L546.5 314.9 L547.2 314.9 L548.0 314.8 L548.7 314.4 L549.4 314.5 L550.2 314.3 L550.9 313.9 L551.6 314.2 L552.4 314.3 L553.1 313.9 L553.8 313.9 L554.6 314.1 L555.3 313.9 L556.0 313.7 L556.8 313.8 L557.5 313.7 L558.3 314.0 L559.1 314.0 L559.8 314.0 L560.5 313.9 L561.2 313.6 L562.0 313.6 L562.7 313.6 L563.5 313.5 L564.2 313.5 L564.9 313.3 L565.7 313.1 L566.4 313.4 L567.1 313.3 L567.8 313.0 L568.4 313.3 L569.2 313.2 L570.0 313.3 L570.7 313.0 L571.4 312.8 L572.1 312.7 L572.8 312.9 L573.4 312.7 L574.1 312.9 L574.7 312.7 L575.4 312.8 L576.2 312.5 L577.0 312.4 L577.8 312.2 L578.6 312.1 L579.4 312.0 L580.1 312.0 L580.7 311.9 L581.3 311.8 L581.7 311.8" stroke="#2b2bd6" stroke-width="1.6"/>
<path d="M581.7 311.8 L582.2 311.7 L582.9 311.6 L583.8 311.5 L584.7 311.4 L585.6 311.2 L586.4 311.1 L587.1 311.0 L588.0 310.9 L588.6 310.8 L589.2 310.6 L590.0 310.3 L590.6 310.0 L591.2 309.7 L591.9 309.4 L592.5 309.0 L593.2 308.5 L593.9 308.1 L594.6 307.6 L595.2 307.1 L595.8 306.6 L596.4 306.1 L597.0 305.6 L597.6 305.0 L598.2 304.5 L598.7 304.0 L599.2 303.5 L599.9 302.8 L600.5 302.2 L601.0 301.7 L601.6 301.2 L602.2 300.8 L602.9 300.4 L603.6 300.1 L604.3 299.9 L605.0 299.7 L605.6 299.6 L606.3 299.6 L607.0 299.8 L607.6 300.0 L608.3 300.4 L608.9 300.7 L609.5 301.2 L610.1 301.6 L610.8 302.1 L611.4 302.7 L611.9 303.2 L612.4 303.7 L612.9 304.3 L613.4 304.9 L613.9 305.5 L614.4 306.1 L614.8 306.7 L615.3 307.3 L615.7 307.9 L616.2 308.5 L616.6 309.1 L617.1 309.7 L617.5 310.3 L618.0 311.0 L618.5 311.7 L619.0 312.3 L619.5 313.0 L620.0 313.6 L620.5 314.1 L621.1 314.7 L621.7 315.2 L622.3 315.6 L622.9 316.0 L623.6 316.4 L623.6 316.7 L623.0 317.0 L622.7 317.2 L623.9 317.4 L627.4 317.6 L627.8 317.6 L628.2 317.6 L628.7 317.6 L629.2 317.6 L629.7 317.7 L630.2 317.7 L630.7 317.7 L631.3 317.7 L631.9 317.7 L632.5 317.7 L633.2 317.7 L633.9 317.7 L634.5 317.7 L635.2 317.7 L636.0 317.7 L636.7 317.7 L637.4 317.7 L638.2 317.8 L639.0 317.8 L639.8 317.8 L640.6 317.8 L641.4 317.8 L642.2 317.8 L643.0 317.8 L643.9 317.8 L644.7 317.8 L645.6 317.8 L646.5 317.8 L647.3 317.8 L648.2 317.8 L649.1 317.8 L649.9 317.8 L650.8 317.8 L651.7 317.8 L652.5 317.8 L653.4 317.8 L654.3 317.8 L655.2 317.8 L656.0 317.8 L656.9 317.8 L657.7 317.8 L658.6 317.8 L659.4 317.9 L660.2 317.9 L661.0 317.9 L661.8 317.9 L662.6 317.9 L663.4 317.9 L664.2 317.9 L664.9 317.9 L665.7 317.9 L666.4 317.9 L667.1 317.9 L667.8 317.9 L668.4 317.9 L669.1 317.9 L669.7 317.9 L670.3 317.9 L670.9 317.9 L671.4 317.9 L672.0 317.9 L672.5 317.9 L673.0 317.9 L673.4 317.9 L673.8 317.9 L674.2 317.9 L674.6 317.9" stroke="#2b2bd6" stroke-width="1.6"/>
<path d="M359.1 313.7 L359.6 313.6 L360.3 313.4 L361.1 313.3 L362.0 313.2 L362.9 313.0 L363.7 312.8 L364.3 312.8 L365.3 312.4 L365.9 312.1 L366.7 311.9 L367.3 312.2 L367.9 312.9 L368.6 313.1 L369.3 313.4 L370.2 314.0 L370.8 313.8 L371.5 313.7 L372.3 314.1 L373.0 314.0 L373.8 314.3 L374.6 314.2 L375.3 314.4 L376.0 314.7 L376.8 314.7 L377.6 314.5 L378.3 314.5 L379.1 314.6 L379.9 314.2 L380.7 314.0 L381.4 314.0 L382.1 314.0 L382.8 313.8 L383.5 313.9 L384.3 313.7 L385.0 313.9 L385.8 313.7 L386.5 313.5 L387.2 313.4 L388.0 313.3 L388.7 313.4 L389.5 313.9 L390.2 314.0 L390.9 314.1 L391.7 314.5 L392.4 314.7 L393.1 314.8 L393.9 314.5 L394.6 314.4 L395.3 314.4 L396.0 314.3 L396.8 314.3 L397.5 314.3 L398.2 314.3 L398.9 314.6 L399.6 314.8 L400.3 314.9 L401.0 315.0 L401.7 315.2 L402.5 315.4 L403.2 315.1 L404.0 315.5 L404.7 315.5 L405.3 315.4 L406.0 315.7 L406.8 315.8 L407.5 315.6 L408.2 315.2 L408.9 315.3 L409.7 315.3 L410.4 315.3 L411.1 315.1 L411.8 315.2 L412.5 315.1 L413.2 315.2 L414.0 315.2 L414.7 314.9 L415.4 315.1 L416.1 314.9 L416.8 314.6 L417.4 314.5 L418.1 314.4 L418.9 314.5 L419.7 315.0 L420.5 315.3 L421.2 315.4 L421.9 315.3 L422.6 315.3 L423.3 315.3 L423.9 315.5 L424.7 315.8 L425.5 315.8 L426.1 316.2 L426.7 316.4 L427.4 316.6 L428.1 316.7 L428.8 316.3 L429.5 316.0 L430.2 315.5 L430.9 315.3 L431.6 315.3 L432.3 315.0 L433.0 315.0 L433.9 315.1 L435.0 314.9 L435.6 314.8 L436.1 315.1 L436.8 314.9 L437.4 314.8 L438.1 314.7 L438.9 314.8 L439.6 314.8 L440.4 314.7 L441.2 314.6 L442.0 314.5 L442.9 314.6 L443.7 314.8 L444.4 314.5 L445.1 314.7 L445.8 314.6 L446.5 315.0 L447.3 315.2 L448.1 314.8 L448.9 314.9 L449.7 314.8 L450.4 314.6 L451.2 314.9 L452.0 315.1 L452.7 315.2 L453.5 315.1 L454.1 315.3 L454.8 315.1 L455.4 315.1 L456.3 315.0 L457.1 315.1 L457.9 315.1 L458.7 314.8 L459.3 314.5 L460.0 314.5 L460.6 314.6 L461.2 314.4 L461.8 314.7 L462.4 314.8 L463.2 314.9 L463.9 314.9 L464.5 315.0 L465.2 314.9 L466.0 315.2 L467.0 315.1 L467.6 315.4 L468.2 315.5 L468.9 315.3 L469.6 315.2 L470.3 315.4 L471.1 315.5 L471.9 315.7 L472.7 315.5 L473.4 315.8 L474.2 315.8 L475.0 315.8 L475.7 316.0 L476.4 316.0 L477.2 316.0 L478.0 315.9 L478.7 315.9 L479.5 315.7 L480.2 315.7 L480.9 316.0 L481.7 315.8 L482.4 315.6 L483.1 316.0 L483.9 316.0 L484.6 316.1 L485.3 316.2 L486.1 316.3 L486.8 316.2 L487.5 316.5 L488.2 316.2 L488.9 316.5 L489.7 316.4 L490.4 316.6 L491.1 316.5 L491.9 316.8 L492.7 316.7 L493.4 316.8 L494.1 316.7 L494.9 316.9 L495.7 317.0 L496.4 316.7 L497.2 316.9 L498.0 317.1 L498.8 316.8 L499.5 316.6 L500.2 316.9 L500.9 317.1 L501.5 316.7 L502.1 316.9 L503.1 317.1 L504.0 316.8 L504.7 316.9 L505.3 316.7 L505.9 316.9 L506.7 316.8 L507.4 316.7 L508.2 316.4 L508.9 316.5 L509.7 316.5 L510.5 316.3 L511.3 315.9 L512.0 315.8 L512.7 315.8 L513.4 316.2 L514.0 316.3 L514.6 316.5 L515.3 316.5 L516.1 316.2 L517.0 316.1 L517.6 316.4 L518.3 316.6 L519.0 316.8 L519.7 316.8 L520.5 316.8 L521.3 316.8 L522.1 316.9 L522.9 316.7 L523.7 316.3 L524.4 316.2 L525.2 316.0 L525.9 316.0 L526.7 316.1 L527.4 316.0 L528.1 315.9 L528.9 315.7 L529.6 315.6 L530.3 315.7 L531.1 315.7 L531.8 316.0 L532.6 315.5 L533.4 315.4 L534.1 315.2 L534.8 315.6 L535.5 315.6 L536.2 315.6 L536.9 315.7 L537.7 315.3 L538.4 315.6 L539.2 315.4 L539.9 315.5 L540.6 315.4 L541.3 315.5 L542.0 315.3 L542.7 315.1 L543.5 315.0 L544.3 315.2 L545.0 315.1 L545.8 314.8 L546.5 314.7 L547.2 314.8 L548.0 314.7 L548.7 314.7 L549.4 314.8 L550.2 314.8 L550.9 314.8 L551.6 314.5 L552.4 314.6 L553.1 314.7 L553.8 314.5 L554.6 314.1 L555.3 313.8 L556.0 314.0 L556.8 314.2 L557.5 314.2 L558.3 314.1 L559.1 314.0 L559.8 313.7 L560.5 313.8 L561.2 314.1 L562.0 313.8 L562.7 313.8 L563.5 314.0 L564.2 314.0 L564.9 313.8 L565.7 313.6 L566.4 313.7 L567.1 313.9 L567.8 314.0 L568.4 313.8 L569.2 313.8 L570.0 313.9 L570.7 313.6 L571.4 313.6 L572.1 313.4 L572.8 313.2 L573.4 312.9 L574.1 313.1 L574.7 313.2 L575.4 312.9 L576.2 312.8 L577.0 312.8 L577.8 312.7 L578.6 312.8 L579.4 312.7 L580.1 312.7 L580.7 312.7 L581.3 312.6 L581.7 312.6" stroke="#e3262b" stroke-width="1.3"/>
<path d="M581.7 312.6 L582.2 312.6 L582.9 312.5 L583.8 312.5 L584.7 312.4 L585.6 312.3 L586.4 312.3 L587.1 312.2 L588.0 312.1 L588.6 312.1 L589.2 312.0 L590.0 311.7 L590.6 311.4 L591.2 311.1 L591.9 310.7 L592.6 310.2 L593.3 309.8 L594.0 309.3 L594.6 308.8 L595.2 308.3 L595.8 307.8 L596.4 307.2 L596.9 306.6 L597.4 306.1 L597.9 305.5 L598.4 305.0 L599.0 304.4 L599.4 303.8 L599.9 303.2 L600.3 302.6 L600.7 301.9 L601.0 301.3 L601.4 300.6 L601.7 299.9 L602.0 299.1 L602.3 298.4 L602.6 297.7 L602.9 297.0 L603.1 296.4 L603.4 295.8 L603.6 295.2 L603.9 294.4 L604.1 293.5 L604.2 292.9 L604.4 292.3 L604.5 291.6 L604.6 290.9 L604.8 290.1 L604.9 289.4 L605.1 288.6 L605.2 287.8 L605.3 287.0 L605.5 286.3 L605.6 285.5 L605.7 284.8 L605.8 284.1 L606.0 283.4 L606.1 282.6 L606.2 281.9 L606.3 281.2 L606.4 280.5 L606.6 279.7 L606.7 279.0 L606.8 278.3 L606.9 277.7 L607.0 277.0 L607.1 276.2 L607.3 275.5 L607.4 274.7 L607.5 274.0 L607.6 273.3 L607.8 272.6 L607.9 271.9 L608.0 271.2 L608.1 270.6 L608.2 270.0 L608.3 269.3 L608.4 268.9 L608.6 268.5 L608.7 268.1 L608.8 267.5 L608.9 266.5 L609.1 265.0 L609.2 264.5 L609.2 264.0 L609.3 263.5 L609.3 262.9 L609.4 262.3 L609.4 261.6 L609.5 260.9 L609.6 260.2 L609.7 259.5 L609.7 258.8 L609.8 258.0 L609.9 257.2 L609.9 256.4 L610.0 255.6 L610.1 254.8 L610.2 254.0 L610.2 253.2 L610.3 252.4 L610.4 251.6 L610.5 250.8 L610.5 250.0 L610.6 249.2 L610.7 248.5 L610.7 247.7 L610.8 247.0 L610.9 246.3 L610.9 245.6 L611.0 245.0 L611.1 244.2 L611.2 243.4 L611.2 242.6 L611.3 241.8 L611.4 241.1 L611.4 240.3 L611.5 239.6 L611.6 238.9 L611.6 238.2 L611.7 237.5 L611.8 236.8 L611.8 236.2 L611.9 235.5 L612.0 234.8 L612.0 234.1 L612.1 233.5 L612.2 232.8 L612.2 232.1 L612.3 231.4 L612.4 230.7 L612.5 230.0 L612.6 229.3 L612.7 228.6 L612.8 227.9 L612.9 227.1 L613.0 226.4 L613.1 225.7 L613.2 225.0 L613.4 224.3 L613.5 223.6 L613.6 222.9 L613.7 222.1 L613.8 221.4 L614.0 220.7 L614.1 220.0 L614.2 219.3 L614.3 218.6 L614.4 217.9 L614.5 217.1 L614.6 216.4 L614.7 215.7 L614.8 215.0 L614.9 214.3 L615.0 213.5 L615.0 212.8 L615.1 212.0 L615.2 211.3 L615.2 210.5 L615.3 209.7 L615.4 208.9 L615.4 208.2 L615.5 207.4 L615.5 206.7 L615.6 205.9 L615.7 205.2 L615.7 204.4 L615.8 203.7 L615.8 203.1 L615.9 202.4 L615.9 201.7 L616.0 201.1 L616.0 200.6 L616.1 200.0 L616.2 198.9 L616.3 197.9 L616.5 197.0 L616.6 196.2 L616.7 195.5 L616.8 194.8 L617.0 194.1 L617.1 193.6 L617.2 193.0 L617.3 192.5 L617.7 191.1 L618.0 190.4 L618.4 190.1 L618.8 190.4 L619.1 191.1 L619.5 192.5 L619.6 193.0 L619.7 193.6 L619.9 194.1 L620.0 194.8 L620.1 195.5 L620.3 196.2 L620.4 197.0 L620.5 197.9 L620.7 198.9 L620.8 200.0 L620.9 200.6 L620.9 201.1 L621.0 201.7 L621.0 202.4 L621.1 203.1 L621.1 203.7 L621.2 204.4 L621.2 205.2 L621.3 205.9 L621.3 206.7 L621.4 207.4 L621.4 208.2 L621.5 208.9 L621.6 209.7 L621.6 210.5 L621.7 211.3 L621.7 212.0 L621.8 212.8 L621.9 213.5 L621.9 214.3 L622.0 215.0 L622.1 215.7 L622.1 216.4 L622.2 217.1 L622.3 217.9 L622.4 218.6 L622.5 219.3 L622.6 220.0 L622.7 220.7 L622.7 221.4 L622.8 222.1 L622.9 222.9 L623.0 223.6 L623.1 224.3 L623.2 225.0 L623.3 225.7 L623.4 226.4 L623.5 227.1 L623.6 227.9 L623.6 228.6 L623.7 229.3 L623.8 230.0 L623.9 230.7 L624.0 231.4 L624.0 232.1 L624.1 232.8 L624.2 233.5 L624.2 234.1 L624.3 234.8 L624.4 235.5 L624.4 236.2 L624.5 236.8 L624.6 237.5 L624.7 238.2 L624.7 238.9 L624.8 239.6 L624.9 240.3 L624.9 241.1 L625.0 241.8 L625.1 242.6 L625.1 243.4 L625.2 244.2 L625.3 245.0 L625.4 245.6 L625.4 246.3 L625.5 247.0 L625.5 247.7 L625.6 248.4 L625.7 249.2 L625.7 250.0 L625.8 250.7 L625.9 251.5 L625.9 252.3 L626.0 253.1 L626.1 253.9 L626.2 254.7 L626.2 255.5 L626.3 256.3 L626.4 257.1 L626.4 257.8 L626.5 258.6 L626.6 259.4 L626.6 260.1 L626.7 260.8 L626.7 261.5 L626.8 262.1 L626.9 262.8 L626.9 263.4 L627.0 264.0 L627.0 264.5 L627.1 265.0 L627.2 266.2 L627.3 267.1 L627.4 267.8 L627.5 268.4 L627.6 268.8 L627.7 269.3 L627.8 269.7 L627.9 270.3 L628.1 271.0 L628.3 272.0 L628.4 272.5 L628.5 273.1 L628.7 273.7 L628.8 274.3 L629.0 275.0 L629.1 275.7 L629.3 276.4 L629.4 277.1 L629.6 277.8 L629.8 278.6 L629.9 279.3 L630.1 280.1 L630.3 280.9 L630.5 281.6 L630.7 282.4 L630.9 283.1 L631.1 283.9 L631.3 284.6 L631.5 285.3 L631.7 286.0 L631.9 286.7 L632.1 287.4 L632.3 288.1 L632.6 288.8 L632.8 289.5 L633.0 290.2 L633.3 290.9 L633.5 291.6 L633.8 292.3 L634.0 293.0 L634.3 293.7 L634.5 294.4 L634.8 295.1 L635.1 295.7 L635.4 296.4 L635.7 297.0 L635.9 297.6 L636.2 298.2 L636.6 298.8 L636.9 299.4 L637.2 299.9 L637.6 300.6 L638.0 301.2 L638.5 301.8 L638.9 302.4 L639.4 302.9 L639.9 303.5 L640.3 304.0 L640.8 304.5 L641.3 305.0 L641.8 305.4 L642.3 305.9 L642.9 306.3 L643.4 306.7 L644.0 307.1 L644.5 307.5 L645.1 307.9 L645.7 308.3 L646.3 308.6 L646.9 308.9 L647.6 309.2 L648.2 309.5 L648.9 309.8 L649.6 310.0 L650.2 310.2 L650.9 310.5 L651.6 310.7 L652.3 310.9 L653.0 311.1 L653.7 311.3 L654.4 311.4 L655.0 311.6 L655.7 311.8 L656.4 312.0 L657.1 312.2 L657.8 312.3 L658.6 312.5 L659.3 312.6 L660.0 312.7 L660.7 312.9 L661.4 313.0 L662.2 313.1 L662.9 313.2 L663.6 313.3 L664.2 313.4 L664.9 313.5 L665.6 313.6 L666.2 313.7 L667.0 313.8 L667.8 314.0 L668.6 314.1 L669.5 314.2 L670.3 314.3 L671.1 314.4 L671.8 314.5 L672.5 314.6 L673.1 314.7 L673.7 314.8 L674.2 314.8 L674.6 314.9" stroke="#e3262b" stroke-width="1.3"/>
<path d="M358.8 195.0 L359.2 195.0 L359.8 195.1 L360.4 195.1 L361.2 195.1 L362.0 195.2 L362.8 195.2 L363.6 195.3 L364.4 195.4 L365.1 195.5 L365.8 195.6 L366.5 195.8 L367.2 196.0 L367.9 196.2 L368.6 196.4 L369.3 196.6 L370.0 196.8 L370.7 196.9 L371.3 197.0 L372.1 197.0 L372.8 196.9 L373.5 196.8 L374.2 196.6 L374.9 196.4 L375.6 196.3 L376.3 196.3 L377.0 196.4 L377.7 196.5 L378.4 196.7 L379.1 196.9 L379.9 197.2 L380.6 197.3 L381.4 197.5 L382.1 197.6 L382.9 197.7 L383.7 197.8 L384.5 197.8 L385.3 197.9 L386.1 197.9 L386.9 198.0 L387.6 198.0 L388.4 198.0 L389.1 198.1 L389.8 198.1 L390.5 198.1 L391.2 198.1 L391.9 198.1 L392.6 198.0 L393.3 197.9 L394.1 197.7 L394.8 197.6 L395.5 197.4 L396.3 197.2 L396.9 197.1 L397.6 197.0 L398.4 197.0 L399.1 197.0 L399.9 197.0 L400.6 197.2 L401.4 197.5 L402.0 197.8 L402.5 198.1 L403.1 198.5 L403.7 198.9 L404.4 199.3 L405.0 199.8 L405.7 200.2 L406.4 200.6 L407.0 200.9 L407.6 201.3 L408.2 201.6 L408.9 202.0 L409.5 202.3 L410.2 202.7 L410.9 203.0 L411.5 203.3 L412.1 203.6 L412.7 203.8 L413.5 204.1 L414.2 204.3 L414.8 204.5 L415.5 204.6 L416.1 204.8 L416.9 204.9 L417.7 205.1 L418.3 205.2 L419.0 205.4 L419.8 205.5 L420.5 205.6 L421.3 205.7 L422.1 205.9 L422.9 206.0 L423.7 206.1 L424.4 206.2 L425.2 206.3 L425.9 206.4 L426.7 206.5 L427.4 206.6 L428.2 206.6 L428.9 206.7 L429.7 206.8 L430.4 206.9 L431.2 206.9 L431.9 207.0 L432.7 207.1 L433.5 207.2 L434.2 207.3 L435.0 207.4 L435.8 207.4 L436.6 207.5 L437.4 207.6 L438.1 207.7 L438.9 207.8 L439.6 208.0 L440.3 208.1 L441.0 208.3 L441.8 208.5 L442.5 208.8 L443.1 209.0 L443.8 209.3 L444.5 209.5 L445.1 209.8 L445.8 210.0 L446.5 210.1 L447.2 210.2 L447.9 210.2 L448.6 210.3 L449.4 210.3 L450.1 210.2 L450.8 210.2 L451.5 210.2 L452.2 210.1 L452.8 210.1 L453.6 210.0 L454.3 210.0 L454.9 209.9 L455.6 209.8 L456.2 209.7 L457.0 209.6 L457.8 209.6 L458.4 209.6 L459.1 209.6 L459.9 209.6 L460.6 209.7 L461.4 209.7 L462.2 209.8 L463.0 209.8 L463.8 209.9 L464.5 210.0 L465.3 210.1 L466.0 210.2 L466.8 210.4 L467.5 210.6 L468.3 210.8 L469.0 211.1 L469.8 211.3 L470.5 211.5 L471.3 211.6 L472.0 211.7 L472.8 211.8 L473.6 211.8 L474.3 211.7 L475.1 211.6 L475.8 211.5 L476.6 211.3 L477.4 211.1 L478.1 211.0 L478.9 210.8 L479.6 210.7 L480.4 210.6 L481.2 210.5 L481.9 210.5 L482.7 210.4 L483.5 210.4 L484.3 210.4 L485.1 210.4 L485.8 210.4 L486.6 210.5 L487.3 210.5 L487.9 210.6 L488.7 210.8 L489.4 211.1 L490.1 211.4 L490.7 211.7 L491.4 212.1 L492.1 212.4 L492.9 212.6 L493.6 212.7 L494.3 212.8 L495.1 212.9 L495.9 213.0 L496.7 213.0 L497.5 213.1 L498.3 213.1 L499.0 213.2 L499.8 213.2 L500.4 213.3 L501.3 213.4 L501.9 213.4 L502.5 213.4 L503.2 213.5 L504.0 213.6 L505.0 213.8 L505.5 213.9 L506.1 214.1 L506.8 214.3 L507.5 214.5 L508.2 214.7 L508.9 214.9 L509.7 215.2 L510.4 215.4 L511.2 215.6 L512.0 215.8 L512.8 216.0 L513.5 216.1 L514.3 216.2 L515.0 216.3 L515.7 216.3 L516.4 216.3 L517.1 216.2 L517.9 216.1 L518.6 216.0 L519.3 215.9 L520.0 215.7 L520.7 215.5 L521.4 215.4 L522.1 215.3 L522.9 215.2 L523.6 215.1 L524.3 215.1 L525.0 215.1 L525.7 215.2 L526.5 215.3 L527.2 215.4 L528.0 215.6 L528.7 215.7 L529.5 215.9 L530.2 216.2 L530.9 216.4 L531.7 216.6 L532.4 216.8 L533.1 217.0 L533.8 217.2 L534.5 217.4 L535.1 217.6 L535.9 217.8 L536.6 218.0 L537.3 218.2 L538.0 218.3 L538.6 218.5 L539.2 218.7 L539.9 218.8 L540.5 219.0 L541.2 219.2 L541.9 219.4 L542.6 219.6 L543.2 219.8 L543.9 220.0 L544.6 220.3 L545.3 220.5 L546.0 220.8 L546.7 221.1 L547.4 221.4 L548.1 221.6 L548.8 221.9 L549.5 222.1 L550.2 222.3 L550.8 222.5 L551.4 222.6 L552.3 222.7 L553.1 222.8 L553.9 222.8 L554.6 222.7 L555.3 222.6 L556.0 222.6 L556.8 222.6 L557.6 222.6 L558.2 222.7 L558.9 222.8 L559.6 222.8 L560.3 223.0 L561.0 223.1 L561.7 223.2 L562.4 223.3 L563.1 223.5 L563.8 223.6 L564.5 223.8 L565.2 223.9 L566.0 224.1 L566.7 224.2 L567.5 224.4 L568.2 224.6 L569.0 224.8 L569.7 225.0 L570.5 225.2 L571.2 225.3 L572.0 225.5 L572.7 225.6 L573.5 225.7 L574.2 225.7 L575.0 225.7 L575.7 225.8 L576.5 225.7 L577.2 225.7 L578.0 225.8 L578.7 225.8 L579.5 225.8 L580.2 225.9 L581.0 226.0 L581.7 226.1 L582.5 226.3 L583.3 226.4 L584.0 226.6 L584.8 226.8 L585.5 227.0 L586.3 227.2 L587.0 227.4 L587.7 227.6 L588.5 227.8 L589.2 228.1 L590.0 228.3 L590.7 228.6 L591.4 228.9 L592.1 229.1 L592.8 229.4 L593.4 229.8 L594.0 230.1 L594.6 230.5 L595.2 230.8 L595.8 231.2 L596.3 231.6 L596.8 232.1 L597.3 232.6 L597.7 233.2 L598.2 233.9 L598.5 234.4 L598.8 234.9 L599.0 235.5 L599.3 236.1 L599.6 236.8 L599.8 237.4 L600.1 238.1 L600.3 238.8 L600.6 239.6 L600.8 240.3 L601.0 241.1 L601.3 241.9 L601.5 242.7 L601.7 243.3 L601.8 243.9 L602.0 244.5 L602.1 245.2 L602.2 245.8 L602.4 246.5 L602.5 247.1 L602.6 247.8 L602.8 248.5 L602.9 249.2 L603.0 249.9 L603.2 250.7 L603.3 251.4 L603.4 252.1 L603.6 252.9 L603.7 253.7 L603.9 254.4 L604.0 255.2 L604.1 255.9 L604.2 256.5 L604.4 257.2 L604.5 257.9 L604.6 258.6 L604.8 259.4 L604.9 260.1 L605.0 260.9 L605.2 261.6 L605.3 262.4 L605.4 263.1 L605.6 263.9 L605.7 264.6 L605.8 265.4 L606.0 266.1 L606.1 266.9 L606.2 267.6 L606.3 268.3 L606.5 269.0 L606.6 269.6 L606.7 270.3 L606.8 270.9 L606.9 271.7 L607.1 272.5 L607.2 273.3 L607.4 274.0 L607.5 274.7 L607.6 275.4 L607.7 276.1 L607.9 276.8 L608.0 277.5 L608.1 278.1 L608.2 278.8 L608.3 279.4 L608.4 280.1 L608.6 280.7 L608.7 281.3 L608.8 282.0 L608.9 282.8 L609.1 283.5 L609.2 284.3 L609.3 285.0 L609.4 285.8 L609.6 286.5 L609.7 287.2 L609.8 287.9 L609.9 288.7 L610.1 289.3 L610.2 290.0 L610.3 290.7 L610.5 291.4 L610.6 292.0 L610.8 292.8 L611.0 293.5 L611.2 294.3 L611.4 295.0 L611.6 295.7 L611.8 296.4 L612.0 297.0 L612.3 297.7 L612.5 298.3 L612.7 299.0 L612.9 299.6 L613.2 300.3 L613.4 301.1 L613.7 301.8 L613.9 302.5 L614.2 303.1 L614.4 303.8 L614.7 304.4 L614.9 305.1 L615.2 305.7 L615.5 306.4 L615.8 307.1 L616.0 307.8 L616.3 308.5 L616.6 309.2 L616.9 309.9 L617.2 310.5 L617.5 311.1 L617.9 311.8 L618.4 312.6 L618.9 313.2 L619.4 313.8 L619.9 314.4 L620.5 314.9 L621.1 315.3 L621.7 315.7 L622.4 316.0 L623.1 316.3 L623.8 316.6 L624.4 316.8 L624.5 317.0 L623.8 317.2 L623.5 317.3 L624.5 317.4 L628.0 317.5 L628.4 317.5 L628.8 317.5 L629.3 317.5 L629.8 317.5 L630.3 317.5 L630.8 317.5 L631.4 317.6 L631.9 317.6 L632.5 317.6 L633.2 317.6 L633.8 317.6 L634.5 317.6 L635.2 317.6 L635.9 317.6 L636.6 317.6 L637.3 317.6 L638.1 317.6 L638.9 317.6 L639.7 317.6 L640.4 317.6 L641.3 317.6 L642.1 317.6 L642.9 317.6 L643.7 317.7 L644.6 317.7 L645.4 317.7 L646.3 317.7 L647.2 317.7 L648.0 317.7 L648.9 317.7 L649.8 317.7 L650.6 317.7 L651.5 317.7 L652.4 317.7 L653.3 317.7 L654.1 317.7 L655.0 317.7 L655.9 317.7 L656.7 317.7 L657.6 317.7 L658.4 317.7 L659.3 317.7 L660.1 317.7 L660.9 317.7 L661.7 317.7 L662.5 317.7 L663.3 317.7 L664.1 317.8 L664.8 317.8 L665.6 317.8 L666.3 317.8 L667.0 317.8 L667.7 317.8 L668.4 317.8 L669.0 317.8 L669.7 317.8 L670.3 317.8 L670.9 317.8 L671.4 317.8 L672.0 317.8 L672.5 317.8 L672.9 317.8 L673.4 317.8 L673.8 317.8 L674.2 317.8 L674.6 317.8" stroke="#141414" stroke-width="1.3"/>
</g>

<text x="167" y="169.9" font-size="16" class="serif" fill="#000" stroke="#000" stroke-width="0.15">a</text>
<text x="508.4" y="170.1" font-size="16" class="serif" fill="#000" stroke="#000" stroke-width="0.15">b</text>
<text x="167" y="352.4" font-size="16" class="serif" fill="#000" stroke="#000" stroke-width="0.15">c</text>
<text x="508.4" y="353.2" font-size="16" class="serif" fill="#000" stroke="#000" stroke-width="0.15">d</text>

<rect x="0" y="0" width="685" height="1.8" fill="#000"/>
<rect x="0" y="0" width="1.6" height="367" fill="#000"/>
<rect x="683" y="0" width="2" height="367" fill="#000"/>
<rect x="0" y="365" width="685" height="2" fill="#000"/>
</svg>
</body></html>
